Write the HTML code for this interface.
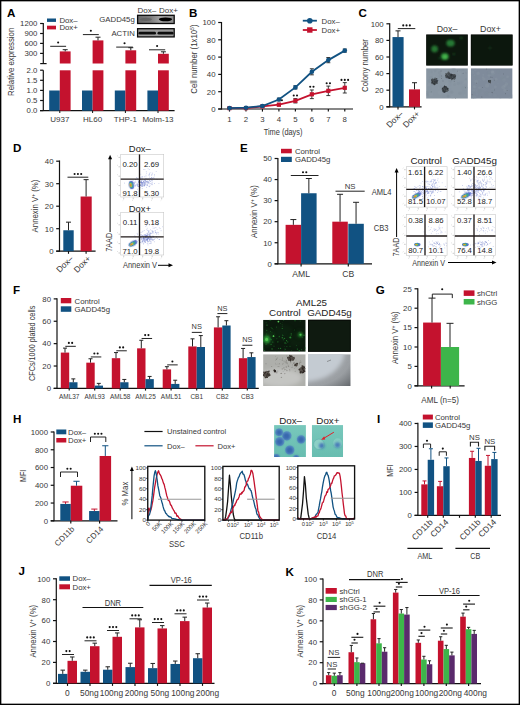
<!DOCTYPE html><html><head><meta charset="utf-8"><style>html,body{margin:0;padding:0;background:#fff;width:520px;height:705px;overflow:hidden}svg{display:block}text{font-family:"Liberation Sans",sans-serif}</style></head><body><svg width="520" height="705" viewBox="0 0 520 705" font-family="Liberation Sans, sans-serif">
<defs><filter id="bl1" x="-50%" y="-50%" width="200%" height="200%"><feGaussianBlur stdDeviation="1.2"/></filter><filter id="bl05" x="-50%" y="-50%" width="200%" height="200%"><feGaussianBlur stdDeviation="0.6"/></filter><filter id="bl2" x="-50%" y="-50%" width="200%" height="200%"><feGaussianBlur stdDeviation="2"/></filter></defs>
<rect x="0" y="0" width="520" height="705" fill="#fff"/>
<text transform="translate(7.00,12.60)" x="0" y="4.18" font-size="11.6" text-anchor="start" fill="#000" font-weight="bold" >A</text>
<line x1="43.30" y1="23.00" x2="43.30" y2="63.80" stroke="#111" stroke-width="1.2" />
<line x1="40.10" y1="23.50" x2="43.30" y2="23.50" stroke="#111" stroke-width="1.2" />
<text transform="translate(37.40,23.50)" x="0" y="2.81" font-size="7.8" text-anchor="end" fill="#383838" >1200</text>
<line x1="40.10" y1="33.50" x2="43.30" y2="33.50" stroke="#111" stroke-width="1.2" />
<text transform="translate(37.40,33.50)" x="0" y="2.81" font-size="7.8" text-anchor="end" fill="#383838" >900</text>
<line x1="40.10" y1="43.40" x2="43.30" y2="43.40" stroke="#111" stroke-width="1.2" />
<text transform="translate(37.40,43.40)" x="0" y="2.81" font-size="7.8" text-anchor="end" fill="#383838" >600</text>
<line x1="40.10" y1="53.40" x2="43.30" y2="53.40" stroke="#111" stroke-width="1.2" />
<text transform="translate(37.40,53.40)" x="0" y="2.81" font-size="7.8" text-anchor="end" fill="#383838" >300</text>
<line x1="40.20" y1="63.60" x2="46.60" y2="63.60" stroke="#111" stroke-width="1.2" />
<line x1="43.30" y1="70.20" x2="43.30" y2="110.80" stroke="#111" stroke-width="1.2" />
<line x1="40.10" y1="70.20" x2="43.30" y2="70.20" stroke="#111" stroke-width="1.2" />
<text transform="translate(37.40,70.20)" x="0" y="2.81" font-size="7.8" text-anchor="end" fill="#383838" >2.0</text>
<line x1="40.10" y1="80.30" x2="43.30" y2="80.30" stroke="#111" stroke-width="1.2" />
<text transform="translate(37.40,80.30)" x="0" y="2.81" font-size="7.8" text-anchor="end" fill="#383838" >1.5</text>
<line x1="40.10" y1="90.40" x2="43.30" y2="90.40" stroke="#111" stroke-width="1.2" />
<text transform="translate(37.40,90.40)" x="0" y="2.81" font-size="7.8" text-anchor="end" fill="#383838" >1.0</text>
<line x1="40.10" y1="100.50" x2="43.30" y2="100.50" stroke="#111" stroke-width="1.2" />
<text transform="translate(37.40,100.50)" x="0" y="2.81" font-size="7.8" text-anchor="end" fill="#383838" >0.5</text>
<line x1="40.10" y1="110.60" x2="43.30" y2="110.60" stroke="#111" stroke-width="1.2" />
<text transform="translate(37.40,110.60)" x="0" y="2.81" font-size="7.8" text-anchor="end" fill="#383838" >0.0</text>
<line x1="40.00" y1="110.70" x2="174.60" y2="110.70" stroke="#111" stroke-width="1.2" />
<text transform="translate(10.7,61.8) rotate(-90) scale(0.86,1)" x="0" y="3.28" font-size="9.1" text-anchor="middle" fill="#383838">Relative expression</text>
<rect x="49.20" y="90.50" width="10.60" height="20.20" fill="#115282" />
<rect x="59.80" y="70.30" width="10.80" height="40.40" fill="#c4122e" />
<rect x="59.80" y="51.40" width="10.80" height="12.10" fill="#c4122e" />
<line x1="65.20" y1="49.70" x2="65.20" y2="51.40" stroke="#222" stroke-width="1" />
<line x1="62.70" y1="49.70" x2="67.70" y2="49.70" stroke="#222" stroke-width="1" />
<line x1="50.20" y1="46.30" x2="66.10" y2="46.30" stroke="#222" stroke-width="1" />
<circle cx="58.15" cy="42.50" r="1.05" fill="#111"/>
<line x1="59.80" y1="110.70" x2="59.80" y2="113.00" stroke="#111" stroke-width="1" />
<text transform="translate(59.80,119.30)" x="0" y="2.88" font-size="8" text-anchor="middle" fill="#383838" >U937</text>
<rect x="82.00" y="90.50" width="10.60" height="20.20" fill="#115282" />
<rect x="92.60" y="70.30" width="10.80" height="40.40" fill="#c4122e" />
<rect x="92.60" y="40.40" width="10.80" height="23.10" fill="#c4122e" />
<line x1="98.00" y1="37.20" x2="98.00" y2="40.40" stroke="#222" stroke-width="1" />
<line x1="95.50" y1="37.20" x2="100.50" y2="37.20" stroke="#222" stroke-width="1" />
<line x1="82.90" y1="34.60" x2="98.80" y2="34.60" stroke="#222" stroke-width="1" />
<circle cx="90.85" cy="30.80" r="1.05" fill="#111"/>
<line x1="92.60" y1="110.70" x2="92.60" y2="113.00" stroke="#111" stroke-width="1" />
<text transform="translate(92.60,119.30)" x="0" y="2.88" font-size="8" text-anchor="middle" fill="#383838" >HL60</text>
<rect x="114.80" y="90.50" width="10.60" height="20.20" fill="#115282" />
<rect x="125.40" y="70.30" width="10.80" height="40.40" fill="#c4122e" />
<rect x="125.40" y="50.30" width="10.80" height="13.20" fill="#c4122e" />
<line x1="130.80" y1="47.70" x2="130.80" y2="50.30" stroke="#222" stroke-width="1" />
<line x1="128.30" y1="47.70" x2="133.30" y2="47.70" stroke="#222" stroke-width="1" />
<line x1="116.20" y1="47.10" x2="132.90" y2="47.10" stroke="#222" stroke-width="1" />
<circle cx="124.55" cy="43.30" r="1.05" fill="#111"/>
<line x1="125.40" y1="110.70" x2="125.40" y2="113.00" stroke="#111" stroke-width="1" />
<text transform="translate(125.40,119.30)" x="0" y="2.88" font-size="8" text-anchor="middle" fill="#383838" >THP-1</text>
<rect x="147.40" y="90.50" width="10.60" height="20.20" fill="#115282" />
<rect x="158.00" y="70.30" width="10.80" height="40.40" fill="#c4122e" />
<rect x="158.00" y="53.80" width="10.80" height="9.70" fill="#c4122e" />
<line x1="163.40" y1="51.80" x2="163.40" y2="53.80" stroke="#222" stroke-width="1" />
<line x1="160.90" y1="51.80" x2="165.90" y2="51.80" stroke="#222" stroke-width="1" />
<line x1="149.00" y1="49.80" x2="165.20" y2="49.80" stroke="#222" stroke-width="1" />
<circle cx="157.10" cy="46.00" r="1.05" fill="#111"/>
<line x1="158.00" y1="110.70" x2="158.00" y2="113.00" stroke="#111" stroke-width="1" />
<text transform="translate(158.00,119.30)" x="0" y="2.88" font-size="8" text-anchor="middle" fill="#383838" >Molm-13</text>
<rect x="47.00" y="18.50" width="9.00" height="3.40" fill="#115282" />
<text transform="translate(59.40,20.20)" x="0" y="2.81" font-size="7.8" text-anchor="start" fill="#383838" >Dox–</text>
<rect x="47.00" y="25.70" width="9.00" height="3.70" fill="#c4122e" />
<text transform="translate(59.40,27.60)" x="0" y="2.81" font-size="7.8" text-anchor="start" fill="#383838" >Dox+</text>
<text transform="translate(146.80,10.30)" x="0" y="2.88" font-size="8" text-anchor="middle" fill="#383838" >Dox–</text>
<text transform="translate(168.50,10.30)" x="0" y="2.88" font-size="8" text-anchor="middle" fill="#383838" >Dox+</text>
<defs><linearGradient id="wb1" x1="0" x2="1"><stop offset="0" stop-color="#6a6a6a"/><stop offset="0.35" stop-color="#7c7c7c"/><stop offset="0.6" stop-color="#a0a0a0"/><stop offset="1" stop-color="#8a8a8a"/></linearGradient></defs>
<rect x="137.6" y="15.3" width="36.6" height="8.2" fill="url(#wb1)" stroke="#0a0a0a" stroke-width="1.3"/>
<g filter="url(#bl05)"><ellipse cx="146" cy="19.4" rx="6" ry="1.6" fill="#555" opacity="0.6"/><ellipse cx="165.5" cy="19.3" rx="6.6" ry="1.9" fill="#050505"/></g>
<rect x="137.6" y="28.7" width="36.6" height="8.2" fill="#9a9a9a" stroke="#0a0a0a" stroke-width="1.3"/>
<g filter="url(#bl05)"><rect x="138.5" y="31.8" width="17.5" height="2.8" rx="1.4" fill="#111"/><rect x="157.5" y="31.8" width="16" height="2.8" rx="1.4" fill="#111"/></g>
<text transform="translate(134.80,19.40)" x="0" y="2.81" font-size="7.8" text-anchor="end" fill="#383838" >GADD45g</text>
<text transform="translate(134.80,32.80)" x="0" y="2.81" font-size="7.8" text-anchor="end" fill="#383838" >ACTIN</text>
<text transform="translate(189.10,12.50)" x="0" y="4.18" font-size="11.6" text-anchor="start" fill="#000" font-weight="bold" >B</text>
<line x1="221.50" y1="22.00" x2="221.50" y2="109.50" stroke="#111" stroke-width="1.2" />
<line x1="218.20" y1="109.00" x2="221.50" y2="109.00" stroke="#111" stroke-width="1.2" />
<text transform="translate(215.50,109.00)" x="0" y="2.81" font-size="7.8" text-anchor="end" fill="#383838" >0</text>
<line x1="218.20" y1="91.70" x2="221.50" y2="91.70" stroke="#111" stroke-width="1.2" />
<text transform="translate(215.50,91.70)" x="0" y="2.81" font-size="7.8" text-anchor="end" fill="#383838" >20</text>
<line x1="218.20" y1="74.40" x2="221.50" y2="74.40" stroke="#111" stroke-width="1.2" />
<text transform="translate(215.50,74.40)" x="0" y="2.81" font-size="7.8" text-anchor="end" fill="#383838" >40</text>
<line x1="218.20" y1="57.10" x2="221.50" y2="57.10" stroke="#111" stroke-width="1.2" />
<text transform="translate(215.50,57.10)" x="0" y="2.81" font-size="7.8" text-anchor="end" fill="#383838" >60</text>
<line x1="218.20" y1="39.80" x2="221.50" y2="39.80" stroke="#111" stroke-width="1.2" />
<text transform="translate(215.50,39.80)" x="0" y="2.81" font-size="7.8" text-anchor="end" fill="#383838" >80</text>
<line x1="218.20" y1="22.50" x2="221.50" y2="22.50" stroke="#111" stroke-width="1.2" />
<text transform="translate(215.50,22.50)" x="0" y="2.81" font-size="7.8" text-anchor="end" fill="#383838" >100</text>
<line x1="218.20" y1="109.00" x2="353.00" y2="109.00" stroke="#111" stroke-width="1.2" />
<line x1="229.50" y1="109.00" x2="229.50" y2="111.60" stroke="#111" stroke-width="1.15" />
<text transform="translate(229.50,118.70)" x="0" y="2.81" font-size="7.8" text-anchor="middle" fill="#383838" >1</text>
<line x1="245.97" y1="109.00" x2="245.97" y2="111.60" stroke="#111" stroke-width="1.15" />
<text transform="translate(245.97,118.70)" x="0" y="2.81" font-size="7.8" text-anchor="middle" fill="#383838" >2</text>
<line x1="262.44" y1="109.00" x2="262.44" y2="111.60" stroke="#111" stroke-width="1.15" />
<text transform="translate(262.44,118.70)" x="0" y="2.81" font-size="7.8" text-anchor="middle" fill="#383838" >3</text>
<line x1="278.91" y1="109.00" x2="278.91" y2="111.60" stroke="#111" stroke-width="1.15" />
<text transform="translate(278.91,118.70)" x="0" y="2.81" font-size="7.8" text-anchor="middle" fill="#383838" >4</text>
<line x1="295.38" y1="109.00" x2="295.38" y2="111.60" stroke="#111" stroke-width="1.15" />
<text transform="translate(295.38,118.70)" x="0" y="2.81" font-size="7.8" text-anchor="middle" fill="#383838" >5</text>
<line x1="311.85" y1="109.00" x2="311.85" y2="111.60" stroke="#111" stroke-width="1.15" />
<text transform="translate(311.85,118.70)" x="0" y="2.81" font-size="7.8" text-anchor="middle" fill="#383838" >6</text>
<line x1="328.32" y1="109.00" x2="328.32" y2="111.60" stroke="#111" stroke-width="1.15" />
<text transform="translate(328.32,118.70)" x="0" y="2.81" font-size="7.8" text-anchor="middle" fill="#383838" >7</text>
<line x1="344.79" y1="109.00" x2="344.79" y2="111.60" stroke="#111" stroke-width="1.15" />
<text transform="translate(344.79,118.70)" x="0" y="2.81" font-size="7.8" text-anchor="middle" fill="#383838" >8</text>
<text transform="translate(283.10,131.50) scale(0.86,1)" x="0" y="3.10" font-size="8.6" text-anchor="middle" fill="#383838" >Time (days)</text>
<text transform="translate(194.2,59.1) rotate(-90) scale(0.86,1)" x="0" y="3.28" font-size="9.1" text-anchor="middle" fill="#383838">Cell number (1x10<tspan font-size="6" dy="-3.2">5</tspan><tspan dy="3.2">)</tspan></text>
<line x1="229.50" y1="107.62" x2="229.50" y2="108.65" stroke="#222" stroke-width="0.9" />
<line x1="227.50" y1="107.62" x2="231.50" y2="107.62" stroke="#222" stroke-width="0.9" />
<line x1="227.50" y1="108.65" x2="231.50" y2="108.65" stroke="#222" stroke-width="0.9" />
<line x1="245.97" y1="107.62" x2="245.97" y2="108.65" stroke="#222" stroke-width="0.9" />
<line x1="243.97" y1="107.62" x2="247.97" y2="107.62" stroke="#222" stroke-width="0.9" />
<line x1="243.97" y1="108.65" x2="247.97" y2="108.65" stroke="#222" stroke-width="0.9" />
<line x1="262.44" y1="105.89" x2="262.44" y2="106.92" stroke="#222" stroke-width="0.9" />
<line x1="260.44" y1="105.89" x2="264.44" y2="105.89" stroke="#222" stroke-width="0.9" />
<line x1="260.44" y1="106.92" x2="264.44" y2="106.92" stroke="#222" stroke-width="0.9" />
<line x1="278.91" y1="103.38" x2="278.91" y2="105.97" stroke="#222" stroke-width="0.9" />
<line x1="276.91" y1="103.38" x2="280.91" y2="103.38" stroke="#222" stroke-width="0.9" />
<line x1="276.91" y1="105.97" x2="280.91" y2="105.97" stroke="#222" stroke-width="0.9" />
<line x1="295.38" y1="98.62" x2="295.38" y2="102.94" stroke="#222" stroke-width="0.9" />
<line x1="293.38" y1="98.62" x2="297.38" y2="98.62" stroke="#222" stroke-width="0.9" />
<line x1="293.38" y1="102.94" x2="297.38" y2="102.94" stroke="#222" stroke-width="0.9" />
<line x1="311.85" y1="89.97" x2="311.85" y2="98.62" stroke="#222" stroke-width="0.9" />
<line x1="309.85" y1="89.97" x2="313.85" y2="89.97" stroke="#222" stroke-width="0.9" />
<line x1="309.85" y1="98.62" x2="313.85" y2="98.62" stroke="#222" stroke-width="0.9" />
<line x1="328.32" y1="86.08" x2="328.32" y2="95.59" stroke="#222" stroke-width="0.9" />
<line x1="326.32" y1="86.08" x2="330.32" y2="86.08" stroke="#222" stroke-width="0.9" />
<line x1="326.32" y1="95.59" x2="330.32" y2="95.59" stroke="#222" stroke-width="0.9" />
<line x1="344.79" y1="82.62" x2="344.79" y2="93.00" stroke="#222" stroke-width="0.9" />
<line x1="342.79" y1="82.62" x2="346.79" y2="82.62" stroke="#222" stroke-width="0.9" />
<line x1="342.79" y1="93.00" x2="346.79" y2="93.00" stroke="#222" stroke-width="0.9" />
<polyline points="229.5,108.1 246.0,108.1 262.4,106.4 278.9,104.7 295.4,100.8 311.9,94.3 328.3,90.8 344.8,87.8" fill="none" stroke="#c4122e" stroke-width="1.8"/>
<rect x="227.40" y="106.04" width="4.20" height="4.20" fill="#c4122e" />
<rect x="243.87" y="106.04" width="4.20" height="4.20" fill="#c4122e" />
<rect x="260.34" y="104.31" width="4.20" height="4.20" fill="#c4122e" />
<rect x="276.81" y="102.58" width="4.20" height="4.20" fill="#c4122e" />
<rect x="293.28" y="98.68" width="4.20" height="4.20" fill="#c4122e" />
<rect x="309.75" y="92.20" width="4.20" height="4.20" fill="#c4122e" />
<rect x="326.22" y="88.74" width="4.20" height="4.20" fill="#c4122e" />
<rect x="342.69" y="85.71" width="4.20" height="4.20" fill="#c4122e" />
<line x1="229.50" y1="107.62" x2="229.50" y2="108.65" stroke="#222" stroke-width="0.9" />
<line x1="227.50" y1="107.62" x2="231.50" y2="107.62" stroke="#222" stroke-width="0.9" />
<line x1="227.50" y1="108.65" x2="231.50" y2="108.65" stroke="#222" stroke-width="0.9" />
<line x1="245.97" y1="107.18" x2="245.97" y2="108.22" stroke="#222" stroke-width="0.9" />
<line x1="243.97" y1="107.18" x2="247.97" y2="107.18" stroke="#222" stroke-width="0.9" />
<line x1="243.97" y1="108.22" x2="247.97" y2="108.22" stroke="#222" stroke-width="0.9" />
<line x1="262.44" y1="105.11" x2="262.44" y2="106.84" stroke="#222" stroke-width="0.9" />
<line x1="260.44" y1="105.11" x2="264.44" y2="105.11" stroke="#222" stroke-width="0.9" />
<line x1="260.44" y1="106.84" x2="264.44" y2="106.84" stroke="#222" stroke-width="0.9" />
<line x1="278.91" y1="98.19" x2="278.91" y2="100.78" stroke="#222" stroke-width="0.9" />
<line x1="276.91" y1="98.19" x2="280.91" y2="98.19" stroke="#222" stroke-width="0.9" />
<line x1="276.91" y1="100.78" x2="280.91" y2="100.78" stroke="#222" stroke-width="0.9" />
<line x1="295.38" y1="85.82" x2="295.38" y2="88.93" stroke="#222" stroke-width="0.9" />
<line x1="293.38" y1="85.82" x2="297.38" y2="85.82" stroke="#222" stroke-width="0.9" />
<line x1="293.38" y1="88.93" x2="297.38" y2="88.93" stroke="#222" stroke-width="0.9" />
<line x1="311.85" y1="68.78" x2="311.85" y2="74.83" stroke="#222" stroke-width="0.9" />
<line x1="309.85" y1="68.78" x2="313.85" y2="68.78" stroke="#222" stroke-width="0.9" />
<line x1="309.85" y1="74.83" x2="313.85" y2="74.83" stroke="#222" stroke-width="0.9" />
<line x1="328.32" y1="57.53" x2="328.32" y2="62.72" stroke="#222" stroke-width="0.9" />
<line x1="326.32" y1="57.53" x2="330.32" y2="57.53" stroke="#222" stroke-width="0.9" />
<line x1="326.32" y1="62.72" x2="330.32" y2="62.72" stroke="#222" stroke-width="0.9" />
<line x1="344.79" y1="49.06" x2="344.79" y2="52.17" stroke="#222" stroke-width="0.9" />
<line x1="342.79" y1="49.06" x2="346.79" y2="49.06" stroke="#222" stroke-width="0.9" />
<line x1="342.79" y1="52.17" x2="346.79" y2="52.17" stroke="#222" stroke-width="0.9" />
<polyline points="229.5,108.1 246.0,107.7 262.4,106.0 278.9,99.5 295.4,87.4 311.9,71.8 328.3,60.1 344.8,50.6" fill="none" stroke="#115282" stroke-width="1.8"/>
<circle cx="229.5" cy="108.1" r="2.3" fill="#115282"/>
<circle cx="246.0" cy="107.7" r="2.3" fill="#115282"/>
<circle cx="262.4" cy="106.0" r="2.3" fill="#115282"/>
<circle cx="278.9" cy="99.5" r="2.3" fill="#115282"/>
<circle cx="295.4" cy="87.4" r="2.3" fill="#115282"/>
<circle cx="311.9" cy="71.8" r="2.3" fill="#115282"/>
<circle cx="328.3" cy="60.1" r="2.3" fill="#115282"/>
<circle cx="344.8" cy="50.6" r="2.3" fill="#115282"/>
<circle cx="281.91" cy="100.30" r="1.05" fill="#111"/>
<circle cx="293.73" cy="95.50" r="1.05" fill="#111"/>
<circle cx="297.03" cy="95.50" r="1.05" fill="#111"/>
<circle cx="310.20" cy="86.80" r="1.05" fill="#111"/>
<circle cx="313.50" cy="86.80" r="1.05" fill="#111"/>
<circle cx="326.67" cy="83.30" r="1.05" fill="#111"/>
<circle cx="329.97" cy="83.30" r="1.05" fill="#111"/>
<circle cx="341.49" cy="79.90" r="1.05" fill="#111"/>
<circle cx="344.79" cy="79.90" r="1.05" fill="#111"/>
<circle cx="348.09" cy="79.90" r="1.05" fill="#111"/>
<line x1="302.80" y1="20.70" x2="316.90" y2="20.70" stroke="#115282" stroke-width="1.8" />
<circle cx="309.8" cy="20.7" r="2.8" fill="#115282"/>
<text transform="translate(321.60,20.70)" x="0" y="2.81" font-size="7.8" text-anchor="start" fill="#383838" >Dox–</text>
<line x1="302.80" y1="30.00" x2="316.90" y2="30.00" stroke="#c4122e" stroke-width="1.8" />
<rect x="307.10" y="27.30" width="5.40" height="5.40" fill="#c4122e" />
<text transform="translate(321.60,30.00)" x="0" y="2.81" font-size="7.8" text-anchor="start" fill="#383838" >Dox+</text>
<text transform="translate(358.60,12.50)" x="0" y="4.18" font-size="11.6" text-anchor="start" fill="#000" font-weight="bold" >C</text>
<line x1="389.70" y1="23.30" x2="389.70" y2="107.30" stroke="#111" stroke-width="1.2" />
<line x1="386.40" y1="106.80" x2="389.70" y2="106.80" stroke="#111" stroke-width="1.2" />
<text transform="translate(383.70,106.80)" x="0" y="2.81" font-size="7.8" text-anchor="end" fill="#383838" >0</text>
<line x1="386.40" y1="90.20" x2="389.70" y2="90.20" stroke="#111" stroke-width="1.2" />
<text transform="translate(383.70,90.20)" x="0" y="2.81" font-size="7.8" text-anchor="end" fill="#383838" >20</text>
<line x1="386.40" y1="73.60" x2="389.70" y2="73.60" stroke="#111" stroke-width="1.2" />
<text transform="translate(383.70,73.60)" x="0" y="2.81" font-size="7.8" text-anchor="end" fill="#383838" >40</text>
<line x1="386.40" y1="57.00" x2="389.70" y2="57.00" stroke="#111" stroke-width="1.2" />
<text transform="translate(383.70,57.00)" x="0" y="2.81" font-size="7.8" text-anchor="end" fill="#383838" >60</text>
<line x1="386.40" y1="40.40" x2="389.70" y2="40.40" stroke="#111" stroke-width="1.2" />
<text transform="translate(383.70,40.40)" x="0" y="2.81" font-size="7.8" text-anchor="end" fill="#383838" >80</text>
<line x1="386.40" y1="23.80" x2="389.70" y2="23.80" stroke="#111" stroke-width="1.2" />
<text transform="translate(383.70,23.80)" x="0" y="2.81" font-size="7.8" text-anchor="end" fill="#383838" >100</text>
<line x1="386.40" y1="106.80" x2="421.60" y2="106.80" stroke="#111" stroke-width="1.2" />
<rect x="392.50" y="37.08" width="11.10" height="69.72" fill="#115282" />
<line x1="398.00" y1="30.86" x2="398.00" y2="37.08" stroke="#222" stroke-width="1" />
<line x1="395.50" y1="30.86" x2="400.50" y2="30.86" stroke="#222" stroke-width="1" />
<rect x="409.00" y="89.37" width="11.00" height="17.43" fill="#c4122e" />
<line x1="414.50" y1="82.73" x2="414.50" y2="89.37" stroke="#222" stroke-width="1" />
<line x1="412.00" y1="82.73" x2="417.00" y2="82.73" stroke="#222" stroke-width="1" />
<line x1="398.00" y1="106.80" x2="398.00" y2="109.40" stroke="#111" stroke-width="1.15" />
<line x1="414.50" y1="106.80" x2="414.50" y2="109.40" stroke="#111" stroke-width="1.15" />
<line x1="397.80" y1="28.60" x2="415.30" y2="28.60" stroke="#222" stroke-width="1" />
<circle cx="403.25" cy="25.40" r="1.05" fill="#111"/>
<circle cx="406.55" cy="25.40" r="1.05" fill="#111"/>
<circle cx="409.85" cy="25.40" r="1.05" fill="#111"/>
<text transform="translate(401.5,112.2) rotate(-45)" x="0" y="3.02" font-size="8.4" text-anchor="end" fill="#383838">Dox–</text>
<text transform="translate(418,112.2) rotate(-45)" x="0" y="3.02" font-size="8.4" text-anchor="end" fill="#383838">Dox+</text>
<text transform="translate(365,65.5) rotate(-90) scale(0.86,1)" x="0" y="3.28" font-size="9.1" text-anchor="middle" fill="#383838">Colony number</text>
<text transform="translate(447.00,28.70)" x="0" y="3.17" font-size="8.8" text-anchor="middle" fill="#383838" >Dox–</text>
<text transform="translate(490.50,28.70)" x="0" y="3.17" font-size="8.8" text-anchor="middle" fill="#383838" >Dox+</text>
<svg x="426.2" y="34.6" width="41.60000000000002" height="30.999999999999993" viewBox="426.2 34.6 41.60000000000002 30.999999999999993" overflow="hidden">
<rect x="426.20" y="34.60" width="41.60" height="31.00" fill="#0c170d" />
<rect x="426.2" y="34.6" width="41.60000000000002" height="30.999999999999993" fill="none" stroke="#060806" stroke-width="1.2"/>
<ellipse cx="450.5" cy="43.2" rx="4.2" ry="3.4" fill="#267834" filter="url(#bl1)"/>
<ellipse cx="434.6" cy="48.9" rx="3.4" ry="3.4" fill="#257532" filter="url(#bl1)"/>
<ellipse cx="444.8" cy="56.5" rx="3.9" ry="3.6" fill="#31983c" filter="url(#bl1)"/>
<ellipse cx="445" cy="56.8" rx="1.6" ry="1.4" fill="#5cc85a" filter="url(#bl1)"/>
<ellipse cx="461.2" cy="38.1" rx="1.1" ry="1.0" fill="#1f5e28" filter="url(#bl1)"/>
<ellipse cx="453.9" cy="54.2" rx="0.9" ry="0.9" fill="#1f5e28" filter="url(#bl1)"/>
<ellipse cx="439.5" cy="58.2" rx="0.9" ry="0.9" fill="#1c5424" filter="url(#bl1)"/>
</svg>
<svg x="470.8" y="34.6" width="41.80000000000001" height="30.999999999999993" viewBox="470.8 34.6 41.80000000000001 30.999999999999993" overflow="hidden">
<rect x="470.80" y="34.60" width="41.80" height="31.00" fill="#0c170d" />
<rect x="470.8" y="34.6" width="41.80000000000001" height="30.999999999999993" fill="none" stroke="#060806" stroke-width="1.2"/>
<ellipse cx="490" cy="48" rx="1.1" ry="1.1" fill="#1c4420" filter="url(#bl1)"/>
</svg>
<svg x="426.1" y="68.2" width="41.799999999999955" height="30.5" viewBox="426.1 68.2 41.799999999999955 30.5" overflow="hidden">
<rect x="426.10" y="68.20" width="41.80" height="30.50" fill="#8996a2" />
<circle cx="439.6" cy="72.8" r="1.7" fill="#7e8c98" opacity="0.25" filter="url(#bl05)"/>
<circle cx="460.4" cy="71.1" r="1.6" fill="#8592a0" opacity="0.25" filter="url(#bl05)"/>
<circle cx="435.1" cy="70.8" r="1.4" fill="#7e8c98" opacity="0.25" filter="url(#bl05)"/>
<circle cx="429.9" cy="81.1" r="2.0" fill="#7e8c98" opacity="0.25" filter="url(#bl05)"/>
<circle cx="465.7" cy="87.4" r="1.6" fill="#7e8c98" opacity="0.25" filter="url(#bl05)"/>
<circle cx="450.2" cy="80.3" r="2.2" fill="#7e8c98" opacity="0.25" filter="url(#bl05)"/>
<circle cx="449.4" cy="72.3" r="1.4" fill="#8592a0" opacity="0.25" filter="url(#bl05)"/>
<circle cx="431.0" cy="77.6" r="1.9" fill="#7e8c98" opacity="0.25" filter="url(#bl05)"/>
<circle cx="430.4" cy="85.6" r="1.1" fill="#7e8c98" opacity="0.25" filter="url(#bl05)"/>
<circle cx="449.0" cy="70.1" r="0.9" fill="#7e8c98" opacity="0.25" filter="url(#bl05)"/>
<circle cx="446.9" cy="84.4" r="1.9" fill="#93a0aa" opacity="0.25" filter="url(#bl05)"/>
<circle cx="450.6" cy="82.0" r="1.2" fill="#7e8c98" opacity="0.25" filter="url(#bl05)"/>
<circle cx="455.3" cy="75.6" r="1.6" fill="#8592a0" opacity="0.25" filter="url(#bl05)"/>
<circle cx="446.8" cy="78.7" r="1.4" fill="#8592a0" opacity="0.25" filter="url(#bl05)"/>
<circle cx="467.1" cy="71.8" r="1.4" fill="#93a0aa" opacity="0.25" filter="url(#bl05)"/>
<circle cx="432.5" cy="83.1" r="0.9" fill="#8592a0" opacity="0.25" filter="url(#bl05)"/>
<circle cx="429.3" cy="85.2" r="1.9" fill="#93a0aa" opacity="0.25" filter="url(#bl05)"/>
<circle cx="440.3" cy="78.9" r="1.5" fill="#93a0aa" opacity="0.25" filter="url(#bl05)"/>
<circle cx="429.0" cy="71.1" r="1.2" fill="#8592a0" opacity="0.25" filter="url(#bl05)"/>
<circle cx="453.9" cy="70.1" r="1.8" fill="#8592a0" opacity="0.25" filter="url(#bl05)"/>
<circle cx="450.3" cy="89.0" r="1.4" fill="#8592a0" opacity="0.25" filter="url(#bl05)"/>
<circle cx="442.2" cy="88.6" r="0.8" fill="#93a0aa" opacity="0.25" filter="url(#bl05)"/>
<circle cx="441.0" cy="86.8" r="1.5" fill="#7e8c98" opacity="0.25" filter="url(#bl05)"/>
<circle cx="458.2" cy="72.1" r="1.1" fill="#93a0aa" opacity="0.25" filter="url(#bl05)"/>
<circle cx="464.4" cy="83.3" r="1.0" fill="#93a0aa" opacity="0.25" filter="url(#bl05)"/>
<circle cx="449.1" cy="95.1" r="1.9" fill="#8592a0" opacity="0.25" filter="url(#bl05)"/>
<circle cx="437.7" cy="80.9" r="1.3" fill="#93a0aa" opacity="0.25" filter="url(#bl05)"/>
<circle cx="466.1" cy="72.8" r="1.0" fill="#7e8c98" opacity="0.25" filter="url(#bl05)"/>
<circle cx="453.6" cy="68.6" r="2.0" fill="#7e8c98" opacity="0.25" filter="url(#bl05)"/>
<circle cx="437.1" cy="68.3" r="1.4" fill="#93a0aa" opacity="0.25" filter="url(#bl05)"/>
<circle cx="451.6" cy="77.9" r="1.0" fill="#8592a0" opacity="0.25" filter="url(#bl05)"/>
<circle cx="465.8" cy="88.2" r="1.8" fill="#93a0aa" opacity="0.25" filter="url(#bl05)"/>
<circle cx="463.7" cy="92.0" r="2.0" fill="#8592a0" opacity="0.25" filter="url(#bl05)"/>
<circle cx="442.5" cy="80.4" r="0.9" fill="#8592a0" opacity="0.25" filter="url(#bl05)"/>
<circle cx="442.8" cy="74.0" r="2.2" fill="#93a0aa" opacity="0.25" filter="url(#bl05)"/>
<circle cx="432.9" cy="78.6" r="0.9" fill="#7e8c98" opacity="0.25" filter="url(#bl05)"/>
<circle cx="449.8" cy="84.6" r="2.1" fill="#8592a0" opacity="0.25" filter="url(#bl05)"/>
<circle cx="427.2" cy="94.9" r="1.7" fill="#7e8c98" opacity="0.25" filter="url(#bl05)"/>
<circle cx="452.6" cy="97.3" r="1.6" fill="#93a0aa" opacity="0.25" filter="url(#bl05)"/>
<circle cx="431.2" cy="94.1" r="2.2" fill="#93a0aa" opacity="0.25" filter="url(#bl05)"/>
<circle cx="446.2" cy="77.7" r="1.0" fill="#8592a0" opacity="0.25" filter="url(#bl05)"/>
<circle cx="440.4" cy="76.3" r="2.0" fill="#7e8c98" opacity="0.25" filter="url(#bl05)"/>
<circle cx="447.7" cy="74.5" r="2.1" fill="#93a0aa" opacity="0.25" filter="url(#bl05)"/>
<circle cx="432.2" cy="84.8" r="0.8" fill="#8592a0" opacity="0.25" filter="url(#bl05)"/>
<circle cx="438.6" cy="87.8" r="0.9" fill="#93a0aa" opacity="0.25" filter="url(#bl05)"/>
<circle cx="447.8" cy="95.9" r="1.3" fill="#7e8c98" opacity="0.25" filter="url(#bl05)"/>
<circle cx="448.4" cy="92.0" r="1.3" fill="#7e8c98" opacity="0.25" filter="url(#bl05)"/>
<circle cx="451.7" cy="92.2" r="1.9" fill="#7e8c98" opacity="0.25" filter="url(#bl05)"/>
<circle cx="459.8" cy="93.2" r="1.8" fill="#7e8c98" opacity="0.25" filter="url(#bl05)"/>
<circle cx="434.5" cy="83.2" r="1.8" fill="#7e8c98" opacity="0.25" filter="url(#bl05)"/>
<circle cx="459.1" cy="82.6" r="1.1" fill="#8592a0" opacity="0.25" filter="url(#bl05)"/>
<circle cx="466.1" cy="81.8" r="2.1" fill="#93a0aa" opacity="0.25" filter="url(#bl05)"/>
<circle cx="466.0" cy="79.3" r="1.1" fill="#7e8c98" opacity="0.25" filter="url(#bl05)"/>
<circle cx="445.7" cy="78.5" r="1.5" fill="#8592a0" opacity="0.25" filter="url(#bl05)"/>
<circle cx="461.2" cy="82.8" r="1.7" fill="#8592a0" opacity="0.25" filter="url(#bl05)"/>
<circle cx="429.6" cy="88.3" r="2.1" fill="#8592a0" opacity="0.25" filter="url(#bl05)"/>
<circle cx="457.5" cy="82.8" r="1.0" fill="#8592a0" opacity="0.25" filter="url(#bl05)"/>
<circle cx="440.0" cy="92.6" r="2.2" fill="#93a0aa" opacity="0.25" filter="url(#bl05)"/>
<circle cx="445.5" cy="90.9" r="0.9" fill="#7e8c98" opacity="0.25" filter="url(#bl05)"/>
<circle cx="433.2" cy="72.1" r="1.0" fill="#93a0aa" opacity="0.25" filter="url(#bl05)"/>
<circle cx="459.8" cy="72.7" r="2.0" fill="#93a0aa" opacity="0.25" filter="url(#bl05)"/>
<circle cx="453.6" cy="78.9" r="1.6" fill="#7e8c98" opacity="0.25" filter="url(#bl05)"/>
<circle cx="427.0" cy="92.6" r="1.8" fill="#7e8c98" opacity="0.25" filter="url(#bl05)"/>
<circle cx="448.1" cy="96.7" r="1.4" fill="#7e8c98" opacity="0.25" filter="url(#bl05)"/>
<circle cx="460.6" cy="74.6" r="1.2" fill="#93a0aa" opacity="0.25" filter="url(#bl05)"/>
<circle cx="447.0" cy="91.5" r="1.3" fill="#8592a0" opacity="0.25" filter="url(#bl05)"/>
<circle cx="443.6" cy="72.2" r="2.1" fill="#93a0aa" opacity="0.25" filter="url(#bl05)"/>
<circle cx="463.6" cy="88.4" r="1.9" fill="#8592a0" opacity="0.25" filter="url(#bl05)"/>
<circle cx="443.7" cy="96.2" r="1.5" fill="#8592a0" opacity="0.25" filter="url(#bl05)"/>
<circle cx="432.4" cy="83.8" r="2.0" fill="#7e8c98" opacity="0.25" filter="url(#bl05)"/>
<circle cx="451.5" cy="91.9" r="1.0" fill="#7e8c98" opacity="0.25" filter="url(#bl05)"/>
<circle cx="445.9" cy="90.3" r="1.6" fill="#93a0aa" opacity="0.25" filter="url(#bl05)"/>
<circle cx="454.6" cy="84.4" r="1.5" fill="#7e8c98" opacity="0.25" filter="url(#bl05)"/>
<circle cx="463.0" cy="69.9" r="1.1" fill="#7e8c98" opacity="0.25" filter="url(#bl05)"/>
<circle cx="458.4" cy="83.7" r="1.6" fill="#7e8c98" opacity="0.25" filter="url(#bl05)"/>
<circle cx="444.6" cy="86.9" r="1.5" fill="#8592a0" opacity="0.25" filter="url(#bl05)"/>
<circle cx="434.4" cy="76.7" r="1.5" fill="#93a0aa" opacity="0.25" filter="url(#bl05)"/>
<circle cx="447.3" cy="75.8" r="1.5" fill="#93a0aa" opacity="0.25" filter="url(#bl05)"/>
<circle cx="464.7" cy="95.4" r="1.1" fill="#93a0aa" opacity="0.25" filter="url(#bl05)"/>
<circle cx="431.8" cy="71.9" r="1.4" fill="#7e8c98" opacity="0.25" filter="url(#bl05)"/>
<circle cx="454.2" cy="81.3" r="0.45" fill="#4a5258" opacity="0.7"/>
<circle cx="435.0" cy="77.4" r="0.45" fill="#4a5258" opacity="0.7"/>
<circle cx="431.2" cy="91.9" r="0.45" fill="#4a5258" opacity="0.7"/>
<circle cx="465.4" cy="87.8" r="0.45" fill="#4a5258" opacity="0.7"/>
<circle cx="441.4" cy="75.9" r="0.45" fill="#4a5258" opacity="0.7"/>
<circle cx="431.8" cy="82.5" r="0.45" fill="#4a5258" opacity="0.7"/>
<circle cx="457.3" cy="71.1" r="0.45" fill="#4a5258" opacity="0.7"/>
<circle cx="463.1" cy="73.2" r="0.45" fill="#4a5258" opacity="0.7"/>
<circle cx="454.0" cy="75.0" r="0.45" fill="#4a5258" opacity="0.7"/>
<circle cx="455.6" cy="98.5" r="0.45" fill="#4a5258" opacity="0.7"/>
<circle cx="443.0" cy="81.0" r="0.45" fill="#4a5258" opacity="0.7"/>
<circle cx="441.0" cy="71.0" r="0.45" fill="#4a5258" opacity="0.7"/>
<circle cx="441.4" cy="78.5" r="0.45" fill="#4a5258" opacity="0.7"/>
<circle cx="445.3" cy="89.6" r="0.45" fill="#4a5258" opacity="0.7"/>
<g filter="url(#bl05)"><ellipse cx="448.6" cy="75.4" rx="2.72" ry="2.55" fill="#3a4045" opacity="0.85"/>
<circle cx="450.52" cy="77.43" r="0.88" fill="#3a4045"/>
<circle cx="450.60" cy="77.12" r="0.74" fill="#555c60"/>
<circle cx="448.79" cy="74.70" r="0.51" fill="#555c60"/>
<circle cx="446.12" cy="76.45" r="0.50" fill="#555c60"/>
<circle cx="448.31" cy="78.01" r="0.80" fill="#2e3438"/>
<circle cx="448.92" cy="75.19" r="0.51" fill="#2e3438"/>
<circle cx="450.26" cy="74.77" r="0.61" fill="#555c60"/>
<circle cx="448.27" cy="73.38" r="0.88" fill="#555c60"/>
<circle cx="447.00" cy="74.88" r="0.84" fill="#555c60"/>
<circle cx="451.52" cy="74.55" r="0.71" fill="#2e3438"/>
<circle cx="449.85" cy="78.15" r="0.93" fill="#2e3438"/>
<circle cx="448.47" cy="72.59" r="0.99" fill="#555c60"/>
<circle cx="445.58" cy="75.26" r="0.59" fill="#3a4045"/>
<circle cx="446.07" cy="73.94" r="0.92" fill="#555c60"/>
<circle cx="448.24" cy="75.19" r="0.62" fill="#555c60"/>
<circle cx="447.64" cy="75.94" r="0.77" fill="#3a4045"/>
<circle cx="450.74" cy="76.61" r="0.55" fill="#464d52"/>
<circle cx="446.79" cy="75.18" r="0.74" fill="#2e3438"/>
<circle cx="447.05" cy="75.68" r="0.92" fill="#555c60"/>
<circle cx="447.94" cy="74.58" r="0.61" fill="#2e3438"/>
<circle cx="448.88" cy="73.35" r="0.93" fill="#464d52"/>
<circle cx="447.21" cy="76.29" r="0.92" fill="#3a4045"/>
<circle cx="447.19" cy="75.75" r="0.77" fill="#2e3438"/>
<circle cx="446.43" cy="77.23" r="0.98" fill="#464d52"/>
<circle cx="446.35" cy="75.15" r="0.71" fill="#2e3438"/>
<circle cx="446.87" cy="75.59" r="0.78" fill="#555c60"/>
<circle cx="446.88" cy="75.55" r="0.67" fill="#3a4045"/>
<circle cx="448.24" cy="75.49" r="0.61" fill="#464d52"/>
<circle cx="447.51" cy="75.06" r="0.55" fill="#3a4045"/>
<circle cx="451.63" cy="75.99" r="0.54" fill="#2e3438"/>
<circle cx="446.02" cy="76.14" r="0.64" fill="#3a4045"/>
<circle cx="450.46" cy="76.84" r="0.67" fill="#2e3438"/>
<circle cx="449.30" cy="76.55" r="0.98" fill="#3a4045"/>
<circle cx="447.68" cy="74.24" r="0.85" fill="#555c60"/>
<circle cx="448.27" cy="75.45" r="0.69" fill="#555c60"/>
<circle cx="449.01" cy="74.12" r="0.63" fill="#464d52"/>
<circle cx="450.49" cy="75.01" r="0.99" fill="#464d52"/>
<circle cx="449.60" cy="75.51" r="0.86" fill="#464d52"/>
<circle cx="446.60" cy="76.07" r="0.71" fill="#464d52"/>
<circle cx="451.00" cy="75.07" r="0.85" fill="#555c60"/>
</g>
<g filter="url(#bl05)"><ellipse cx="452.8" cy="76.6" rx="2.55" ry="2.55" fill="#3a4045" opacity="0.85"/>
<circle cx="455.59" cy="75.81" r="0.53" fill="#2e3438"/>
<circle cx="452.14" cy="77.39" r="0.90" fill="#3a4045"/>
<circle cx="452.79" cy="77.78" r="0.52" fill="#464d52"/>
<circle cx="455.09" cy="76.60" r="0.90" fill="#3a4045"/>
<circle cx="451.03" cy="76.09" r="0.63" fill="#2e3438"/>
<circle cx="453.93" cy="75.41" r="0.97" fill="#555c60"/>
<circle cx="450.33" cy="77.89" r="0.58" fill="#464d52"/>
<circle cx="452.83" cy="76.92" r="0.66" fill="#464d52"/>
<circle cx="451.18" cy="76.50" r="0.76" fill="#464d52"/>
<circle cx="454.65" cy="76.54" r="0.71" fill="#3a4045"/>
<circle cx="453.20" cy="75.04" r="0.99" fill="#555c60"/>
<circle cx="454.14" cy="78.75" r="0.86" fill="#555c60"/>
<circle cx="452.07" cy="75.52" r="0.64" fill="#555c60"/>
<circle cx="450.11" cy="76.59" r="0.68" fill="#555c60"/>
<circle cx="454.32" cy="75.49" r="0.78" fill="#555c60"/>
<circle cx="451.59" cy="76.70" r="0.66" fill="#464d52"/>
<circle cx="454.40" cy="75.03" r="0.89" fill="#555c60"/>
<circle cx="451.73" cy="79.32" r="0.85" fill="#555c60"/>
<circle cx="452.36" cy="77.68" r="0.76" fill="#2e3438"/>
<circle cx="453.14" cy="75.06" r="0.50" fill="#464d52"/>
<circle cx="453.58" cy="76.59" r="0.79" fill="#2e3438"/>
<circle cx="452.62" cy="77.82" r="0.94" fill="#2e3438"/>
<circle cx="452.82" cy="75.69" r="0.63" fill="#464d52"/>
<circle cx="453.32" cy="76.41" r="0.95" fill="#2e3438"/>
<circle cx="454.32" cy="77.17" r="0.62" fill="#2e3438"/>
<circle cx="455.33" cy="78.05" r="0.51" fill="#2e3438"/>
<circle cx="452.19" cy="77.22" r="0.97" fill="#464d52"/>
<circle cx="452.73" cy="76.59" r="0.79" fill="#464d52"/>
<circle cx="453.04" cy="76.93" r="0.67" fill="#2e3438"/>
<circle cx="452.36" cy="78.50" r="0.65" fill="#2e3438"/>
<circle cx="454.87" cy="75.14" r="0.93" fill="#464d52"/>
<circle cx="451.59" cy="76.81" r="0.83" fill="#3a4045"/>
<circle cx="452.97" cy="76.33" r="0.89" fill="#464d52"/>
<circle cx="450.23" cy="76.30" r="0.74" fill="#3a4045"/>
<circle cx="454.61" cy="78.90" r="0.63" fill="#555c60"/>
<circle cx="451.42" cy="74.61" r="0.98" fill="#2e3438"/>
<circle cx="452.78" cy="77.49" r="0.59" fill="#555c60"/>
<circle cx="451.48" cy="75.10" r="0.99" fill="#2e3438"/>
<circle cx="454.05" cy="76.56" r="0.72" fill="#3a4045"/>
<circle cx="453.88" cy="77.20" r="0.90" fill="#3a4045"/>
</g>
<g filter="url(#bl05)"><ellipse cx="434.6" cy="81.6" rx="2.8049999999999997" ry="2.8899999999999997" fill="#3a4045" opacity="0.85"/>
<circle cx="434.77" cy="83.95" r="0.68" fill="#555c60"/>
<circle cx="434.15" cy="81.13" r="0.51" fill="#555c60"/>
<circle cx="434.52" cy="83.02" r="1.00" fill="#555c60"/>
<circle cx="432.37" cy="81.00" r="0.70" fill="#464d52"/>
<circle cx="434.72" cy="82.69" r="0.96" fill="#555c60"/>
<circle cx="434.46" cy="78.93" r="0.53" fill="#2e3438"/>
<circle cx="434.47" cy="82.00" r="0.93" fill="#555c60"/>
<circle cx="432.00" cy="79.79" r="0.69" fill="#555c60"/>
<circle cx="432.32" cy="83.42" r="0.72" fill="#464d52"/>
<circle cx="435.19" cy="81.02" r="0.57" fill="#464d52"/>
<circle cx="434.47" cy="84.28" r="0.89" fill="#3a4045"/>
<circle cx="432.00" cy="83.05" r="0.79" fill="#555c60"/>
<circle cx="431.92" cy="79.98" r="0.84" fill="#2e3438"/>
<circle cx="436.63" cy="78.95" r="0.84" fill="#464d52"/>
<circle cx="434.06" cy="79.95" r="0.77" fill="#2e3438"/>
<circle cx="434.31" cy="80.30" r="0.92" fill="#3a4045"/>
<circle cx="434.46" cy="82.23" r="0.93" fill="#555c60"/>
<circle cx="437.05" cy="83.17" r="0.71" fill="#464d52"/>
<circle cx="436.57" cy="81.86" r="0.71" fill="#2e3438"/>
<circle cx="436.97" cy="82.30" r="0.52" fill="#3a4045"/>
<circle cx="431.62" cy="80.58" r="0.64" fill="#464d52"/>
<circle cx="436.23" cy="81.58" r="0.54" fill="#2e3438"/>
<circle cx="437.68" cy="80.54" r="0.65" fill="#3a4045"/>
<circle cx="434.88" cy="82.02" r="0.93" fill="#3a4045"/>
<circle cx="433.96" cy="82.40" r="0.93" fill="#555c60"/>
<circle cx="432.44" cy="82.17" r="0.82" fill="#2e3438"/>
<circle cx="432.28" cy="79.35" r="0.75" fill="#555c60"/>
<circle cx="432.81" cy="79.52" r="0.97" fill="#555c60"/>
<circle cx="436.81" cy="81.28" r="0.77" fill="#2e3438"/>
<circle cx="435.38" cy="78.32" r="0.66" fill="#555c60"/>
<circle cx="432.73" cy="79.88" r="0.53" fill="#3a4045"/>
<circle cx="432.04" cy="82.17" r="0.68" fill="#3a4045"/>
<circle cx="434.57" cy="81.25" r="0.53" fill="#2e3438"/>
<circle cx="436.00" cy="81.26" r="0.73" fill="#3a4045"/>
<circle cx="435.13" cy="82.71" r="0.88" fill="#3a4045"/>
<circle cx="434.03" cy="83.40" r="0.89" fill="#2e3438"/>
<circle cx="437.18" cy="81.12" r="0.57" fill="#464d52"/>
<circle cx="433.75" cy="80.33" r="0.66" fill="#555c60"/>
<circle cx="434.12" cy="80.92" r="0.80" fill="#3a4045"/>
<circle cx="433.99" cy="80.36" r="0.90" fill="#464d52"/>
</g>
<g filter="url(#bl05)"><ellipse cx="444.9" cy="89.3" rx="3.06" ry="2.8899999999999997" fill="#3a4045" opacity="0.85"/>
<circle cx="444.98" cy="90.17" r="0.70" fill="#464d52"/>
<circle cx="445.19" cy="89.47" r="0.77" fill="#3a4045"/>
<circle cx="445.86" cy="86.55" r="0.61" fill="#3a4045"/>
<circle cx="444.69" cy="90.47" r="0.55" fill="#464d52"/>
<circle cx="445.27" cy="89.17" r="0.82" fill="#3a4045"/>
<circle cx="445.32" cy="88.09" r="0.65" fill="#3a4045"/>
<circle cx="447.18" cy="90.60" r="0.84" fill="#464d52"/>
<circle cx="445.91" cy="91.25" r="0.54" fill="#3a4045"/>
<circle cx="446.62" cy="89.37" r="0.85" fill="#3a4045"/>
<circle cx="446.29" cy="87.45" r="0.71" fill="#3a4045"/>
<circle cx="443.81" cy="89.78" r="0.65" fill="#2e3438"/>
<circle cx="446.88" cy="90.34" r="1.00" fill="#555c60"/>
<circle cx="444.56" cy="88.28" r="0.84" fill="#2e3438"/>
<circle cx="443.72" cy="89.98" r="0.82" fill="#3a4045"/>
<circle cx="445.79" cy="91.19" r="0.79" fill="#464d52"/>
<circle cx="445.65" cy="88.81" r="0.53" fill="#464d52"/>
<circle cx="444.45" cy="91.72" r="0.93" fill="#2e3438"/>
<circle cx="444.28" cy="90.35" r="0.73" fill="#2e3438"/>
<circle cx="444.40" cy="89.90" r="0.98" fill="#3a4045"/>
<circle cx="444.57" cy="86.00" r="0.51" fill="#3a4045"/>
<circle cx="444.39" cy="90.29" r="0.83" fill="#2e3438"/>
<circle cx="444.54" cy="90.51" r="0.72" fill="#464d52"/>
<circle cx="444.90" cy="91.80" r="0.58" fill="#2e3438"/>
<circle cx="443.43" cy="90.90" r="0.68" fill="#3a4045"/>
<circle cx="447.47" cy="89.26" r="0.72" fill="#464d52"/>
<circle cx="443.65" cy="89.91" r="0.53" fill="#2e3438"/>
<circle cx="444.69" cy="86.82" r="0.99" fill="#2e3438"/>
<circle cx="442.41" cy="88.60" r="0.66" fill="#2e3438"/>
<circle cx="446.67" cy="90.91" r="0.89" fill="#555c60"/>
<circle cx="444.10" cy="88.24" r="0.60" fill="#555c60"/>
<circle cx="444.48" cy="89.55" r="0.71" fill="#464d52"/>
<circle cx="443.60" cy="87.67" r="0.61" fill="#464d52"/>
<circle cx="446.45" cy="89.60" r="0.62" fill="#464d52"/>
<circle cx="445.20" cy="87.31" r="0.63" fill="#3a4045"/>
<circle cx="448.17" cy="90.33" r="0.78" fill="#555c60"/>
<circle cx="447.61" cy="88.69" r="0.94" fill="#2e3438"/>
<circle cx="444.04" cy="89.33" r="0.61" fill="#464d52"/>
<circle cx="443.45" cy="91.56" r="0.90" fill="#3a4045"/>
<circle cx="445.87" cy="87.17" r="0.83" fill="#3a4045"/>
<circle cx="443.82" cy="90.95" r="0.75" fill="#3a4045"/>
</g>
</svg>
<svg x="470.8" y="68.2" width="41.80000000000001" height="30.5" viewBox="470.8 68.2 41.80000000000001 30.5" overflow="hidden">
<rect x="470.80" y="68.20" width="41.80" height="30.50" fill="#7f8b9b" />
<circle cx="480.3" cy="97.5" r="1.0" fill="#8592a0" opacity="0.25" filter="url(#bl05)"/>
<circle cx="472.6" cy="72.4" r="1.9" fill="#8592a0" opacity="0.25" filter="url(#bl05)"/>
<circle cx="479.6" cy="87.8" r="1.4" fill="#93a0aa" opacity="0.25" filter="url(#bl05)"/>
<circle cx="487.1" cy="85.7" r="2.1" fill="#93a0aa" opacity="0.25" filter="url(#bl05)"/>
<circle cx="474.5" cy="75.3" r="0.8" fill="#93a0aa" opacity="0.25" filter="url(#bl05)"/>
<circle cx="492.5" cy="82.7" r="2.1" fill="#8592a0" opacity="0.25" filter="url(#bl05)"/>
<circle cx="475.6" cy="76.1" r="2.2" fill="#7e8c98" opacity="0.25" filter="url(#bl05)"/>
<circle cx="487.0" cy="93.5" r="1.0" fill="#7e8c98" opacity="0.25" filter="url(#bl05)"/>
<circle cx="484.9" cy="89.3" r="1.5" fill="#8592a0" opacity="0.25" filter="url(#bl05)"/>
<circle cx="492.4" cy="74.5" r="1.9" fill="#8592a0" opacity="0.25" filter="url(#bl05)"/>
<circle cx="473.5" cy="97.1" r="1.5" fill="#7e8c98" opacity="0.25" filter="url(#bl05)"/>
<circle cx="477.0" cy="94.4" r="1.4" fill="#8592a0" opacity="0.25" filter="url(#bl05)"/>
<circle cx="507.6" cy="76.9" r="1.3" fill="#93a0aa" opacity="0.25" filter="url(#bl05)"/>
<circle cx="476.4" cy="91.5" r="0.9" fill="#8592a0" opacity="0.25" filter="url(#bl05)"/>
<circle cx="483.9" cy="79.1" r="1.7" fill="#93a0aa" opacity="0.25" filter="url(#bl05)"/>
<circle cx="491.9" cy="74.2" r="1.0" fill="#8592a0" opacity="0.25" filter="url(#bl05)"/>
<circle cx="482.7" cy="88.2" r="1.9" fill="#8592a0" opacity="0.25" filter="url(#bl05)"/>
<circle cx="509.0" cy="84.8" r="1.3" fill="#7e8c98" opacity="0.25" filter="url(#bl05)"/>
<circle cx="483.2" cy="74.9" r="0.8" fill="#93a0aa" opacity="0.25" filter="url(#bl05)"/>
<circle cx="486.6" cy="93.6" r="2.0" fill="#7e8c98" opacity="0.25" filter="url(#bl05)"/>
<circle cx="498.3" cy="71.7" r="2.1" fill="#7e8c98" opacity="0.25" filter="url(#bl05)"/>
<circle cx="479.2" cy="91.6" r="1.2" fill="#7e8c98" opacity="0.25" filter="url(#bl05)"/>
<circle cx="504.1" cy="79.8" r="2.0" fill="#8592a0" opacity="0.25" filter="url(#bl05)"/>
<circle cx="489.0" cy="75.3" r="1.4" fill="#93a0aa" opacity="0.25" filter="url(#bl05)"/>
<circle cx="487.8" cy="70.6" r="0.9" fill="#8592a0" opacity="0.25" filter="url(#bl05)"/>
<circle cx="474.8" cy="70.8" r="0.9" fill="#8592a0" opacity="0.25" filter="url(#bl05)"/>
<circle cx="492.8" cy="72.9" r="2.1" fill="#93a0aa" opacity="0.25" filter="url(#bl05)"/>
<circle cx="500.4" cy="98.1" r="0.9" fill="#7e8c98" opacity="0.25" filter="url(#bl05)"/>
<circle cx="508.9" cy="78.6" r="1.7" fill="#7e8c98" opacity="0.25" filter="url(#bl05)"/>
<circle cx="501.9" cy="78.9" r="2.2" fill="#7e8c98" opacity="0.25" filter="url(#bl05)"/>
<circle cx="497.8" cy="83.4" r="0.9" fill="#8592a0" opacity="0.25" filter="url(#bl05)"/>
<circle cx="472.2" cy="97.6" r="1.9" fill="#8592a0" opacity="0.25" filter="url(#bl05)"/>
<circle cx="478.0" cy="78.5" r="1.4" fill="#7e8c98" opacity="0.25" filter="url(#bl05)"/>
<circle cx="474.3" cy="86.7" r="1.5" fill="#93a0aa" opacity="0.25" filter="url(#bl05)"/>
<circle cx="503.8" cy="79.8" r="1.0" fill="#8592a0" opacity="0.25" filter="url(#bl05)"/>
<circle cx="489.7" cy="72.1" r="1.4" fill="#8592a0" opacity="0.25" filter="url(#bl05)"/>
<circle cx="474.6" cy="96.5" r="1.6" fill="#93a0aa" opacity="0.25" filter="url(#bl05)"/>
<circle cx="489.8" cy="69.8" r="0.9" fill="#7e8c98" opacity="0.25" filter="url(#bl05)"/>
<circle cx="475.3" cy="90.3" r="1.8" fill="#8592a0" opacity="0.25" filter="url(#bl05)"/>
<circle cx="508.7" cy="88.2" r="2.0" fill="#8592a0" opacity="0.25" filter="url(#bl05)"/>
<circle cx="474.7" cy="97.7" r="1.9" fill="#8592a0" opacity="0.25" filter="url(#bl05)"/>
<circle cx="505.0" cy="85.6" r="1.5" fill="#93a0aa" opacity="0.25" filter="url(#bl05)"/>
<circle cx="492.8" cy="90.9" r="1.7" fill="#7e8c98" opacity="0.25" filter="url(#bl05)"/>
<circle cx="482.9" cy="77.2" r="0.9" fill="#93a0aa" opacity="0.25" filter="url(#bl05)"/>
<circle cx="509.6" cy="98.1" r="1.1" fill="#93a0aa" opacity="0.25" filter="url(#bl05)"/>
<circle cx="474.1" cy="81.0" r="1.8" fill="#8592a0" opacity="0.25" filter="url(#bl05)"/>
<circle cx="506.4" cy="83.9" r="1.7" fill="#93a0aa" opacity="0.25" filter="url(#bl05)"/>
<circle cx="503.5" cy="77.2" r="2.0" fill="#7e8c98" opacity="0.25" filter="url(#bl05)"/>
<circle cx="491.1" cy="79.7" r="1.6" fill="#93a0aa" opacity="0.25" filter="url(#bl05)"/>
<circle cx="479.4" cy="80.3" r="1.3" fill="#8592a0" opacity="0.25" filter="url(#bl05)"/>
<circle cx="492.7" cy="89.3" r="1.3" fill="#8592a0" opacity="0.25" filter="url(#bl05)"/>
<circle cx="496.1" cy="79.2" r="1.4" fill="#93a0aa" opacity="0.25" filter="url(#bl05)"/>
<circle cx="505.2" cy="83.7" r="0.9" fill="#7e8c98" opacity="0.25" filter="url(#bl05)"/>
<circle cx="473.7" cy="90.6" r="1.2" fill="#93a0aa" opacity="0.25" filter="url(#bl05)"/>
<circle cx="503.4" cy="87.2" r="2.0" fill="#93a0aa" opacity="0.25" filter="url(#bl05)"/>
<circle cx="482.3" cy="93.4" r="1.2" fill="#8592a0" opacity="0.25" filter="url(#bl05)"/>
<circle cx="488.0" cy="79.2" r="2.2" fill="#8592a0" opacity="0.25" filter="url(#bl05)"/>
<circle cx="502.0" cy="75.8" r="1.9" fill="#8592a0" opacity="0.25" filter="url(#bl05)"/>
<circle cx="492.8" cy="74.2" r="1.5" fill="#7e8c98" opacity="0.25" filter="url(#bl05)"/>
<circle cx="504.0" cy="80.0" r="1.7" fill="#8592a0" opacity="0.25" filter="url(#bl05)"/>
<circle cx="512.3" cy="96.3" r="1.9" fill="#7e8c98" opacity="0.25" filter="url(#bl05)"/>
<circle cx="471.7" cy="74.0" r="1.2" fill="#7e8c98" opacity="0.25" filter="url(#bl05)"/>
<circle cx="490.1" cy="94.7" r="2.1" fill="#8592a0" opacity="0.25" filter="url(#bl05)"/>
<circle cx="474.7" cy="86.7" r="2.0" fill="#8592a0" opacity="0.25" filter="url(#bl05)"/>
<circle cx="473.6" cy="92.3" r="2.0" fill="#7e8c98" opacity="0.25" filter="url(#bl05)"/>
<circle cx="506.7" cy="88.1" r="1.3" fill="#7e8c98" opacity="0.25" filter="url(#bl05)"/>
<circle cx="504.9" cy="90.3" r="1.6" fill="#93a0aa" opacity="0.25" filter="url(#bl05)"/>
<circle cx="480.1" cy="90.9" r="2.2" fill="#7e8c98" opacity="0.25" filter="url(#bl05)"/>
<circle cx="492.5" cy="71.7" r="1.8" fill="#93a0aa" opacity="0.25" filter="url(#bl05)"/>
<circle cx="489.0" cy="73.0" r="2.1" fill="#7e8c98" opacity="0.25" filter="url(#bl05)"/>
<circle cx="488.8" cy="92.1" r="0.9" fill="#7e8c98" opacity="0.25" filter="url(#bl05)"/>
<circle cx="474.2" cy="96.4" r="1.3" fill="#7e8c98" opacity="0.25" filter="url(#bl05)"/>
<circle cx="475.4" cy="69.8" r="1.6" fill="#8592a0" opacity="0.25" filter="url(#bl05)"/>
<circle cx="478.2" cy="73.4" r="1.7" fill="#93a0aa" opacity="0.25" filter="url(#bl05)"/>
<circle cx="507.7" cy="90.7" r="1.5" fill="#8592a0" opacity="0.25" filter="url(#bl05)"/>
<circle cx="500.8" cy="70.7" r="1.0" fill="#8592a0" opacity="0.25" filter="url(#bl05)"/>
<circle cx="476.3" cy="78.2" r="1.4" fill="#7e8c98" opacity="0.25" filter="url(#bl05)"/>
<circle cx="476.4" cy="81.6" r="1.8" fill="#93a0aa" opacity="0.25" filter="url(#bl05)"/>
<circle cx="495.3" cy="86.9" r="1.4" fill="#93a0aa" opacity="0.25" filter="url(#bl05)"/>
<circle cx="495.0" cy="95.5" r="2.1" fill="#8592a0" opacity="0.25" filter="url(#bl05)"/>
<circle cx="494.4" cy="89.9" r="0.45" fill="#4a5258" opacity="0.7"/>
<circle cx="507.1" cy="90.6" r="0.45" fill="#4a5258" opacity="0.7"/>
<circle cx="503.4" cy="73.9" r="0.45" fill="#4a5258" opacity="0.7"/>
<circle cx="481.9" cy="97.0" r="0.45" fill="#4a5258" opacity="0.7"/>
<circle cx="505.6" cy="93.8" r="0.45" fill="#4a5258" opacity="0.7"/>
<circle cx="482.4" cy="87.6" r="0.45" fill="#4a5258" opacity="0.7"/>
<circle cx="492.0" cy="92.3" r="0.45" fill="#4a5258" opacity="0.7"/>
<circle cx="492.2" cy="92.8" r="0.45" fill="#4a5258" opacity="0.7"/>
<circle cx="494.6" cy="80.1" r="0.45" fill="#4a5258" opacity="0.7"/>
<circle cx="476.4" cy="83.1" r="0.45" fill="#4a5258" opacity="0.7"/>
<circle cx="490.7" cy="77.1" r="0.45" fill="#4a5258" opacity="0.7"/>
<circle cx="472.1" cy="94.7" r="0.45" fill="#4a5258" opacity="0.7"/>
<circle cx="492.0" cy="77.2" r="0.45" fill="#4a5258" opacity="0.7"/>
<circle cx="486.5" cy="69.0" r="0.45" fill="#4a5258" opacity="0.7"/>
<g filter="url(#bl05)"><ellipse cx="489.8" cy="81.8" rx="1.275" ry="1.19" fill="#2e3236" opacity="0.85"/>
<circle cx="488.90" cy="80.98" r="0.90" fill="#2e3438"/>
<circle cx="490.49" cy="80.79" r="0.62" fill="#2e3438"/>
<circle cx="490.13" cy="81.58" r="0.73" fill="#464d52"/>
<circle cx="489.52" cy="82.04" r="0.62" fill="#464d52"/>
<circle cx="489.35" cy="82.07" r="0.93" fill="#555c60"/>
<circle cx="490.50" cy="82.83" r="0.57" fill="#555c60"/>
<circle cx="489.82" cy="81.82" r="0.94" fill="#464d52"/>
<circle cx="490.02" cy="80.45" r="0.58" fill="#464d52"/>
</g>
</svg>
<text transform="translate(12.90,147.50)" x="0" y="4.18" font-size="11.6" text-anchor="start" fill="#000" font-weight="bold" >D</text>
<line x1="59.50" y1="160.50" x2="59.50" y2="251.70" stroke="#111" stroke-width="1.2" />
<line x1="56.20" y1="251.20" x2="59.50" y2="251.20" stroke="#111" stroke-width="1.2" />
<text transform="translate(53.50,251.20)" x="0" y="2.81" font-size="7.8" text-anchor="end" fill="#383838" >0</text>
<line x1="56.20" y1="228.70" x2="59.50" y2="228.70" stroke="#111" stroke-width="1.2" />
<text transform="translate(53.50,228.70)" x="0" y="2.81" font-size="7.8" text-anchor="end" fill="#383838" >10</text>
<line x1="56.20" y1="206.20" x2="59.50" y2="206.20" stroke="#111" stroke-width="1.2" />
<text transform="translate(53.50,206.20)" x="0" y="2.81" font-size="7.8" text-anchor="end" fill="#383838" >20</text>
<line x1="56.20" y1="183.70" x2="59.50" y2="183.70" stroke="#111" stroke-width="1.2" />
<text transform="translate(53.50,183.70)" x="0" y="2.81" font-size="7.8" text-anchor="end" fill="#383838" >30</text>
<line x1="56.20" y1="161.20" x2="59.50" y2="161.20" stroke="#111" stroke-width="1.2" />
<text transform="translate(53.50,161.20)" x="0" y="2.81" font-size="7.8" text-anchor="end" fill="#383838" >40</text>
<line x1="56.20" y1="251.20" x2="95.60" y2="251.20" stroke="#111" stroke-width="1.2" />
<rect x="63.30" y="230.27" width="10.40" height="20.93" fill="#115282" />
<line x1="68.50" y1="222.17" x2="68.50" y2="230.27" stroke="#222" stroke-width="1" />
<line x1="66.00" y1="222.17" x2="71.00" y2="222.17" stroke="#222" stroke-width="1" />
<rect x="80.60" y="196.52" width="11.10" height="54.68" fill="#c4122e" />
<line x1="86.10" y1="179.65" x2="86.10" y2="196.52" stroke="#222" stroke-width="1" />
<line x1="83.60" y1="179.65" x2="88.60" y2="179.65" stroke="#222" stroke-width="1" />
<line x1="68.50" y1="251.20" x2="68.50" y2="253.80" stroke="#111" stroke-width="1.15" />
<line x1="86.10" y1="251.20" x2="86.10" y2="253.80" stroke="#111" stroke-width="1.15" />
<line x1="67.50" y1="177.20" x2="88.30" y2="177.20" stroke="#222" stroke-width="1" />
<circle cx="74.60" cy="174.00" r="1.05" fill="#111"/>
<circle cx="77.90" cy="174.00" r="1.05" fill="#111"/>
<circle cx="81.20" cy="174.00" r="1.05" fill="#111"/>
<text transform="translate(71.5,257) rotate(-45)" x="0" y="3.02" font-size="8.4" text-anchor="end" fill="#383838">Dox–</text>
<text transform="translate(89,257) rotate(-45)" x="0" y="3.02" font-size="8.4" text-anchor="end" fill="#383838">Dox+</text>
<text transform="translate(35.2,206) rotate(-90) scale(0.86,1)" x="0" y="3.28" font-size="9.1" text-anchor="middle" fill="#383838">Annexin V<tspan font-size="5.8" dy="-3.2">+</tspan><tspan dy="3.2"> (%)</tspan></text>
<rect x="120.7" y="154.4" width="42.999999999999986" height="42.599999999999994" fill="#fff" stroke="#c8c8c8" stroke-width="0.6"/>
<line x1="118.50" y1="157.40" x2="120.10" y2="157.40" stroke="#aaa" stroke-width="0.6" />
<line x1="117.10" y1="156.20" x2="117.90" y2="155.60" stroke="#bbb" stroke-width="0.5" />
<line x1="118.50" y1="166.80" x2="120.10" y2="166.80" stroke="#aaa" stroke-width="0.6" />
<line x1="117.10" y1="165.60" x2="117.90" y2="165.00" stroke="#bbb" stroke-width="0.5" />
<line x1="118.50" y1="176.20" x2="120.10" y2="176.20" stroke="#aaa" stroke-width="0.6" />
<line x1="117.10" y1="175.00" x2="117.90" y2="174.40" stroke="#bbb" stroke-width="0.5" />
<line x1="118.50" y1="185.60" x2="120.10" y2="185.60" stroke="#aaa" stroke-width="0.6" />
<line x1="117.10" y1="184.40" x2="117.90" y2="183.80" stroke="#bbb" stroke-width="0.5" />
<line x1="118.50" y1="195.00" x2="120.10" y2="195.00" stroke="#aaa" stroke-width="0.6" />
<line x1="117.10" y1="193.80" x2="117.90" y2="193.20" stroke="#bbb" stroke-width="0.5" />
<line x1="123.70" y1="197.60" x2="123.70" y2="199.20" stroke="#aaa" stroke-width="0.6" />
<line x1="122.70" y1="200.60" x2="123.50" y2="199.80" stroke="#bbb" stroke-width="0.5" />
<line x1="133.20" y1="197.60" x2="133.20" y2="199.20" stroke="#aaa" stroke-width="0.6" />
<line x1="132.20" y1="200.60" x2="133.00" y2="199.80" stroke="#bbb" stroke-width="0.5" />
<line x1="142.70" y1="197.60" x2="142.70" y2="199.20" stroke="#aaa" stroke-width="0.6" />
<line x1="141.70" y1="200.60" x2="142.50" y2="199.80" stroke="#bbb" stroke-width="0.5" />
<line x1="152.20" y1="197.60" x2="152.20" y2="199.20" stroke="#aaa" stroke-width="0.6" />
<line x1="151.20" y1="200.60" x2="152.00" y2="199.80" stroke="#bbb" stroke-width="0.5" />
<line x1="161.70" y1="197.60" x2="161.70" y2="199.20" stroke="#aaa" stroke-width="0.6" />
<line x1="160.70" y1="200.60" x2="161.50" y2="199.80" stroke="#bbb" stroke-width="0.5" />
<rect x="142.5" y="186.1" width="0.8" height="0.8" fill="#5a6cc8" opacity="0.45"/>
<rect x="137.3" y="185.5" width="0.8" height="0.8" fill="#5a6cc8" opacity="0.45"/>
<rect x="140.7" y="182.3" width="0.8" height="0.8" fill="#5a6cc8" opacity="0.45"/>
<rect x="151.5" y="183.4" width="0.8" height="0.8" fill="#5a6cc8" opacity="0.45"/>
<rect x="141.8" y="184.8" width="0.8" height="0.8" fill="#5a6cc8" opacity="0.45"/>
<rect x="147.6" y="182.9" width="0.8" height="0.8" fill="#5a6cc8" opacity="0.45"/>
<rect x="144.9" y="180.6" width="0.8" height="0.8" fill="#5a6cc8" opacity="0.45"/>
<rect x="140.2" y="181.9" width="0.8" height="0.8" fill="#5a6cc8" opacity="0.45"/>
<rect x="135.3" y="179.2" width="0.8" height="0.8" fill="#5a6cc8" opacity="0.45"/>
<rect x="133.9" y="182.4" width="0.8" height="0.8" fill="#5a6cc8" opacity="0.45"/>
<rect x="141.1" y="182.2" width="0.8" height="0.8" fill="#5a6cc8" opacity="0.45"/>
<rect x="142.3" y="179.7" width="0.8" height="0.8" fill="#5a6cc8" opacity="0.45"/>
<rect x="141.6" y="183.6" width="0.8" height="0.8" fill="#5a6cc8" opacity="0.45"/>
<rect x="145.8" y="180.9" width="0.8" height="0.8" fill="#5a6cc8" opacity="0.45"/>
<rect x="140.0" y="178.0" width="0.8" height="0.8" fill="#5a6cc8" opacity="0.45"/>
<rect x="139.5" y="177.5" width="0.8" height="0.8" fill="#5a6cc8" opacity="0.45"/>
<rect x="134.9" y="185.8" width="0.8" height="0.8" fill="#5a6cc8" opacity="0.45"/>
<rect x="131.0" y="185.0" width="0.8" height="0.8" fill="#5a6cc8" opacity="0.45"/>
<rect x="143.6" y="182.2" width="0.8" height="0.8" fill="#5a6cc8" opacity="0.45"/>
<rect x="144.3" y="184.3" width="0.8" height="0.8" fill="#5a6cc8" opacity="0.45"/>
<rect x="147.2" y="182.4" width="0.8" height="0.8" fill="#5a6cc8" opacity="0.45"/>
<rect x="139.0" y="181.5" width="0.8" height="0.8" fill="#5a6cc8" opacity="0.45"/>
<rect x="137.1" y="182.9" width="0.8" height="0.8" fill="#5a6cc8" opacity="0.45"/>
<rect x="138.1" y="185.7" width="0.8" height="0.8" fill="#5a6cc8" opacity="0.45"/>
<rect x="132.7" y="180.3" width="0.8" height="0.8" fill="#5a6cc8" opacity="0.45"/>
<rect x="137.2" y="177.8" width="0.8" height="0.8" fill="#5a6cc8" opacity="0.45"/>
<rect x="151.5" y="177.0" width="0.8" height="0.8" fill="#5a6cc8" opacity="0.45"/>
<rect x="140.6" y="181.7" width="0.8" height="0.8" fill="#5a6cc8" opacity="0.45"/>
<rect x="150.3" y="178.0" width="0.8" height="0.8" fill="#5a6cc8" opacity="0.45"/>
<rect x="147.4" y="181.2" width="0.8" height="0.8" fill="#5a6cc8" opacity="0.45"/>
<rect x="141.2" y="181.3" width="0.8" height="0.8" fill="#5a6cc8" opacity="0.45"/>
<rect x="145.2" y="180.2" width="0.8" height="0.8" fill="#5a6cc8" opacity="0.45"/>
<rect x="141.6" y="183.9" width="0.8" height="0.8" fill="#5a6cc8" opacity="0.45"/>
<rect x="151.2" y="177.0" width="0.8" height="0.8" fill="#5a6cc8" opacity="0.45"/>
<rect x="149.6" y="185.4" width="0.8" height="0.8" fill="#5a6cc8" opacity="0.45"/>
<rect x="139.6" y="183.8" width="0.8" height="0.8" fill="#5a6cc8" opacity="0.45"/>
<rect x="139.7" y="187.1" width="0.8" height="0.8" fill="#5a6cc8" opacity="0.45"/>
<rect x="143.0" y="182.5" width="0.8" height="0.8" fill="#5a6cc8" opacity="0.45"/>
<rect x="140.9" y="182.5" width="0.8" height="0.8" fill="#5a6cc8" opacity="0.45"/>
<rect x="141.1" y="180.8" width="0.8" height="0.8" fill="#5a6cc8" opacity="0.45"/>
<rect x="152.3" y="178.2" width="0.8" height="0.8" fill="#5a6cc8" opacity="0.45"/>
<rect x="124.0" y="182.7" width="0.8" height="0.8" fill="#5a6cc8" opacity="0.45"/>
<rect x="141.3" y="183.9" width="0.8" height="0.8" fill="#5a6cc8" opacity="0.45"/>
<rect x="141.0" y="182.6" width="0.8" height="0.8" fill="#5a6cc8" opacity="0.45"/>
<rect x="143.7" y="185.4" width="0.8" height="0.8" fill="#5a6cc8" opacity="0.45"/>
<rect x="139.8" y="182.1" width="0.8" height="0.8" fill="#5a6cc8" opacity="0.45"/>
<rect x="151.7" y="184.3" width="0.8" height="0.8" fill="#5a6cc8" opacity="0.45"/>
<rect x="137.1" y="188.8" width="0.8" height="0.8" fill="#5a6cc8" opacity="0.45"/>
<rect x="145.9" y="181.5" width="0.8" height="0.8" fill="#5a6cc8" opacity="0.45"/>
<rect x="136.1" y="183.7" width="0.8" height="0.8" fill="#5a6cc8" opacity="0.45"/>
<rect x="137.8" y="180.4" width="0.8" height="0.8" fill="#5a6cc8" opacity="0.45"/>
<rect x="135.5" y="181.7" width="0.8" height="0.8" fill="#5a6cc8" opacity="0.45"/>
<rect x="147.5" y="181.9" width="0.8" height="0.8" fill="#5a6cc8" opacity="0.45"/>
<rect x="134.8" y="184.7" width="0.8" height="0.8" fill="#5a6cc8" opacity="0.45"/>
<rect x="142.3" y="185.1" width="0.8" height="0.8" fill="#5a6cc8" opacity="0.45"/>
<rect x="148.0" y="182.6" width="0.8" height="0.8" fill="#5a6cc8" opacity="0.45"/>
<rect x="141.3" y="182.9" width="0.8" height="0.8" fill="#5a6cc8" opacity="0.45"/>
<rect x="136.3" y="184.7" width="0.8" height="0.8" fill="#5a6cc8" opacity="0.45"/>
<rect x="148.9" y="183.4" width="0.8" height="0.8" fill="#5a6cc8" opacity="0.45"/>
<rect x="140.8" y="182.4" width="0.8" height="0.8" fill="#5a6cc8" opacity="0.45"/>
<rect x="138.1" y="181.0" width="0.8" height="0.8" fill="#5a6cc8" opacity="0.45"/>
<rect x="140.0" y="180.9" width="0.8" height="0.8" fill="#5a6cc8" opacity="0.45"/>
<rect x="139.8" y="179.1" width="0.8" height="0.8" fill="#5a6cc8" opacity="0.45"/>
<rect x="143.8" y="183.1" width="0.8" height="0.8" fill="#5a6cc8" opacity="0.45"/>
<rect x="136.2" y="177.3" width="0.8" height="0.8" fill="#5a6cc8" opacity="0.45"/>
<rect x="142.0" y="185.8" width="0.8" height="0.8" fill="#5a6cc8" opacity="0.45"/>
<rect x="138.3" y="181.8" width="0.8" height="0.8" fill="#5a6cc8" opacity="0.45"/>
<rect x="139.2" y="184.6" width="0.8" height="0.8" fill="#5a6cc8" opacity="0.45"/>
<rect x="137.4" y="185.5" width="0.8" height="0.8" fill="#5a6cc8" opacity="0.45"/>
<rect x="140.5" y="185.3" width="0.8" height="0.8" fill="#5a6cc8" opacity="0.45"/>
<rect x="142.2" y="182.4" width="0.8" height="0.8" fill="#5a6cc8" opacity="0.45"/>
<rect x="134.6" y="181.3" width="0.8" height="0.8" fill="#5a6cc8" opacity="0.45"/>
<rect x="140.7" y="184.6" width="0.8" height="0.8" fill="#5a6cc8" opacity="0.45"/>
<rect x="143.2" y="181.3" width="0.8" height="0.8" fill="#5a6cc8" opacity="0.45"/>
<rect x="144.0" y="185.5" width="0.8" height="0.8" fill="#5a6cc8" opacity="0.45"/>
<rect x="141.3" y="181.9" width="0.8" height="0.8" fill="#5a6cc8" opacity="0.45"/>
<rect x="140.0" y="185.0" width="0.8" height="0.8" fill="#5a6cc8" opacity="0.45"/>
<rect x="144.7" y="180.7" width="0.8" height="0.8" fill="#5a6cc8" opacity="0.45"/>
<rect x="143.9" y="181.8" width="0.8" height="0.8" fill="#5a6cc8" opacity="0.45"/>
<rect x="138.2" y="186.1" width="0.8" height="0.8" fill="#5a6cc8" opacity="0.45"/>
<rect x="146.1" y="181.2" width="0.8" height="0.8" fill="#5a6cc8" opacity="0.45"/>
<rect x="142.4" y="184.3" width="0.8" height="0.8" fill="#5a6cc8" opacity="0.45"/>
<rect x="138.8" y="182.7" width="0.8" height="0.8" fill="#5a6cc8" opacity="0.45"/>
<rect x="145.3" y="178.5" width="0.8" height="0.8" fill="#5a6cc8" opacity="0.45"/>
<rect x="143.6" y="184.8" width="0.8" height="0.8" fill="#5a6cc8" opacity="0.45"/>
<rect x="144.5" y="179.6" width="0.8" height="0.8" fill="#5a6cc8" opacity="0.45"/>
<rect x="143.6" y="180.8" width="0.8" height="0.8" fill="#5a6cc8" opacity="0.45"/>
<rect x="144.8" y="184.5" width="0.8" height="0.8" fill="#5a6cc8" opacity="0.45"/>
<rect x="143.1" y="181.1" width="0.8" height="0.8" fill="#5a6cc8" opacity="0.45"/>
<rect x="139.0" y="185.1" width="0.8" height="0.8" fill="#5a6cc8" opacity="0.45"/>
<rect x="137.5" y="184.2" width="0.8" height="0.8" fill="#5a6cc8" opacity="0.45"/>
<rect x="144.6" y="182.3" width="0.8" height="0.8" fill="#5a6cc8" opacity="0.45"/>
<rect x="154.0" y="183.2" width="0.8" height="0.8" fill="#5a6cc8" opacity="0.45"/>
<rect x="152.7" y="178.0" width="0.8" height="0.8" fill="#5a6cc8" opacity="0.45"/>
<rect x="130.8" y="185.5" width="0.8" height="0.8" fill="#5a6cc8" opacity="0.45"/>
<rect x="145.2" y="182.2" width="0.8" height="0.8" fill="#5a6cc8" opacity="0.45"/>
<rect x="141.7" y="178.2" width="0.8" height="0.8" fill="#5a6cc8" opacity="0.45"/>
<rect x="138.9" y="180.4" width="0.8" height="0.8" fill="#5a6cc8" opacity="0.45"/>
<rect x="140.9" y="185.2" width="0.8" height="0.8" fill="#5a6cc8" opacity="0.45"/>
<rect x="142.3" y="183.9" width="0.8" height="0.8" fill="#5a6cc8" opacity="0.45"/>
<rect x="138.5" y="181.9" width="0.8" height="0.8" fill="#5a6cc8" opacity="0.45"/>
<rect x="142.6" y="182.3" width="0.8" height="0.8" fill="#5a6cc8" opacity="0.45"/>
<rect x="148.3" y="180.8" width="0.8" height="0.8" fill="#5a6cc8" opacity="0.45"/>
<rect x="151.5" y="180.5" width="0.8" height="0.8" fill="#5a6cc8" opacity="0.45"/>
<rect x="147.3" y="181.1" width="0.8" height="0.8" fill="#5a6cc8" opacity="0.45"/>
<rect x="150.2" y="183.3" width="0.8" height="0.8" fill="#5a6cc8" opacity="0.45"/>
<rect x="144.0" y="184.9" width="0.8" height="0.8" fill="#5a6cc8" opacity="0.45"/>
<rect x="138.8" y="180.4" width="0.8" height="0.8" fill="#5a6cc8" opacity="0.45"/>
<rect x="131.9" y="186.1" width="0.8" height="0.8" fill="#5a6cc8" opacity="0.45"/>
<rect x="138.5" y="181.5" width="0.8" height="0.8" fill="#5a6cc8" opacity="0.45"/>
<rect x="141.8" y="188.0" width="0.8" height="0.8" fill="#5a6cc8" opacity="0.45"/>
<rect x="133.4" y="183.6" width="0.8" height="0.8" fill="#5a6cc8" opacity="0.45"/>
<rect x="140.0" y="184.3" width="0.8" height="0.8" fill="#5a6cc8" opacity="0.45"/>
<rect x="133.0" y="182.0" width="0.8" height="0.8" fill="#5a6cc8" opacity="0.45"/>
<rect x="146.2" y="186.9" width="0.8" height="0.8" fill="#5a6cc8" opacity="0.45"/>
<rect x="150.0" y="180.9" width="0.8" height="0.8" fill="#5a6cc8" opacity="0.45"/>
<rect x="142.3" y="182.7" width="0.8" height="0.8" fill="#5a6cc8" opacity="0.45"/>
<rect x="135.1" y="179.4" width="0.8" height="0.8" fill="#5a6cc8" opacity="0.45"/>
<rect x="145.8" y="183.6" width="0.8" height="0.8" fill="#5a6cc8" opacity="0.45"/>
<rect x="141.3" y="186.0" width="0.8" height="0.8" fill="#5a6cc8" opacity="0.45"/>
<rect x="137.0" y="184.3" width="0.8" height="0.8" fill="#5a6cc8" opacity="0.45"/>
<rect x="142.0" y="182.9" width="0.8" height="0.8" fill="#5a6cc8" opacity="0.45"/>
<rect x="144.5" y="183.4" width="0.8" height="0.8" fill="#5a6cc8" opacity="0.45"/>
<rect x="143.3" y="183.7" width="0.8" height="0.8" fill="#5a6cc8" opacity="0.45"/>
<rect x="151.7" y="182.2" width="0.8" height="0.8" fill="#5a6cc8" opacity="0.45"/>
<rect x="147.1" y="184.5" width="0.8" height="0.8" fill="#5a6cc8" opacity="0.45"/>
<rect x="140.3" y="185.0" width="0.8" height="0.8" fill="#5a6cc8" opacity="0.45"/>
<rect x="137.7" y="185.9" width="0.8" height="0.8" fill="#5a6cc8" opacity="0.45"/>
<rect x="138.0" y="181.8" width="0.8" height="0.8" fill="#5a6cc8" opacity="0.45"/>
<rect x="143.6" y="185.1" width="0.8" height="0.8" fill="#5a6cc8" opacity="0.45"/>
<rect x="146.5" y="185.2" width="0.8" height="0.8" fill="#5a6cc8" opacity="0.45"/>
<rect x="141.0" y="180.6" width="0.8" height="0.8" fill="#5a6cc8" opacity="0.45"/>
<rect x="144.7" y="183.8" width="0.8" height="0.8" fill="#5a6cc8" opacity="0.45"/>
<rect x="137.2" y="185.4" width="0.8" height="0.8" fill="#5a6cc8" opacity="0.45"/>
<rect x="143.0" y="180.6" width="0.8" height="0.8" fill="#5a6cc8" opacity="0.45"/>
<rect x="144.2" y="179.7" width="0.8" height="0.8" fill="#5a6cc8" opacity="0.45"/>
<rect x="137.6" y="184.0" width="0.8" height="0.8" fill="#5a6cc8" opacity="0.45"/>
<rect x="134.2" y="183.1" width="0.8" height="0.8" fill="#5a6cc8" opacity="0.45"/>
<rect x="135.2" y="184.8" width="0.8" height="0.8" fill="#5a6cc8" opacity="0.45"/>
<rect x="138.4" y="183.5" width="0.8" height="0.8" fill="#5a6cc8" opacity="0.45"/>
<rect x="134.5" y="182.1" width="0.8" height="0.8" fill="#5a6cc8" opacity="0.45"/>
<rect x="146.7" y="184.1" width="0.8" height="0.8" fill="#5a6cc8" opacity="0.45"/>
<rect x="132.8" y="185.3" width="0.8" height="0.8" fill="#5a6cc8" opacity="0.45"/>
<rect x="146.5" y="182.1" width="0.8" height="0.8" fill="#5a6cc8" opacity="0.45"/>
<rect x="149.1" y="180.4" width="0.8" height="0.8" fill="#5a6cc8" opacity="0.45"/>
<rect x="141.6" y="185.8" width="0.8" height="0.8" fill="#5a6cc8" opacity="0.45"/>
<rect x="148.6" y="186.2" width="0.8" height="0.8" fill="#5a6cc8" opacity="0.45"/>
<rect x="136.5" y="178.5" width="0.8" height="0.8" fill="#5a6cc8" opacity="0.45"/>
<rect x="144.0" y="179.4" width="0.8" height="0.8" fill="#5a6cc8" opacity="0.45"/>
<rect x="141.3" y="179.8" width="0.8" height="0.8" fill="#5a6cc8" opacity="0.45"/>
<rect x="147.3" y="185.0" width="0.8" height="0.8" fill="#5a6cc8" opacity="0.45"/>
<rect x="144.8" y="183.0" width="0.8" height="0.8" fill="#5a6cc8" opacity="0.45"/>
<rect x="142.2" y="182.3" width="0.8" height="0.8" fill="#5a6cc8" opacity="0.45"/>
<rect x="143.9" y="183.6" width="0.8" height="0.8" fill="#5a6cc8" opacity="0.45"/>
<rect x="144.3" y="181.9" width="0.8" height="0.8" fill="#5a6cc8" opacity="0.45"/>
<rect x="151.5" y="183.7" width="0.8" height="0.8" fill="#5a6cc8" opacity="0.45"/>
<rect x="149.0" y="186.3" width="0.8" height="0.8" fill="#5a6cc8" opacity="0.45"/>
<rect x="137.6" y="178.8" width="0.8" height="0.8" fill="#5a6cc8" opacity="0.45"/>
<rect x="148.3" y="182.0" width="0.8" height="0.8" fill="#5a6cc8" opacity="0.45"/>
<rect x="142.4" y="182.4" width="0.8" height="0.8" fill="#5a6cc8" opacity="0.45"/>
<rect x="149.7" y="172.4" width="0.8" height="0.8" fill="#7888d0" opacity="0.45"/>
<rect x="148.5" y="174.6" width="0.8" height="0.8" fill="#7888d0" opacity="0.45"/>
<rect x="148.9" y="169.0" width="0.8" height="0.8" fill="#7888d0" opacity="0.45"/>
<rect x="153.1" y="177.0" width="0.8" height="0.8" fill="#7888d0" opacity="0.45"/>
<rect x="140.4" y="173.8" width="0.8" height="0.8" fill="#7888d0" opacity="0.45"/>
<rect x="149.2" y="177.9" width="0.8" height="0.8" fill="#7888d0" opacity="0.45"/>
<rect x="149.0" y="180.2" width="0.8" height="0.8" fill="#7888d0" opacity="0.45"/>
<rect x="149.1" y="173.0" width="0.8" height="0.8" fill="#7888d0" opacity="0.45"/>
<rect x="145.6" y="178.2" width="0.8" height="0.8" fill="#7888d0" opacity="0.45"/>
<rect x="145.9" y="178.5" width="0.8" height="0.8" fill="#7888d0" opacity="0.45"/>
<rect x="154.1" y="177.8" width="0.8" height="0.8" fill="#7888d0" opacity="0.45"/>
<rect x="154.1" y="175.5" width="0.8" height="0.8" fill="#7888d0" opacity="0.45"/>
<rect x="149.0" y="174.2" width="0.8" height="0.8" fill="#7888d0" opacity="0.45"/>
<rect x="145.9" y="171.3" width="0.8" height="0.8" fill="#7888d0" opacity="0.45"/>
<rect x="146.2" y="172.8" width="0.8" height="0.8" fill="#7888d0" opacity="0.45"/>
<rect x="141.9" y="176.4" width="0.8" height="0.8" fill="#7888d0" opacity="0.45"/>
<rect x="151.3" y="175.0" width="0.8" height="0.8" fill="#7888d0" opacity="0.45"/>
<rect x="155.8" y="178.8" width="0.8" height="0.8" fill="#7888d0" opacity="0.45"/>
<rect x="154.2" y="174.2" width="0.8" height="0.8" fill="#7888d0" opacity="0.45"/>
<rect x="141.5" y="177.7" width="0.8" height="0.8" fill="#7888d0" opacity="0.45"/>
<rect x="150.5" y="178.2" width="0.8" height="0.8" fill="#7888d0" opacity="0.45"/>
<rect x="151.1" y="179.8" width="0.8" height="0.8" fill="#7888d0" opacity="0.45"/>
<rect x="147.6" y="178.0" width="0.8" height="0.8" fill="#7888d0" opacity="0.45"/>
<rect x="144.5" y="169.1" width="0.8" height="0.8" fill="#7888d0" opacity="0.45"/>
<rect x="146.8" y="180.5" width="0.8" height="0.8" fill="#7888d0" opacity="0.45"/>
<rect x="140.6" y="179.1" width="0.8" height="0.8" fill="#7888d0" opacity="0.45"/>
<rect x="145.6" y="174.8" width="0.8" height="0.8" fill="#7888d0" opacity="0.45"/>
<rect x="149.2" y="176.6" width="0.8" height="0.8" fill="#7888d0" opacity="0.45"/>
<rect x="144.1" y="176.4" width="0.8" height="0.8" fill="#7888d0" opacity="0.45"/>
<rect x="151.2" y="178.5" width="0.8" height="0.8" fill="#7888d0" opacity="0.45"/>
<rect x="145.2" y="180.7" width="0.8" height="0.8" fill="#7888d0" opacity="0.45"/>
<rect x="158.5" y="183.2" width="0.8" height="0.8" fill="#7888d0" opacity="0.45"/>
<rect x="142.3" y="176.5" width="0.8" height="0.8" fill="#7888d0" opacity="0.45"/>
<rect x="139.7" y="177.1" width="0.8" height="0.8" fill="#7888d0" opacity="0.45"/>
<rect x="151.8" y="172.6" width="0.8" height="0.8" fill="#7888d0" opacity="0.45"/>
<rect x="141.1" y="176.6" width="0.8" height="0.8" fill="#7888d0" opacity="0.45"/>
<rect x="152.1" y="173.6" width="0.8" height="0.8" fill="#7888d0" opacity="0.45"/>
<rect x="147.7" y="168.4" width="0.8" height="0.8" fill="#7888d0" opacity="0.45"/>
<rect x="145.5" y="176.4" width="0.8" height="0.8" fill="#7888d0" opacity="0.45"/>
<rect x="149.8" y="180.7" width="0.8" height="0.8" fill="#7888d0" opacity="0.45"/>
<rect x="143.3" y="169.2" width="0.8" height="0.8" fill="#7888d0" opacity="0.45"/>
<rect x="151.3" y="174.2" width="0.8" height="0.8" fill="#7888d0" opacity="0.45"/>
<rect x="150.4" y="178.2" width="0.8" height="0.8" fill="#7888d0" opacity="0.45"/>
<rect x="152.0" y="180.3" width="0.8" height="0.8" fill="#7888d0" opacity="0.45"/>
<rect x="155.8" y="171.0" width="0.8" height="0.8" fill="#7888d0" opacity="0.45"/>
<rect x="148.7" y="182.0" width="0.8" height="0.8" fill="#7888d0" opacity="0.45"/>
<rect x="147.0" y="178.9" width="0.8" height="0.8" fill="#7888d0" opacity="0.45"/>
<rect x="148.7" y="174.7" width="0.8" height="0.8" fill="#7888d0" opacity="0.45"/>
<rect x="156.9" y="179.1" width="0.8" height="0.8" fill="#7888d0" opacity="0.45"/>
<rect x="147.8" y="178.7" width="0.8" height="0.8" fill="#7888d0" opacity="0.45"/>
<g transform="translate(131.5,185) rotate(-10)" filter="url(#bl05)"><ellipse cx="0" cy="0" rx="2.6" ry="4.2" fill="#4a62c8" opacity="0.9"/><ellipse cx="-0.39" cy="0" rx="1.8199999999999998" ry="2.94" fill="#30a890"/><ellipse cx="-0.78" cy="0" rx="1.092" ry="1.8900000000000001" fill="#d8c428"/><ellipse cx="-1.04" cy="0" rx="0.52" ry="1.05" fill="#e05020"/></g>
<line x1="139.50" y1="154.40" x2="139.50" y2="197.00" stroke="#201a1a" stroke-width="1.35" />
<line x1="120.70" y1="179.10" x2="163.70" y2="179.10" stroke="#201a1a" stroke-width="1.35" />
<text transform="translate(130.10,164.40)" x="0" y="2.81" font-size="7.8" text-anchor="middle" fill="#222" >0.20</text>
<text transform="translate(151.60,164.40)" x="0" y="2.81" font-size="7.8" text-anchor="middle" fill="#222" >2.69</text>
<text transform="translate(130.10,192.90)" x="0" y="2.81" font-size="7.8" text-anchor="middle" fill="#222" >91.8</text>
<text transform="translate(151.60,192.90)" x="0" y="2.81" font-size="7.8" text-anchor="middle" fill="#222" >5.30</text>
<rect x="120.7" y="212.4" width="42.999999999999986" height="42.599999999999994" fill="#fff" stroke="#c8c8c8" stroke-width="0.6"/>
<line x1="118.50" y1="215.40" x2="120.10" y2="215.40" stroke="#aaa" stroke-width="0.6" />
<line x1="117.10" y1="214.20" x2="117.90" y2="213.60" stroke="#bbb" stroke-width="0.5" />
<line x1="118.50" y1="224.80" x2="120.10" y2="224.80" stroke="#aaa" stroke-width="0.6" />
<line x1="117.10" y1="223.60" x2="117.90" y2="223.00" stroke="#bbb" stroke-width="0.5" />
<line x1="118.50" y1="234.20" x2="120.10" y2="234.20" stroke="#aaa" stroke-width="0.6" />
<line x1="117.10" y1="233.00" x2="117.90" y2="232.40" stroke="#bbb" stroke-width="0.5" />
<line x1="118.50" y1="243.60" x2="120.10" y2="243.60" stroke="#aaa" stroke-width="0.6" />
<line x1="117.10" y1="242.40" x2="117.90" y2="241.80" stroke="#bbb" stroke-width="0.5" />
<line x1="118.50" y1="253.00" x2="120.10" y2="253.00" stroke="#aaa" stroke-width="0.6" />
<line x1="117.10" y1="251.80" x2="117.90" y2="251.20" stroke="#bbb" stroke-width="0.5" />
<line x1="123.70" y1="255.60" x2="123.70" y2="257.20" stroke="#aaa" stroke-width="0.6" />
<line x1="122.70" y1="258.60" x2="123.50" y2="257.80" stroke="#bbb" stroke-width="0.5" />
<line x1="133.20" y1="255.60" x2="133.20" y2="257.20" stroke="#aaa" stroke-width="0.6" />
<line x1="132.20" y1="258.60" x2="133.00" y2="257.80" stroke="#bbb" stroke-width="0.5" />
<line x1="142.70" y1="255.60" x2="142.70" y2="257.20" stroke="#aaa" stroke-width="0.6" />
<line x1="141.70" y1="258.60" x2="142.50" y2="257.80" stroke="#bbb" stroke-width="0.5" />
<line x1="152.20" y1="255.60" x2="152.20" y2="257.20" stroke="#aaa" stroke-width="0.6" />
<line x1="151.20" y1="258.60" x2="152.00" y2="257.80" stroke="#bbb" stroke-width="0.5" />
<line x1="161.70" y1="255.60" x2="161.70" y2="257.20" stroke="#aaa" stroke-width="0.6" />
<line x1="160.70" y1="258.60" x2="161.50" y2="257.80" stroke="#bbb" stroke-width="0.5" />
<rect x="139.4" y="236.2" width="0.8" height="0.8" fill="#5a6cc8" opacity="0.45"/>
<rect x="150.5" y="238.1" width="0.8" height="0.8" fill="#5a6cc8" opacity="0.45"/>
<rect x="140.7" y="239.1" width="0.8" height="0.8" fill="#5a6cc8" opacity="0.45"/>
<rect x="147.6" y="241.2" width="0.8" height="0.8" fill="#5a6cc8" opacity="0.45"/>
<rect x="150.8" y="237.3" width="0.8" height="0.8" fill="#5a6cc8" opacity="0.45"/>
<rect x="143.6" y="237.7" width="0.8" height="0.8" fill="#5a6cc8" opacity="0.45"/>
<rect x="144.9" y="241.7" width="0.8" height="0.8" fill="#5a6cc8" opacity="0.45"/>
<rect x="153.9" y="241.4" width="0.8" height="0.8" fill="#5a6cc8" opacity="0.45"/>
<rect x="147.9" y="237.4" width="0.8" height="0.8" fill="#5a6cc8" opacity="0.45"/>
<rect x="150.5" y="237.1" width="0.8" height="0.8" fill="#5a6cc8" opacity="0.45"/>
<rect x="147.2" y="233.8" width="0.8" height="0.8" fill="#5a6cc8" opacity="0.45"/>
<rect x="143.9" y="241.6" width="0.8" height="0.8" fill="#5a6cc8" opacity="0.45"/>
<rect x="140.9" y="234.3" width="0.8" height="0.8" fill="#5a6cc8" opacity="0.45"/>
<rect x="145.2" y="242.2" width="0.8" height="0.8" fill="#5a6cc8" opacity="0.45"/>
<rect x="153.3" y="237.1" width="0.8" height="0.8" fill="#5a6cc8" opacity="0.45"/>
<rect x="143.6" y="237.7" width="0.8" height="0.8" fill="#5a6cc8" opacity="0.45"/>
<rect x="141.3" y="238.1" width="0.8" height="0.8" fill="#5a6cc8" opacity="0.45"/>
<rect x="144.5" y="234.3" width="0.8" height="0.8" fill="#5a6cc8" opacity="0.45"/>
<rect x="143.1" y="237.4" width="0.8" height="0.8" fill="#5a6cc8" opacity="0.45"/>
<rect x="141.7" y="235.2" width="0.8" height="0.8" fill="#5a6cc8" opacity="0.45"/>
<rect x="150.5" y="242.7" width="0.8" height="0.8" fill="#5a6cc8" opacity="0.45"/>
<rect x="144.6" y="236.9" width="0.8" height="0.8" fill="#5a6cc8" opacity="0.45"/>
<rect x="148.5" y="237.4" width="0.8" height="0.8" fill="#5a6cc8" opacity="0.45"/>
<rect x="142.1" y="241.5" width="0.8" height="0.8" fill="#5a6cc8" opacity="0.45"/>
<rect x="140.8" y="236.2" width="0.8" height="0.8" fill="#5a6cc8" opacity="0.45"/>
<rect x="142.7" y="235.8" width="0.8" height="0.8" fill="#5a6cc8" opacity="0.45"/>
<rect x="144.8" y="239.4" width="0.8" height="0.8" fill="#5a6cc8" opacity="0.45"/>
<rect x="153.2" y="239.7" width="0.8" height="0.8" fill="#5a6cc8" opacity="0.45"/>
<rect x="146.2" y="234.9" width="0.8" height="0.8" fill="#5a6cc8" opacity="0.45"/>
<rect x="145.7" y="235.6" width="0.8" height="0.8" fill="#5a6cc8" opacity="0.45"/>
<rect x="145.5" y="240.4" width="0.8" height="0.8" fill="#5a6cc8" opacity="0.45"/>
<rect x="147.0" y="237.5" width="0.8" height="0.8" fill="#5a6cc8" opacity="0.45"/>
<rect x="142.2" y="237.9" width="0.8" height="0.8" fill="#5a6cc8" opacity="0.45"/>
<rect x="146.6" y="235.7" width="0.8" height="0.8" fill="#5a6cc8" opacity="0.45"/>
<rect x="143.5" y="240.2" width="0.8" height="0.8" fill="#5a6cc8" opacity="0.45"/>
<rect x="137.7" y="236.9" width="0.8" height="0.8" fill="#5a6cc8" opacity="0.45"/>
<rect x="140.2" y="241.9" width="0.8" height="0.8" fill="#5a6cc8" opacity="0.45"/>
<rect x="149.0" y="239.3" width="0.8" height="0.8" fill="#5a6cc8" opacity="0.45"/>
<rect x="148.0" y="238.7" width="0.8" height="0.8" fill="#5a6cc8" opacity="0.45"/>
<rect x="147.5" y="234.0" width="0.8" height="0.8" fill="#5a6cc8" opacity="0.45"/>
<rect x="147.3" y="239.5" width="0.8" height="0.8" fill="#5a6cc8" opacity="0.45"/>
<rect x="138.9" y="240.1" width="0.8" height="0.8" fill="#5a6cc8" opacity="0.45"/>
<rect x="149.3" y="234.2" width="0.8" height="0.8" fill="#5a6cc8" opacity="0.45"/>
<rect x="143.6" y="237.2" width="0.8" height="0.8" fill="#5a6cc8" opacity="0.45"/>
<rect x="143.4" y="239.0" width="0.8" height="0.8" fill="#5a6cc8" opacity="0.45"/>
<rect x="139.6" y="237.4" width="0.8" height="0.8" fill="#5a6cc8" opacity="0.45"/>
<rect x="147.1" y="239.8" width="0.8" height="0.8" fill="#5a6cc8" opacity="0.45"/>
<rect x="146.2" y="237.4" width="0.8" height="0.8" fill="#5a6cc8" opacity="0.45"/>
<rect x="149.5" y="233.0" width="0.8" height="0.8" fill="#5a6cc8" opacity="0.45"/>
<rect x="150.7" y="237.2" width="0.8" height="0.8" fill="#5a6cc8" opacity="0.45"/>
<rect x="139.7" y="236.9" width="0.8" height="0.8" fill="#5a6cc8" opacity="0.45"/>
<rect x="136.8" y="232.9" width="0.8" height="0.8" fill="#5a6cc8" opacity="0.45"/>
<rect x="144.4" y="236.1" width="0.8" height="0.8" fill="#5a6cc8" opacity="0.45"/>
<rect x="149.7" y="235.8" width="0.8" height="0.8" fill="#5a6cc8" opacity="0.45"/>
<rect x="139.5" y="235.6" width="0.8" height="0.8" fill="#5a6cc8" opacity="0.45"/>
<rect x="154.6" y="238.1" width="0.8" height="0.8" fill="#5a6cc8" opacity="0.45"/>
<rect x="142.9" y="235.5" width="0.8" height="0.8" fill="#5a6cc8" opacity="0.45"/>
<rect x="140.5" y="237.6" width="0.8" height="0.8" fill="#5a6cc8" opacity="0.45"/>
<rect x="148.1" y="240.9" width="0.8" height="0.8" fill="#5a6cc8" opacity="0.45"/>
<rect x="151.7" y="238.7" width="0.8" height="0.8" fill="#5a6cc8" opacity="0.45"/>
<rect x="142.7" y="235.8" width="0.8" height="0.8" fill="#5a6cc8" opacity="0.45"/>
<rect x="134.4" y="235.5" width="0.8" height="0.8" fill="#5a6cc8" opacity="0.45"/>
<rect x="148.1" y="237.2" width="0.8" height="0.8" fill="#5a6cc8" opacity="0.45"/>
<rect x="147.8" y="234.6" width="0.8" height="0.8" fill="#5a6cc8" opacity="0.45"/>
<rect x="150.5" y="238.7" width="0.8" height="0.8" fill="#5a6cc8" opacity="0.45"/>
<rect x="146.2" y="239.0" width="0.8" height="0.8" fill="#5a6cc8" opacity="0.45"/>
<rect x="134.8" y="236.6" width="0.8" height="0.8" fill="#5a6cc8" opacity="0.45"/>
<rect x="141.5" y="242.5" width="0.8" height="0.8" fill="#5a6cc8" opacity="0.45"/>
<rect x="145.1" y="236.7" width="0.8" height="0.8" fill="#5a6cc8" opacity="0.45"/>
<rect x="150.3" y="235.4" width="0.8" height="0.8" fill="#5a6cc8" opacity="0.45"/>
<rect x="153.1" y="236.2" width="0.8" height="0.8" fill="#5a6cc8" opacity="0.45"/>
<rect x="145.7" y="235.7" width="0.8" height="0.8" fill="#5a6cc8" opacity="0.45"/>
<rect x="150.0" y="232.6" width="0.8" height="0.8" fill="#5a6cc8" opacity="0.45"/>
<rect x="149.5" y="236.0" width="0.8" height="0.8" fill="#5a6cc8" opacity="0.45"/>
<rect x="146.2" y="235.1" width="0.8" height="0.8" fill="#5a6cc8" opacity="0.45"/>
<rect x="147.1" y="238.5" width="0.8" height="0.8" fill="#5a6cc8" opacity="0.45"/>
<rect x="149.0" y="238.8" width="0.8" height="0.8" fill="#5a6cc8" opacity="0.45"/>
<rect x="149.1" y="240.5" width="0.8" height="0.8" fill="#5a6cc8" opacity="0.45"/>
<rect x="144.1" y="235.1" width="0.8" height="0.8" fill="#5a6cc8" opacity="0.45"/>
<rect x="139.6" y="239.7" width="0.8" height="0.8" fill="#5a6cc8" opacity="0.45"/>
<rect x="144.1" y="240.6" width="0.8" height="0.8" fill="#5a6cc8" opacity="0.45"/>
<rect x="146.2" y="235.5" width="0.8" height="0.8" fill="#5a6cc8" opacity="0.45"/>
<rect x="150.5" y="242.9" width="0.8" height="0.8" fill="#5a6cc8" opacity="0.45"/>
<rect x="145.1" y="235.7" width="0.8" height="0.8" fill="#5a6cc8" opacity="0.45"/>
<rect x="141.8" y="240.2" width="0.8" height="0.8" fill="#5a6cc8" opacity="0.45"/>
<rect x="143.1" y="237.0" width="0.8" height="0.8" fill="#5a6cc8" opacity="0.45"/>
<rect x="149.4" y="238.0" width="0.8" height="0.8" fill="#5a6cc8" opacity="0.45"/>
<rect x="146.6" y="236.6" width="0.8" height="0.8" fill="#5a6cc8" opacity="0.45"/>
<rect x="142.8" y="238.4" width="0.8" height="0.8" fill="#5a6cc8" opacity="0.45"/>
<rect x="146.8" y="239.5" width="0.8" height="0.8" fill="#5a6cc8" opacity="0.45"/>
<rect x="143.5" y="238.9" width="0.8" height="0.8" fill="#5a6cc8" opacity="0.45"/>
<rect x="148.4" y="238.2" width="0.8" height="0.8" fill="#5a6cc8" opacity="0.45"/>
<rect x="148.9" y="240.5" width="0.8" height="0.8" fill="#5a6cc8" opacity="0.45"/>
<rect x="147.0" y="238.2" width="0.8" height="0.8" fill="#5a6cc8" opacity="0.45"/>
<rect x="141.2" y="238.8" width="0.8" height="0.8" fill="#5a6cc8" opacity="0.45"/>
<rect x="145.5" y="237.2" width="0.8" height="0.8" fill="#5a6cc8" opacity="0.45"/>
<rect x="141.9" y="239.4" width="0.8" height="0.8" fill="#5a6cc8" opacity="0.45"/>
<rect x="158.8" y="239.1" width="0.8" height="0.8" fill="#5a6cc8" opacity="0.45"/>
<rect x="146.4" y="239.1" width="0.8" height="0.8" fill="#5a6cc8" opacity="0.45"/>
<rect x="143.0" y="238.2" width="0.8" height="0.8" fill="#5a6cc8" opacity="0.45"/>
<rect x="142.7" y="236.4" width="0.8" height="0.8" fill="#5a6cc8" opacity="0.45"/>
<rect x="147.2" y="238.6" width="0.8" height="0.8" fill="#5a6cc8" opacity="0.45"/>
<rect x="145.4" y="236.0" width="0.8" height="0.8" fill="#5a6cc8" opacity="0.45"/>
<rect x="147.3" y="235.3" width="0.8" height="0.8" fill="#5a6cc8" opacity="0.45"/>
<rect x="149.9" y="237.1" width="0.8" height="0.8" fill="#5a6cc8" opacity="0.45"/>
<rect x="146.0" y="240.0" width="0.8" height="0.8" fill="#5a6cc8" opacity="0.45"/>
<rect x="148.8" y="234.8" width="0.8" height="0.8" fill="#5a6cc8" opacity="0.45"/>
<rect x="144.8" y="238.9" width="0.8" height="0.8" fill="#5a6cc8" opacity="0.45"/>
<rect x="140.6" y="232.0" width="0.8" height="0.8" fill="#5a6cc8" opacity="0.45"/>
<rect x="145.6" y="237.9" width="0.8" height="0.8" fill="#5a6cc8" opacity="0.45"/>
<rect x="148.1" y="238.2" width="0.8" height="0.8" fill="#5a6cc8" opacity="0.45"/>
<rect x="146.7" y="238.6" width="0.8" height="0.8" fill="#5a6cc8" opacity="0.45"/>
<rect x="152.9" y="239.2" width="0.8" height="0.8" fill="#5a6cc8" opacity="0.45"/>
<rect x="148.7" y="237.0" width="0.8" height="0.8" fill="#5a6cc8" opacity="0.45"/>
<rect x="151.6" y="237.5" width="0.8" height="0.8" fill="#5a6cc8" opacity="0.45"/>
<rect x="149.7" y="232.7" width="0.8" height="0.8" fill="#5a6cc8" opacity="0.45"/>
<rect x="147.2" y="237.8" width="0.8" height="0.8" fill="#5a6cc8" opacity="0.45"/>
<rect x="143.7" y="241.2" width="0.8" height="0.8" fill="#5a6cc8" opacity="0.45"/>
<rect x="148.0" y="237.6" width="0.8" height="0.8" fill="#5a6cc8" opacity="0.45"/>
<rect x="143.4" y="242.7" width="0.8" height="0.8" fill="#5a6cc8" opacity="0.45"/>
<rect x="149.7" y="239.6" width="0.8" height="0.8" fill="#5a6cc8" opacity="0.45"/>
<rect x="142.2" y="241.3" width="0.8" height="0.8" fill="#5a6cc8" opacity="0.45"/>
<rect x="148.8" y="237.3" width="0.8" height="0.8" fill="#5a6cc8" opacity="0.45"/>
<rect x="145.5" y="233.9" width="0.8" height="0.8" fill="#5a6cc8" opacity="0.45"/>
<rect x="149.3" y="235.3" width="0.8" height="0.8" fill="#5a6cc8" opacity="0.45"/>
<rect x="150.2" y="236.9" width="0.8" height="0.8" fill="#5a6cc8" opacity="0.45"/>
<rect x="142.9" y="238.9" width="0.8" height="0.8" fill="#5a6cc8" opacity="0.45"/>
<rect x="147.1" y="235.2" width="0.8" height="0.8" fill="#5a6cc8" opacity="0.45"/>
<rect x="145.6" y="239.5" width="0.8" height="0.8" fill="#5a6cc8" opacity="0.45"/>
<rect x="144.7" y="234.6" width="0.8" height="0.8" fill="#5a6cc8" opacity="0.45"/>
<rect x="144.8" y="235.6" width="0.8" height="0.8" fill="#5a6cc8" opacity="0.45"/>
<rect x="143.1" y="238.1" width="0.8" height="0.8" fill="#5a6cc8" opacity="0.45"/>
<rect x="145.7" y="237.5" width="0.8" height="0.8" fill="#5a6cc8" opacity="0.45"/>
<rect x="137.8" y="238.9" width="0.8" height="0.8" fill="#5a6cc8" opacity="0.45"/>
<rect x="145.0" y="237.0" width="0.8" height="0.8" fill="#5a6cc8" opacity="0.45"/>
<rect x="146.8" y="242.8" width="0.8" height="0.8" fill="#5a6cc8" opacity="0.45"/>
<rect x="139.6" y="234.0" width="0.8" height="0.8" fill="#5a6cc8" opacity="0.45"/>
<rect x="149.8" y="236.0" width="0.8" height="0.8" fill="#5a6cc8" opacity="0.45"/>
<rect x="152.5" y="235.5" width="0.8" height="0.8" fill="#5a6cc8" opacity="0.45"/>
<rect x="143.6" y="240.1" width="0.8" height="0.8" fill="#5a6cc8" opacity="0.45"/>
<rect x="150.5" y="239.1" width="0.8" height="0.8" fill="#5a6cc8" opacity="0.45"/>
<rect x="148.3" y="237.7" width="0.8" height="0.8" fill="#5a6cc8" opacity="0.45"/>
<rect x="143.8" y="237.5" width="0.8" height="0.8" fill="#5a6cc8" opacity="0.45"/>
<rect x="152.3" y="239.8" width="0.8" height="0.8" fill="#5a6cc8" opacity="0.45"/>
<rect x="146.1" y="238.8" width="0.8" height="0.8" fill="#5a6cc8" opacity="0.45"/>
<rect x="150.1" y="240.9" width="0.8" height="0.8" fill="#5a6cc8" opacity="0.45"/>
<rect x="145.3" y="237.8" width="0.8" height="0.8" fill="#5a6cc8" opacity="0.45"/>
<rect x="147.6" y="244.5" width="0.8" height="0.8" fill="#5a6cc8" opacity="0.45"/>
<rect x="147.2" y="241.2" width="0.8" height="0.8" fill="#5a6cc8" opacity="0.45"/>
<rect x="138.4" y="240.1" width="0.8" height="0.8" fill="#5a6cc8" opacity="0.45"/>
<rect x="139.0" y="235.3" width="0.8" height="0.8" fill="#5a6cc8" opacity="0.45"/>
<rect x="142.9" y="237.6" width="0.8" height="0.8" fill="#5a6cc8" opacity="0.45"/>
<rect x="146.9" y="238.9" width="0.8" height="0.8" fill="#5a6cc8" opacity="0.45"/>
<rect x="147.1" y="236.9" width="0.8" height="0.8" fill="#5a6cc8" opacity="0.45"/>
<rect x="158.9" y="239.0" width="0.8" height="0.8" fill="#5a6cc8" opacity="0.45"/>
<rect x="149.3" y="243.0" width="0.8" height="0.8" fill="#5a6cc8" opacity="0.45"/>
<rect x="150.8" y="239.4" width="0.8" height="0.8" fill="#5a6cc8" opacity="0.45"/>
<rect x="147.6" y="242.6" width="0.8" height="0.8" fill="#5a6cc8" opacity="0.45"/>
<rect x="140.6" y="235.6" width="0.8" height="0.8" fill="#5a6cc8" opacity="0.45"/>
<rect x="146.7" y="232.9" width="0.8" height="0.8" fill="#5a6cc8" opacity="0.45"/>
<rect x="142.1" y="240.8" width="0.8" height="0.8" fill="#5a6cc8" opacity="0.45"/>
<rect x="143.7" y="238.4" width="0.8" height="0.8" fill="#5a6cc8" opacity="0.45"/>
<rect x="149.4" y="235.1" width="0.8" height="0.8" fill="#5a6cc8" opacity="0.45"/>
<rect x="147.3" y="236.4" width="0.8" height="0.8" fill="#5a6cc8" opacity="0.45"/>
<rect x="140.6" y="237.3" width="0.8" height="0.8" fill="#5a6cc8" opacity="0.45"/>
<rect x="145.7" y="237.0" width="0.8" height="0.8" fill="#5a6cc8" opacity="0.45"/>
<rect x="142.7" y="240.4" width="0.8" height="0.8" fill="#5a6cc8" opacity="0.45"/>
<rect x="151.7" y="239.4" width="0.8" height="0.8" fill="#5a6cc8" opacity="0.45"/>
<rect x="145.5" y="235.4" width="0.8" height="0.8" fill="#5a6cc8" opacity="0.45"/>
<rect x="141.9" y="235.3" width="0.8" height="0.8" fill="#5a6cc8" opacity="0.45"/>
<rect x="147.0" y="240.3" width="0.8" height="0.8" fill="#5a6cc8" opacity="0.45"/>
<rect x="150.5" y="237.9" width="0.8" height="0.8" fill="#5a6cc8" opacity="0.45"/>
<rect x="144.1" y="238.4" width="0.8" height="0.8" fill="#5a6cc8" opacity="0.45"/>
<rect x="146.6" y="239.5" width="0.8" height="0.8" fill="#5a6cc8" opacity="0.45"/>
<rect x="153.3" y="236.3" width="0.8" height="0.8" fill="#5a6cc8" opacity="0.45"/>
<rect x="156.4" y="232.8" width="0.8" height="0.8" fill="#5a6cc8" opacity="0.45"/>
<rect x="137.2" y="234.3" width="0.8" height="0.8" fill="#5a6cc8" opacity="0.45"/>
<rect x="140.9" y="237.4" width="0.8" height="0.8" fill="#5a6cc8" opacity="0.45"/>
<rect x="156.2" y="236.3" width="0.8" height="0.8" fill="#5a6cc8" opacity="0.45"/>
<rect x="151.5" y="237.1" width="0.8" height="0.8" fill="#5a6cc8" opacity="0.45"/>
<rect x="146.8" y="235.5" width="0.8" height="0.8" fill="#5a6cc8" opacity="0.45"/>
<rect x="157.2" y="237.9" width="0.8" height="0.8" fill="#5a6cc8" opacity="0.45"/>
<rect x="143.0" y="243.6" width="0.8" height="0.8" fill="#5a6cc8" opacity="0.45"/>
<rect x="146.9" y="239.0" width="0.8" height="0.8" fill="#5a6cc8" opacity="0.45"/>
<rect x="145.3" y="235.9" width="0.8" height="0.8" fill="#5a6cc8" opacity="0.45"/>
<rect x="138.9" y="237.6" width="0.8" height="0.8" fill="#5a6cc8" opacity="0.45"/>
<rect x="154.0" y="239.0" width="0.8" height="0.8" fill="#5a6cc8" opacity="0.45"/>
<rect x="145.1" y="240.6" width="0.8" height="0.8" fill="#5a6cc8" opacity="0.45"/>
<rect x="141.4" y="241.4" width="0.8" height="0.8" fill="#5a6cc8" opacity="0.45"/>
<rect x="145.9" y="235.9" width="0.8" height="0.8" fill="#5a6cc8" opacity="0.45"/>
<rect x="149.4" y="239.3" width="0.8" height="0.8" fill="#5a6cc8" opacity="0.45"/>
<rect x="144.3" y="238.5" width="0.8" height="0.8" fill="#5a6cc8" opacity="0.45"/>
<rect x="150.8" y="241.5" width="0.8" height="0.8" fill="#5a6cc8" opacity="0.45"/>
<rect x="141.8" y="231.5" width="0.8" height="0.8" fill="#5a6cc8" opacity="0.45"/>
<rect x="156.1" y="237.3" width="0.8" height="0.8" fill="#5a6cc8" opacity="0.45"/>
<rect x="143.9" y="239.1" width="0.8" height="0.8" fill="#5a6cc8" opacity="0.45"/>
<rect x="143.9" y="240.6" width="0.8" height="0.8" fill="#5a6cc8" opacity="0.45"/>
<rect x="139.8" y="237.5" width="0.8" height="0.8" fill="#5a6cc8" opacity="0.45"/>
<rect x="139.8" y="241.8" width="0.8" height="0.8" fill="#5a6cc8" opacity="0.45"/>
<rect x="144.8" y="240.7" width="0.8" height="0.8" fill="#5a6cc8" opacity="0.45"/>
<rect x="158.9" y="227.4" width="0.8" height="0.8" fill="#7888d0" opacity="0.45"/>
<rect x="150.9" y="233.1" width="0.8" height="0.8" fill="#7888d0" opacity="0.45"/>
<rect x="152.2" y="230.6" width="0.8" height="0.8" fill="#7888d0" opacity="0.45"/>
<rect x="156.2" y="233.7" width="0.8" height="0.8" fill="#7888d0" opacity="0.45"/>
<rect x="149.1" y="230.6" width="0.8" height="0.8" fill="#7888d0" opacity="0.45"/>
<rect x="155.2" y="231.6" width="0.8" height="0.8" fill="#7888d0" opacity="0.45"/>
<rect x="152.7" y="227.7" width="0.8" height="0.8" fill="#7888d0" opacity="0.45"/>
<rect x="160.7" y="230.3" width="0.8" height="0.8" fill="#7888d0" opacity="0.45"/>
<rect x="153.3" y="230.9" width="0.8" height="0.8" fill="#7888d0" opacity="0.45"/>
<rect x="152.3" y="231.4" width="0.8" height="0.8" fill="#7888d0" opacity="0.45"/>
<rect x="147.9" y="232.1" width="0.8" height="0.8" fill="#7888d0" opacity="0.45"/>
<rect x="158.0" y="232.2" width="0.8" height="0.8" fill="#7888d0" opacity="0.45"/>
<rect x="155.6" y="232.4" width="0.8" height="0.8" fill="#7888d0" opacity="0.45"/>
<rect x="152.2" y="236.4" width="0.8" height="0.8" fill="#7888d0" opacity="0.45"/>
<rect x="148.6" y="232.1" width="0.8" height="0.8" fill="#7888d0" opacity="0.45"/>
<rect x="157.1" y="231.9" width="0.8" height="0.8" fill="#7888d0" opacity="0.45"/>
<rect x="146.8" y="227.8" width="0.8" height="0.8" fill="#7888d0" opacity="0.45"/>
<rect x="159.8" y="228.2" width="0.8" height="0.8" fill="#7888d0" opacity="0.45"/>
<rect x="152.0" y="232.6" width="0.8" height="0.8" fill="#7888d0" opacity="0.45"/>
<rect x="152.5" y="225.7" width="0.8" height="0.8" fill="#7888d0" opacity="0.45"/>
<rect x="142.6" y="230.7" width="0.8" height="0.8" fill="#7888d0" opacity="0.45"/>
<rect x="148.2" y="230.2" width="0.8" height="0.8" fill="#7888d0" opacity="0.45"/>
<rect x="152.5" y="231.5" width="0.8" height="0.8" fill="#7888d0" opacity="0.45"/>
<rect x="145.4" y="226.0" width="0.8" height="0.8" fill="#7888d0" opacity="0.45"/>
<rect x="156.7" y="229.1" width="0.8" height="0.8" fill="#7888d0" opacity="0.45"/>
<rect x="146.2" y="225.1" width="0.8" height="0.8" fill="#7888d0" opacity="0.45"/>
<rect x="154.7" y="227.2" width="0.8" height="0.8" fill="#7888d0" opacity="0.45"/>
<rect x="146.8" y="232.9" width="0.8" height="0.8" fill="#7888d0" opacity="0.45"/>
<rect x="153.5" y="232.7" width="0.8" height="0.8" fill="#7888d0" opacity="0.45"/>
<rect x="145.7" y="222.5" width="0.8" height="0.8" fill="#7888d0" opacity="0.45"/>
<rect x="147.1" y="230.1" width="0.8" height="0.8" fill="#7888d0" opacity="0.45"/>
<rect x="148.7" y="233.7" width="0.8" height="0.8" fill="#7888d0" opacity="0.45"/>
<rect x="153.8" y="227.9" width="0.8" height="0.8" fill="#7888d0" opacity="0.45"/>
<rect x="154.8" y="230.6" width="0.8" height="0.8" fill="#7888d0" opacity="0.45"/>
<rect x="149.6" y="234.3" width="0.8" height="0.8" fill="#7888d0" opacity="0.45"/>
<rect x="143.7" y="234.1" width="0.8" height="0.8" fill="#7888d0" opacity="0.45"/>
<rect x="157.4" y="224.9" width="0.8" height="0.8" fill="#7888d0" opacity="0.45"/>
<rect x="151.1" y="230.5" width="0.8" height="0.8" fill="#7888d0" opacity="0.45"/>
<rect x="146.4" y="229.3" width="0.8" height="0.8" fill="#7888d0" opacity="0.45"/>
<rect x="148.0" y="231.2" width="0.8" height="0.8" fill="#7888d0" opacity="0.45"/>
<rect x="149.2" y="224.6" width="0.8" height="0.8" fill="#7888d0" opacity="0.45"/>
<rect x="157.9" y="233.7" width="0.8" height="0.8" fill="#7888d0" opacity="0.45"/>
<rect x="147.8" y="233.6" width="0.8" height="0.8" fill="#7888d0" opacity="0.45"/>
<rect x="162.1" y="226.4" width="0.8" height="0.8" fill="#7888d0" opacity="0.45"/>
<rect x="150.0" y="229.4" width="0.8" height="0.8" fill="#7888d0" opacity="0.45"/>
<rect x="154.8" y="230.1" width="0.8" height="0.8" fill="#7888d0" opacity="0.45"/>
<rect x="145.0" y="234.8" width="0.8" height="0.8" fill="#7888d0" opacity="0.45"/>
<rect x="150.4" y="233.2" width="0.8" height="0.8" fill="#7888d0" opacity="0.45"/>
<rect x="149.9" y="233.7" width="0.8" height="0.8" fill="#7888d0" opacity="0.45"/>
<rect x="151.5" y="232.6" width="0.8" height="0.8" fill="#7888d0" opacity="0.45"/>
<rect x="152.0" y="239.4" width="0.8" height="0.8" fill="#7888d0" opacity="0.45"/>
<rect x="155.2" y="232.0" width="0.8" height="0.8" fill="#7888d0" opacity="0.45"/>
<rect x="152.6" y="232.2" width="0.8" height="0.8" fill="#7888d0" opacity="0.45"/>
<rect x="143.9" y="230.2" width="0.8" height="0.8" fill="#7888d0" opacity="0.45"/>
<rect x="155.7" y="227.4" width="0.8" height="0.8" fill="#7888d0" opacity="0.45"/>
<rect x="152.2" y="230.7" width="0.8" height="0.8" fill="#7888d0" opacity="0.45"/>
<rect x="149.4" y="238.5" width="0.8" height="0.8" fill="#7888d0" opacity="0.45"/>
<rect x="155.6" y="232.0" width="0.8" height="0.8" fill="#7888d0" opacity="0.45"/>
<rect x="148.1" y="231.3" width="0.8" height="0.8" fill="#7888d0" opacity="0.45"/>
<g transform="translate(133,243.5) rotate(-30)" filter="url(#bl05)"><ellipse cx="0" cy="0" rx="4.8" ry="2.4" fill="#4a62c8" opacity="0.9"/><ellipse cx="-0.72" cy="0" rx="3.36" ry="1.68" fill="#30a890"/><ellipse cx="-1.44" cy="0" rx="2.016" ry="1.08" fill="#d8c428"/><ellipse cx="-1.92" cy="0" rx="0.96" ry="0.6" fill="#e05020"/></g>
<line x1="139.50" y1="212.40" x2="139.50" y2="255.00" stroke="#201a1a" stroke-width="1.35" />
<line x1="120.70" y1="236.90" x2="163.70" y2="236.90" stroke="#201a1a" stroke-width="1.35" />
<text transform="translate(130.10,222.40)" x="0" y="2.81" font-size="7.8" text-anchor="middle" fill="#222" >0.11</text>
<text transform="translate(151.60,222.40)" x="0" y="2.81" font-size="7.8" text-anchor="middle" fill="#222" >9.18</text>
<text transform="translate(130.10,250.90)" x="0" y="2.81" font-size="7.8" text-anchor="middle" fill="#222" >71.0</text>
<text transform="translate(151.60,250.90)" x="0" y="2.81" font-size="7.8" text-anchor="middle" fill="#222" >19.8</text>
<text transform="translate(139.80,148.40)" x="0" y="3.38" font-size="9.4" text-anchor="middle" fill="#222" >Dox–</text>
<text transform="translate(139.80,208.20)" x="0" y="3.38" font-size="9.4" text-anchor="middle" fill="#222" >Dox+</text>
<line x1="110.10" y1="158.70" x2="110.10" y2="232.00" stroke="#000" stroke-width="1" />
<polygon points="108.1,159.2 112.1,159.2 110.1,154.7" fill="#000"/>
<text transform="translate(108.50,242.30) rotate(-90) scale(0.86,1)" x="0" y="3.02" font-size="8.4" text-anchor="middle" fill="#383838" >7AAD</text>
<text transform="translate(140.00,265.30) scale(0.86,1)" x="0" y="3.13" font-size="8.7" text-anchor="middle" fill="#383838" >Annexin V</text>
<line x1="158.00" y1="265.30" x2="169.00" y2="265.30" stroke="#000" stroke-width="1" />
<polygon points="168.5,263.3 168.5,267.3 173,265.3" fill="#000"/>
<text transform="translate(239.90,147.50)" x="0" y="4.18" font-size="11.6" text-anchor="start" fill="#000" font-weight="bold" >E</text>
<line x1="277.90" y1="158.00" x2="277.90" y2="264.30" stroke="#111" stroke-width="1.2" />
<line x1="274.60" y1="263.80" x2="277.90" y2="263.80" stroke="#111" stroke-width="1.2" />
<text transform="translate(271.90,263.80)" x="0" y="2.81" font-size="7.8" text-anchor="end" fill="#383838" >0</text>
<line x1="274.60" y1="242.74" x2="277.90" y2="242.74" stroke="#111" stroke-width="1.2" />
<text transform="translate(271.90,242.74)" x="0" y="2.81" font-size="7.8" text-anchor="end" fill="#383838" >10</text>
<line x1="274.60" y1="221.68" x2="277.90" y2="221.68" stroke="#111" stroke-width="1.2" />
<text transform="translate(271.90,221.68)" x="0" y="2.81" font-size="7.8" text-anchor="end" fill="#383838" >20</text>
<line x1="274.60" y1="200.62" x2="277.90" y2="200.62" stroke="#111" stroke-width="1.2" />
<text transform="translate(271.90,200.62)" x="0" y="2.81" font-size="7.8" text-anchor="end" fill="#383838" >30</text>
<line x1="274.60" y1="179.56" x2="277.90" y2="179.56" stroke="#111" stroke-width="1.2" />
<text transform="translate(271.90,179.56)" x="0" y="2.81" font-size="7.8" text-anchor="end" fill="#383838" >40</text>
<line x1="274.60" y1="158.50" x2="277.90" y2="158.50" stroke="#111" stroke-width="1.2" />
<text transform="translate(271.90,158.50)" x="0" y="2.81" font-size="7.8" text-anchor="end" fill="#383838" >50</text>
<line x1="274.60" y1="263.80" x2="372.00" y2="263.80" stroke="#111" stroke-width="1.2" />
<rect x="285.60" y="224.84" width="15.50" height="38.96" fill="#c4122e" />
<line x1="293.35" y1="219.57" x2="293.35" y2="224.84" stroke="#222" stroke-width="1" />
<line x1="290.35" y1="219.57" x2="296.35" y2="219.57" stroke="#222" stroke-width="1" />
<rect x="301.10" y="193.25" width="15.50" height="70.55" fill="#115282" />
<line x1="308.85" y1="178.51" x2="308.85" y2="193.25" stroke="#222" stroke-width="1" />
<line x1="305.85" y1="178.51" x2="311.85" y2="178.51" stroke="#222" stroke-width="1" />
<rect x="332.30" y="221.68" width="15.50" height="42.12" fill="#c4122e" />
<line x1="340.05" y1="194.30" x2="340.05" y2="221.68" stroke="#222" stroke-width="1" />
<line x1="337.05" y1="194.30" x2="343.05" y2="194.30" stroke="#222" stroke-width="1" />
<rect x="348.30" y="223.79" width="15.50" height="40.01" fill="#115282" />
<line x1="356.05" y1="202.30" x2="356.05" y2="223.79" stroke="#222" stroke-width="1" />
<line x1="353.05" y1="202.30" x2="359.05" y2="202.30" stroke="#222" stroke-width="1" />
<line x1="301.10" y1="263.80" x2="301.10" y2="266.40" stroke="#111" stroke-width="1.15" />
<line x1="348.30" y1="263.80" x2="348.30" y2="266.40" stroke="#111" stroke-width="1.15" />
<line x1="290.80" y1="175.50" x2="318.50" y2="175.50" stroke="#222" stroke-width="1" />
<circle cx="303.00" cy="172.30" r="1.05" fill="#111"/>
<circle cx="306.30" cy="172.30" r="1.05" fill="#111"/>
<line x1="335.50" y1="191.20" x2="364.70" y2="191.20" stroke="#222" stroke-width="1" />
<text transform="translate(350.10,186.20)" x="0" y="2.81" font-size="7.8" text-anchor="middle" fill="#383838" >NS</text>
<text transform="translate(301.10,273.60)" x="0" y="3.10" font-size="8.6" text-anchor="middle" fill="#383838" >AML</text>
<text transform="translate(348.30,273.80)" x="0" y="3.10" font-size="8.6" text-anchor="middle" fill="#383838" >CB</text>
<rect x="281.00" y="148.80" width="10.80" height="4.50" fill="#c4122e" />
<text transform="translate(294.90,151.00)" x="0" y="2.81" font-size="7.8" text-anchor="start" fill="#383838" >Control</text>
<rect x="281.00" y="156.80" width="10.80" height="5.20" fill="#115282" />
<text transform="translate(294.90,159.40)" x="0" y="2.81" font-size="7.8" text-anchor="start" fill="#383838" >GADD45g</text>
<text transform="translate(253.5,211.5) rotate(-90) scale(0.86,1)" x="0" y="3.28" font-size="9.1" text-anchor="middle" fill="#383838">Annexin V<tspan font-size="5.8" dy="-3.2">+</tspan><tspan dy="3.2"> (%)</tspan></text>
<rect x="406.3" y="166.7" width="40.80000000000001" height="40.400000000000006" fill="#fff" stroke="#c8c8c8" stroke-width="0.6"/>
<line x1="404.10" y1="169.70" x2="405.70" y2="169.70" stroke="#aaa" stroke-width="0.6" />
<line x1="402.70" y1="168.50" x2="403.50" y2="167.90" stroke="#bbb" stroke-width="0.5" />
<line x1="404.10" y1="178.55" x2="405.70" y2="178.55" stroke="#aaa" stroke-width="0.6" />
<line x1="402.70" y1="177.35" x2="403.50" y2="176.75" stroke="#bbb" stroke-width="0.5" />
<line x1="404.10" y1="187.40" x2="405.70" y2="187.40" stroke="#aaa" stroke-width="0.6" />
<line x1="402.70" y1="186.20" x2="403.50" y2="185.60" stroke="#bbb" stroke-width="0.5" />
<line x1="404.10" y1="196.25" x2="405.70" y2="196.25" stroke="#aaa" stroke-width="0.6" />
<line x1="402.70" y1="195.05" x2="403.50" y2="194.45" stroke="#bbb" stroke-width="0.5" />
<line x1="404.10" y1="205.10" x2="405.70" y2="205.10" stroke="#aaa" stroke-width="0.6" />
<line x1="402.70" y1="203.90" x2="403.50" y2="203.30" stroke="#bbb" stroke-width="0.5" />
<line x1="409.30" y1="207.70" x2="409.30" y2="209.30" stroke="#aaa" stroke-width="0.6" />
<line x1="408.30" y1="210.70" x2="409.10" y2="209.90" stroke="#bbb" stroke-width="0.5" />
<line x1="418.25" y1="207.70" x2="418.25" y2="209.30" stroke="#aaa" stroke-width="0.6" />
<line x1="417.25" y1="210.70" x2="418.05" y2="209.90" stroke="#bbb" stroke-width="0.5" />
<line x1="427.20" y1="207.70" x2="427.20" y2="209.30" stroke="#aaa" stroke-width="0.6" />
<line x1="426.20" y1="210.70" x2="427.00" y2="209.90" stroke="#bbb" stroke-width="0.5" />
<line x1="436.15" y1="207.70" x2="436.15" y2="209.30" stroke="#aaa" stroke-width="0.6" />
<line x1="435.15" y1="210.70" x2="435.95" y2="209.90" stroke="#bbb" stroke-width="0.5" />
<line x1="445.10" y1="207.70" x2="445.10" y2="209.30" stroke="#aaa" stroke-width="0.6" />
<line x1="444.10" y1="210.70" x2="444.90" y2="209.90" stroke="#bbb" stroke-width="0.5" />
<rect x="424.2" y="189.7" width="0.8" height="0.8" fill="#5a6cc8" opacity="0.45"/>
<rect x="427.3" y="197.5" width="0.8" height="0.8" fill="#5a6cc8" opacity="0.45"/>
<rect x="434.0" y="195.1" width="0.8" height="0.8" fill="#5a6cc8" opacity="0.45"/>
<rect x="434.2" y="198.5" width="0.8" height="0.8" fill="#5a6cc8" opacity="0.45"/>
<rect x="422.0" y="186.1" width="0.8" height="0.8" fill="#5a6cc8" opacity="0.45"/>
<rect x="427.3" y="190.8" width="0.8" height="0.8" fill="#5a6cc8" opacity="0.45"/>
<rect x="426.2" y="188.1" width="0.8" height="0.8" fill="#5a6cc8" opacity="0.45"/>
<rect x="430.1" y="195.2" width="0.8" height="0.8" fill="#5a6cc8" opacity="0.45"/>
<rect x="427.3" y="189.3" width="0.8" height="0.8" fill="#5a6cc8" opacity="0.45"/>
<rect x="433.2" y="189.1" width="0.8" height="0.8" fill="#5a6cc8" opacity="0.45"/>
<rect x="423.9" y="191.0" width="0.8" height="0.8" fill="#5a6cc8" opacity="0.45"/>
<rect x="412.3" y="195.7" width="0.8" height="0.8" fill="#5a6cc8" opacity="0.45"/>
<rect x="425.4" y="191.6" width="0.8" height="0.8" fill="#5a6cc8" opacity="0.45"/>
<rect x="427.9" y="191.2" width="0.8" height="0.8" fill="#5a6cc8" opacity="0.45"/>
<rect x="418.0" y="195.3" width="0.8" height="0.8" fill="#5a6cc8" opacity="0.45"/>
<rect x="429.5" y="190.9" width="0.8" height="0.8" fill="#5a6cc8" opacity="0.45"/>
<rect x="444.9" y="186.2" width="0.8" height="0.8" fill="#5a6cc8" opacity="0.45"/>
<rect x="430.5" y="189.7" width="0.8" height="0.8" fill="#5a6cc8" opacity="0.45"/>
<rect x="417.0" y="195.8" width="0.8" height="0.8" fill="#5a6cc8" opacity="0.45"/>
<rect x="416.7" y="190.4" width="0.8" height="0.8" fill="#5a6cc8" opacity="0.45"/>
<rect x="425.5" y="190.6" width="0.8" height="0.8" fill="#5a6cc8" opacity="0.45"/>
<rect x="420.4" y="194.1" width="0.8" height="0.8" fill="#5a6cc8" opacity="0.45"/>
<rect x="427.6" y="186.2" width="0.8" height="0.8" fill="#5a6cc8" opacity="0.45"/>
<rect x="418.7" y="190.8" width="0.8" height="0.8" fill="#5a6cc8" opacity="0.45"/>
<rect x="419.1" y="191.3" width="0.8" height="0.8" fill="#5a6cc8" opacity="0.45"/>
<rect x="428.0" y="188.3" width="0.8" height="0.8" fill="#5a6cc8" opacity="0.45"/>
<rect x="414.4" y="186.1" width="0.8" height="0.8" fill="#5a6cc8" opacity="0.45"/>
<rect x="428.2" y="188.5" width="0.8" height="0.8" fill="#5a6cc8" opacity="0.45"/>
<rect x="437.2" y="188.7" width="0.8" height="0.8" fill="#5a6cc8" opacity="0.45"/>
<rect x="428.3" y="192.1" width="0.8" height="0.8" fill="#5a6cc8" opacity="0.45"/>
<rect x="426.6" y="190.9" width="0.8" height="0.8" fill="#5a6cc8" opacity="0.45"/>
<rect x="432.1" y="189.6" width="0.8" height="0.8" fill="#5a6cc8" opacity="0.45"/>
<rect x="428.1" y="188.9" width="0.8" height="0.8" fill="#5a6cc8" opacity="0.45"/>
<rect x="438.1" y="190.5" width="0.8" height="0.8" fill="#5a6cc8" opacity="0.45"/>
<rect x="431.1" y="181.1" width="0.8" height="0.8" fill="#5a6cc8" opacity="0.45"/>
<rect x="423.1" y="186.6" width="0.8" height="0.8" fill="#5a6cc8" opacity="0.45"/>
<rect x="426.3" y="188.7" width="0.8" height="0.8" fill="#5a6cc8" opacity="0.45"/>
<rect x="419.7" y="189.2" width="0.8" height="0.8" fill="#5a6cc8" opacity="0.45"/>
<rect x="430.9" y="193.2" width="0.8" height="0.8" fill="#5a6cc8" opacity="0.45"/>
<rect x="422.8" y="193.2" width="0.8" height="0.8" fill="#5a6cc8" opacity="0.45"/>
<rect x="422.3" y="191.9" width="0.8" height="0.8" fill="#5a6cc8" opacity="0.45"/>
<rect x="420.9" y="193.2" width="0.8" height="0.8" fill="#5a6cc8" opacity="0.45"/>
<rect x="440.0" y="189.1" width="0.8" height="0.8" fill="#5a6cc8" opacity="0.45"/>
<rect x="433.4" y="185.7" width="0.8" height="0.8" fill="#5a6cc8" opacity="0.45"/>
<rect x="422.2" y="198.0" width="0.8" height="0.8" fill="#5a6cc8" opacity="0.45"/>
<rect x="425.6" y="191.5" width="0.8" height="0.8" fill="#5a6cc8" opacity="0.45"/>
<rect x="416.3" y="190.0" width="0.8" height="0.8" fill="#5a6cc8" opacity="0.45"/>
<rect x="421.3" y="193.6" width="0.8" height="0.8" fill="#5a6cc8" opacity="0.45"/>
<rect x="422.8" y="197.7" width="0.8" height="0.8" fill="#5a6cc8" opacity="0.45"/>
<rect x="419.5" y="191.0" width="0.8" height="0.8" fill="#5a6cc8" opacity="0.45"/>
<rect x="414.0" y="188.8" width="0.8" height="0.8" fill="#5a6cc8" opacity="0.45"/>
<rect x="433.3" y="189.7" width="0.8" height="0.8" fill="#5a6cc8" opacity="0.45"/>
<rect x="418.2" y="191.5" width="0.8" height="0.8" fill="#5a6cc8" opacity="0.45"/>
<rect x="431.7" y="191.3" width="0.8" height="0.8" fill="#5a6cc8" opacity="0.45"/>
<rect x="432.0" y="185.7" width="0.8" height="0.8" fill="#5a6cc8" opacity="0.45"/>
<rect x="437.0" y="192.1" width="0.8" height="0.8" fill="#5a6cc8" opacity="0.45"/>
<rect x="413.4" y="195.6" width="0.8" height="0.8" fill="#5a6cc8" opacity="0.45"/>
<rect x="423.2" y="191.6" width="0.8" height="0.8" fill="#5a6cc8" opacity="0.45"/>
<rect x="414.1" y="188.1" width="0.8" height="0.8" fill="#5a6cc8" opacity="0.45"/>
<rect x="415.1" y="192.5" width="0.8" height="0.8" fill="#5a6cc8" opacity="0.45"/>
<rect x="424.6" y="187.2" width="0.8" height="0.8" fill="#5a6cc8" opacity="0.45"/>
<rect x="423.8" y="193.4" width="0.8" height="0.8" fill="#5a6cc8" opacity="0.45"/>
<rect x="421.3" y="191.7" width="0.8" height="0.8" fill="#5a6cc8" opacity="0.45"/>
<rect x="418.9" y="185.0" width="0.8" height="0.8" fill="#5a6cc8" opacity="0.45"/>
<rect x="423.1" y="189.1" width="0.8" height="0.8" fill="#5a6cc8" opacity="0.45"/>
<rect x="427.1" y="192.8" width="0.8" height="0.8" fill="#5a6cc8" opacity="0.45"/>
<rect x="423.5" y="188.9" width="0.8" height="0.8" fill="#5a6cc8" opacity="0.45"/>
<rect x="430.6" y="191.3" width="0.8" height="0.8" fill="#5a6cc8" opacity="0.45"/>
<rect x="425.7" y="190.7" width="0.8" height="0.8" fill="#5a6cc8" opacity="0.45"/>
<rect x="412.9" y="188.4" width="0.8" height="0.8" fill="#5a6cc8" opacity="0.45"/>
<rect x="416.4" y="188.9" width="0.8" height="0.8" fill="#5a6cc8" opacity="0.45"/>
<rect x="431.4" y="185.0" width="0.8" height="0.8" fill="#5a6cc8" opacity="0.45"/>
<rect x="431.5" y="188.3" width="0.8" height="0.8" fill="#5a6cc8" opacity="0.45"/>
<rect x="424.7" y="188.6" width="0.8" height="0.8" fill="#5a6cc8" opacity="0.45"/>
<rect x="430.3" y="188.0" width="0.8" height="0.8" fill="#5a6cc8" opacity="0.45"/>
<rect x="413.5" y="191.0" width="0.8" height="0.8" fill="#5a6cc8" opacity="0.45"/>
<rect x="425.1" y="191.9" width="0.8" height="0.8" fill="#5a6cc8" opacity="0.45"/>
<rect x="429.6" y="186.4" width="0.8" height="0.8" fill="#5a6cc8" opacity="0.45"/>
<rect x="427.2" y="190.4" width="0.8" height="0.8" fill="#5a6cc8" opacity="0.45"/>
<rect x="425.6" y="190.3" width="0.8" height="0.8" fill="#5a6cc8" opacity="0.45"/>
<rect x="427.9" y="188.3" width="0.8" height="0.8" fill="#5a6cc8" opacity="0.45"/>
<rect x="425.1" y="192.9" width="0.8" height="0.8" fill="#5a6cc8" opacity="0.45"/>
<rect x="419.6" y="189.8" width="0.8" height="0.8" fill="#5a6cc8" opacity="0.45"/>
<rect x="419.9" y="186.8" width="0.8" height="0.8" fill="#5a6cc8" opacity="0.45"/>
<rect x="423.5" y="190.5" width="0.8" height="0.8" fill="#5a6cc8" opacity="0.45"/>
<rect x="435.1" y="189.4" width="0.8" height="0.8" fill="#5a6cc8" opacity="0.45"/>
<rect x="431.6" y="191.6" width="0.8" height="0.8" fill="#5a6cc8" opacity="0.45"/>
<rect x="426.4" y="180.7" width="0.8" height="0.8" fill="#5a6cc8" opacity="0.45"/>
<rect x="426.8" y="190.2" width="0.8" height="0.8" fill="#5a6cc8" opacity="0.45"/>
<rect x="419.8" y="190.4" width="0.8" height="0.8" fill="#5a6cc8" opacity="0.45"/>
<rect x="434.8" y="186.5" width="0.8" height="0.8" fill="#5a6cc8" opacity="0.45"/>
<rect x="422.9" y="192.7" width="0.8" height="0.8" fill="#5a6cc8" opacity="0.45"/>
<rect x="415.2" y="186.9" width="0.8" height="0.8" fill="#5a6cc8" opacity="0.45"/>
<rect x="427.8" y="192.9" width="0.8" height="0.8" fill="#5a6cc8" opacity="0.45"/>
<rect x="433.3" y="192.3" width="0.8" height="0.8" fill="#5a6cc8" opacity="0.45"/>
<rect x="439.8" y="191.2" width="0.8" height="0.8" fill="#5a6cc8" opacity="0.45"/>
<rect x="418.2" y="189.4" width="0.8" height="0.8" fill="#5a6cc8" opacity="0.45"/>
<rect x="429.8" y="191.1" width="0.8" height="0.8" fill="#5a6cc8" opacity="0.45"/>
<rect x="414.4" y="191.2" width="0.8" height="0.8" fill="#5a6cc8" opacity="0.45"/>
<rect x="421.2" y="189.4" width="0.8" height="0.8" fill="#5a6cc8" opacity="0.45"/>
<rect x="434.8" y="189.5" width="0.8" height="0.8" fill="#5a6cc8" opacity="0.45"/>
<rect x="422.0" y="189.6" width="0.8" height="0.8" fill="#5a6cc8" opacity="0.45"/>
<rect x="422.1" y="196.1" width="0.8" height="0.8" fill="#5a6cc8" opacity="0.45"/>
<rect x="431.0" y="192.7" width="0.8" height="0.8" fill="#5a6cc8" opacity="0.45"/>
<rect x="421.9" y="188.1" width="0.8" height="0.8" fill="#5a6cc8" opacity="0.45"/>
<rect x="427.5" y="183.5" width="0.8" height="0.8" fill="#5a6cc8" opacity="0.45"/>
<rect x="432.1" y="186.2" width="0.8" height="0.8" fill="#5a6cc8" opacity="0.45"/>
<rect x="426.6" y="191.0" width="0.8" height="0.8" fill="#5a6cc8" opacity="0.45"/>
<rect x="421.3" y="191.1" width="0.8" height="0.8" fill="#5a6cc8" opacity="0.45"/>
<rect x="430.2" y="195.7" width="0.8" height="0.8" fill="#5a6cc8" opacity="0.45"/>
<rect x="428.4" y="195.5" width="0.8" height="0.8" fill="#5a6cc8" opacity="0.45"/>
<rect x="428.8" y="189.4" width="0.8" height="0.8" fill="#5a6cc8" opacity="0.45"/>
<rect x="431.2" y="188.4" width="0.8" height="0.8" fill="#5a6cc8" opacity="0.45"/>
<rect x="426.9" y="191.9" width="0.8" height="0.8" fill="#5a6cc8" opacity="0.45"/>
<rect x="432.9" y="190.8" width="0.8" height="0.8" fill="#5a6cc8" opacity="0.45"/>
<rect x="417.2" y="193.9" width="0.8" height="0.8" fill="#5a6cc8" opacity="0.45"/>
<rect x="427.0" y="189.1" width="0.8" height="0.8" fill="#5a6cc8" opacity="0.45"/>
<rect x="421.2" y="191.7" width="0.8" height="0.8" fill="#5a6cc8" opacity="0.45"/>
<rect x="428.0" y="192.0" width="0.8" height="0.8" fill="#5a6cc8" opacity="0.45"/>
<rect x="425.2" y="194.6" width="0.8" height="0.8" fill="#5a6cc8" opacity="0.45"/>
<rect x="424.4" y="191.2" width="0.8" height="0.8" fill="#5a6cc8" opacity="0.45"/>
<rect x="427.2" y="193.2" width="0.8" height="0.8" fill="#5a6cc8" opacity="0.45"/>
<rect x="421.9" y="189.1" width="0.8" height="0.8" fill="#5a6cc8" opacity="0.45"/>
<rect x="424.7" y="188.0" width="0.8" height="0.8" fill="#5a6cc8" opacity="0.45"/>
<rect x="422.1" y="186.4" width="0.8" height="0.8" fill="#5a6cc8" opacity="0.45"/>
<rect x="430.5" y="194.5" width="0.8" height="0.8" fill="#5a6cc8" opacity="0.45"/>
<rect x="420.1" y="192.3" width="0.8" height="0.8" fill="#5a6cc8" opacity="0.45"/>
<rect x="419.1" y="187.6" width="0.8" height="0.8" fill="#5a6cc8" opacity="0.45"/>
<rect x="424.1" y="190.4" width="0.8" height="0.8" fill="#5a6cc8" opacity="0.45"/>
<rect x="428.7" y="184.2" width="0.8" height="0.8" fill="#5a6cc8" opacity="0.45"/>
<rect x="418.1" y="190.2" width="0.8" height="0.8" fill="#5a6cc8" opacity="0.45"/>
<rect x="424.5" y="196.4" width="0.8" height="0.8" fill="#5a6cc8" opacity="0.45"/>
<rect x="424.3" y="188.0" width="0.8" height="0.8" fill="#5a6cc8" opacity="0.45"/>
<rect x="433.2" y="182.0" width="0.8" height="0.8" fill="#5a6cc8" opacity="0.45"/>
<rect x="414.8" y="198.1" width="0.8" height="0.8" fill="#5a6cc8" opacity="0.45"/>
<rect x="422.3" y="190.2" width="0.8" height="0.8" fill="#5a6cc8" opacity="0.45"/>
<rect x="424.9" y="187.3" width="0.8" height="0.8" fill="#5a6cc8" opacity="0.45"/>
<rect x="425.1" y="186.1" width="0.8" height="0.8" fill="#5a6cc8" opacity="0.45"/>
<rect x="431.7" y="192.3" width="0.8" height="0.8" fill="#5a6cc8" opacity="0.45"/>
<rect x="430.0" y="187.2" width="0.8" height="0.8" fill="#5a6cc8" opacity="0.45"/>
<rect x="414.4" y="188.5" width="0.8" height="0.8" fill="#5a6cc8" opacity="0.45"/>
<rect x="419.4" y="191.1" width="0.8" height="0.8" fill="#5a6cc8" opacity="0.45"/>
<rect x="416.3" y="187.2" width="0.8" height="0.8" fill="#5a6cc8" opacity="0.45"/>
<rect x="426.8" y="191.3" width="0.8" height="0.8" fill="#5a6cc8" opacity="0.45"/>
<rect x="426.5" y="186.2" width="0.8" height="0.8" fill="#5a6cc8" opacity="0.45"/>
<rect x="421.9" y="196.0" width="0.8" height="0.8" fill="#5a6cc8" opacity="0.45"/>
<rect x="431.6" y="187.5" width="0.8" height="0.8" fill="#5a6cc8" opacity="0.45"/>
<rect x="437.4" y="189.6" width="0.8" height="0.8" fill="#5a6cc8" opacity="0.45"/>
<rect x="425.9" y="187.5" width="0.8" height="0.8" fill="#5a6cc8" opacity="0.45"/>
<rect x="435.0" y="190.3" width="0.8" height="0.8" fill="#5a6cc8" opacity="0.45"/>
<rect x="425.5" y="187.2" width="0.8" height="0.8" fill="#5a6cc8" opacity="0.45"/>
<rect x="418.3" y="190.5" width="0.8" height="0.8" fill="#5a6cc8" opacity="0.45"/>
<rect x="426.0" y="194.6" width="0.8" height="0.8" fill="#5a6cc8" opacity="0.45"/>
<rect x="420.5" y="188.9" width="0.8" height="0.8" fill="#5a6cc8" opacity="0.45"/>
<rect x="431.9" y="192.4" width="0.8" height="0.8" fill="#5a6cc8" opacity="0.45"/>
<rect x="421.9" y="194.4" width="0.8" height="0.8" fill="#5a6cc8" opacity="0.45"/>
<rect x="428.8" y="192.7" width="0.8" height="0.8" fill="#5a6cc8" opacity="0.45"/>
<rect x="428.0" y="192.9" width="0.8" height="0.8" fill="#5a6cc8" opacity="0.45"/>
<rect x="423.5" y="189.3" width="0.8" height="0.8" fill="#5a6cc8" opacity="0.45"/>
<rect x="432.5" y="191.2" width="0.8" height="0.8" fill="#5a6cc8" opacity="0.45"/>
<rect x="434.8" y="187.0" width="0.8" height="0.8" fill="#7888d0" opacity="0.45"/>
<rect x="434.1" y="184.4" width="0.8" height="0.8" fill="#7888d0" opacity="0.45"/>
<rect x="422.0" y="181.1" width="0.8" height="0.8" fill="#7888d0" opacity="0.45"/>
<rect x="437.1" y="179.9" width="0.8" height="0.8" fill="#7888d0" opacity="0.45"/>
<rect x="431.5" y="183.8" width="0.8" height="0.8" fill="#7888d0" opacity="0.45"/>
<rect x="432.3" y="186.0" width="0.8" height="0.8" fill="#7888d0" opacity="0.45"/>
<rect x="435.3" y="182.4" width="0.8" height="0.8" fill="#7888d0" opacity="0.45"/>
<rect x="438.4" y="181.7" width="0.8" height="0.8" fill="#7888d0" opacity="0.45"/>
<rect x="429.4" y="184.1" width="0.8" height="0.8" fill="#7888d0" opacity="0.45"/>
<rect x="436.1" y="182.5" width="0.8" height="0.8" fill="#7888d0" opacity="0.45"/>
<rect x="427.6" y="181.2" width="0.8" height="0.8" fill="#7888d0" opacity="0.45"/>
<rect x="434.1" y="185.4" width="0.8" height="0.8" fill="#7888d0" opacity="0.45"/>
<rect x="441.8" y="182.4" width="0.8" height="0.8" fill="#7888d0" opacity="0.45"/>
<rect x="431.9" y="175.5" width="0.8" height="0.8" fill="#7888d0" opacity="0.45"/>
<rect x="439.3" y="186.2" width="0.8" height="0.8" fill="#7888d0" opacity="0.45"/>
<rect x="433.0" y="180.5" width="0.8" height="0.8" fill="#7888d0" opacity="0.45"/>
<rect x="420.0" y="185.5" width="0.8" height="0.8" fill="#7888d0" opacity="0.45"/>
<rect x="429.1" y="188.3" width="0.8" height="0.8" fill="#7888d0" opacity="0.45"/>
<rect x="436.8" y="187.5" width="0.8" height="0.8" fill="#7888d0" opacity="0.45"/>
<rect x="432.3" y="187.1" width="0.8" height="0.8" fill="#7888d0" opacity="0.45"/>
<rect x="426.0" y="188.1" width="0.8" height="0.8" fill="#7888d0" opacity="0.45"/>
<rect x="432.8" y="178.9" width="0.8" height="0.8" fill="#7888d0" opacity="0.45"/>
<rect x="431.0" y="179.6" width="0.8" height="0.8" fill="#7888d0" opacity="0.45"/>
<rect x="434.3" y="180.5" width="0.8" height="0.8" fill="#7888d0" opacity="0.45"/>
<rect x="426.6" y="181.7" width="0.8" height="0.8" fill="#7888d0" opacity="0.45"/>
<rect x="431.8" y="183.7" width="0.8" height="0.8" fill="#7888d0" opacity="0.45"/>
<rect x="436.4" y="187.4" width="0.8" height="0.8" fill="#7888d0" opacity="0.45"/>
<rect x="435.0" y="188.7" width="0.8" height="0.8" fill="#7888d0" opacity="0.45"/>
<rect x="420.6" y="182.7" width="0.8" height="0.8" fill="#7888d0" opacity="0.45"/>
<rect x="437.6" y="178.4" width="0.8" height="0.8" fill="#7888d0" opacity="0.45"/>
<rect x="432.0" y="183.7" width="0.8" height="0.8" fill="#7888d0" opacity="0.45"/>
<rect x="425.2" y="181.0" width="0.8" height="0.8" fill="#7888d0" opacity="0.45"/>
<rect x="436.0" y="181.9" width="0.8" height="0.8" fill="#7888d0" opacity="0.45"/>
<rect x="440.6" y="191.2" width="0.8" height="0.8" fill="#7888d0" opacity="0.45"/>
<rect x="432.6" y="179.0" width="0.8" height="0.8" fill="#7888d0" opacity="0.45"/>
<rect x="432.8" y="181.0" width="0.8" height="0.8" fill="#7888d0" opacity="0.45"/>
<rect x="425.9" y="181.6" width="0.8" height="0.8" fill="#7888d0" opacity="0.45"/>
<rect x="430.6" y="181.7" width="0.8" height="0.8" fill="#7888d0" opacity="0.45"/>
<rect x="437.6" y="186.7" width="0.8" height="0.8" fill="#7888d0" opacity="0.45"/>
<rect x="435.0" y="181.7" width="0.8" height="0.8" fill="#7888d0" opacity="0.45"/>
<rect x="435.1" y="183.1" width="0.8" height="0.8" fill="#7888d0" opacity="0.45"/>
<rect x="434.1" y="179.6" width="0.8" height="0.8" fill="#7888d0" opacity="0.45"/>
<rect x="417.6" y="186.1" width="0.8" height="0.8" fill="#7888d0" opacity="0.45"/>
<rect x="430.0" y="181.2" width="0.8" height="0.8" fill="#7888d0" opacity="0.45"/>
<rect x="432.9" y="182.8" width="0.8" height="0.8" fill="#7888d0" opacity="0.45"/>
<rect x="431.5" y="188.3" width="0.8" height="0.8" fill="#7888d0" opacity="0.45"/>
<rect x="433.6" y="183.8" width="0.8" height="0.8" fill="#7888d0" opacity="0.45"/>
<rect x="428.6" y="182.6" width="0.8" height="0.8" fill="#7888d0" opacity="0.45"/>
<rect x="435.3" y="182.7" width="0.8" height="0.8" fill="#7888d0" opacity="0.45"/>
<rect x="434.6" y="179.7" width="0.8" height="0.8" fill="#7888d0" opacity="0.45"/>
<rect x="434.9" y="179.4" width="0.8" height="0.8" fill="#7888d0" opacity="0.45"/>
<rect x="430.8" y="180.3" width="0.8" height="0.8" fill="#7888d0" opacity="0.45"/>
<rect x="433.9" y="186.8" width="0.8" height="0.8" fill="#7888d0" opacity="0.45"/>
<rect x="434.4" y="179.9" width="0.8" height="0.8" fill="#7888d0" opacity="0.45"/>
<rect x="433.7" y="186.6" width="0.8" height="0.8" fill="#7888d0" opacity="0.45"/>
<rect x="436.6" y="184.7" width="0.8" height="0.8" fill="#7888d0" opacity="0.45"/>
<rect x="427.4" y="181.1" width="0.8" height="0.8" fill="#7888d0" opacity="0.45"/>
<rect x="429.6" y="181.3" width="0.8" height="0.8" fill="#7888d0" opacity="0.45"/>
<rect x="434.1" y="183.1" width="0.8" height="0.8" fill="#7888d0" opacity="0.45"/>
<rect x="431.2" y="185.0" width="0.8" height="0.8" fill="#7888d0" opacity="0.45"/>
<g transform="translate(416.5,195.5) rotate(-30)" filter="url(#bl05)"><ellipse cx="0" cy="0" rx="5" ry="2.3" fill="#4a62c8" opacity="0.9"/><ellipse cx="-0.75" cy="0" rx="3.5" ry="1.6099999999999999" fill="#30a890"/><ellipse cx="-1.5" cy="0" rx="2.1" ry="1.035" fill="#d8c428"/><ellipse cx="-2.0" cy="0" rx="1.0" ry="0.575" fill="#e05020"/></g>
<line x1="424.60" y1="166.70" x2="424.60" y2="207.10" stroke="#201a1a" stroke-width="1.35" />
<line x1="406.30" y1="189.40" x2="447.10" y2="189.40" stroke="#201a1a" stroke-width="1.35" />
<text transform="translate(415.45,172.60)" x="0" y="2.77" font-size="7.7" text-anchor="middle" fill="#222" >1.61</text>
<text transform="translate(435.85,172.60)" x="0" y="2.77" font-size="7.7" text-anchor="middle" fill="#222" >6.22</text>
<text transform="translate(415.45,201.50)" x="0" y="2.77" font-size="7.7" text-anchor="middle" fill="#222" >81.5</text>
<text transform="translate(435.85,201.50)" x="0" y="2.77" font-size="7.7" text-anchor="middle" fill="#222" >10.07</text>
<rect x="454.8" y="166.7" width="40.80000000000001" height="40.400000000000006" fill="#fff" stroke="#c8c8c8" stroke-width="0.6"/>
<line x1="452.60" y1="169.70" x2="454.20" y2="169.70" stroke="#aaa" stroke-width="0.6" />
<line x1="451.20" y1="168.50" x2="452.00" y2="167.90" stroke="#bbb" stroke-width="0.5" />
<line x1="452.60" y1="178.55" x2="454.20" y2="178.55" stroke="#aaa" stroke-width="0.6" />
<line x1="451.20" y1="177.35" x2="452.00" y2="176.75" stroke="#bbb" stroke-width="0.5" />
<line x1="452.60" y1="187.40" x2="454.20" y2="187.40" stroke="#aaa" stroke-width="0.6" />
<line x1="451.20" y1="186.20" x2="452.00" y2="185.60" stroke="#bbb" stroke-width="0.5" />
<line x1="452.60" y1="196.25" x2="454.20" y2="196.25" stroke="#aaa" stroke-width="0.6" />
<line x1="451.20" y1="195.05" x2="452.00" y2="194.45" stroke="#bbb" stroke-width="0.5" />
<line x1="452.60" y1="205.10" x2="454.20" y2="205.10" stroke="#aaa" stroke-width="0.6" />
<line x1="451.20" y1="203.90" x2="452.00" y2="203.30" stroke="#bbb" stroke-width="0.5" />
<line x1="457.80" y1="207.70" x2="457.80" y2="209.30" stroke="#aaa" stroke-width="0.6" />
<line x1="456.80" y1="210.70" x2="457.60" y2="209.90" stroke="#bbb" stroke-width="0.5" />
<line x1="466.75" y1="207.70" x2="466.75" y2="209.30" stroke="#aaa" stroke-width="0.6" />
<line x1="465.75" y1="210.70" x2="466.55" y2="209.90" stroke="#bbb" stroke-width="0.5" />
<line x1="475.70" y1="207.70" x2="475.70" y2="209.30" stroke="#aaa" stroke-width="0.6" />
<line x1="474.70" y1="210.70" x2="475.50" y2="209.90" stroke="#bbb" stroke-width="0.5" />
<line x1="484.65" y1="207.70" x2="484.65" y2="209.30" stroke="#aaa" stroke-width="0.6" />
<line x1="483.65" y1="210.70" x2="484.45" y2="209.90" stroke="#bbb" stroke-width="0.5" />
<line x1="493.60" y1="207.70" x2="493.60" y2="209.30" stroke="#aaa" stroke-width="0.6" />
<line x1="492.60" y1="210.70" x2="493.40" y2="209.90" stroke="#bbb" stroke-width="0.5" />
<rect x="469.7" y="188.8" width="0.8" height="0.8" fill="#5a6cc8" opacity="0.45"/>
<rect x="474.6" y="185.3" width="0.8" height="0.8" fill="#5a6cc8" opacity="0.45"/>
<rect x="468.9" y="185.1" width="0.8" height="0.8" fill="#5a6cc8" opacity="0.45"/>
<rect x="467.7" y="189.5" width="0.8" height="0.8" fill="#5a6cc8" opacity="0.45"/>
<rect x="473.2" y="191.2" width="0.8" height="0.8" fill="#5a6cc8" opacity="0.45"/>
<rect x="475.9" y="186.0" width="0.8" height="0.8" fill="#5a6cc8" opacity="0.45"/>
<rect x="485.1" y="194.7" width="0.8" height="0.8" fill="#5a6cc8" opacity="0.45"/>
<rect x="466.7" y="187.6" width="0.8" height="0.8" fill="#5a6cc8" opacity="0.45"/>
<rect x="471.1" y="190.7" width="0.8" height="0.8" fill="#5a6cc8" opacity="0.45"/>
<rect x="477.6" y="190.0" width="0.8" height="0.8" fill="#5a6cc8" opacity="0.45"/>
<rect x="458.7" y="200.0" width="0.8" height="0.8" fill="#5a6cc8" opacity="0.45"/>
<rect x="479.1" y="192.9" width="0.8" height="0.8" fill="#5a6cc8" opacity="0.45"/>
<rect x="469.5" y="190.3" width="0.8" height="0.8" fill="#5a6cc8" opacity="0.45"/>
<rect x="479.5" y="188.3" width="0.8" height="0.8" fill="#5a6cc8" opacity="0.45"/>
<rect x="480.8" y="190.3" width="0.8" height="0.8" fill="#5a6cc8" opacity="0.45"/>
<rect x="483.4" y="190.2" width="0.8" height="0.8" fill="#5a6cc8" opacity="0.45"/>
<rect x="482.9" y="184.4" width="0.8" height="0.8" fill="#5a6cc8" opacity="0.45"/>
<rect x="482.6" y="191.6" width="0.8" height="0.8" fill="#5a6cc8" opacity="0.45"/>
<rect x="471.7" y="193.7" width="0.8" height="0.8" fill="#5a6cc8" opacity="0.45"/>
<rect x="472.4" y="192.8" width="0.8" height="0.8" fill="#5a6cc8" opacity="0.45"/>
<rect x="479.7" y="193.6" width="0.8" height="0.8" fill="#5a6cc8" opacity="0.45"/>
<rect x="487.1" y="194.8" width="0.8" height="0.8" fill="#5a6cc8" opacity="0.45"/>
<rect x="488.9" y="192.5" width="0.8" height="0.8" fill="#5a6cc8" opacity="0.45"/>
<rect x="474.9" y="191.4" width="0.8" height="0.8" fill="#5a6cc8" opacity="0.45"/>
<rect x="473.8" y="185.7" width="0.8" height="0.8" fill="#5a6cc8" opacity="0.45"/>
<rect x="474.8" y="185.9" width="0.8" height="0.8" fill="#5a6cc8" opacity="0.45"/>
<rect x="472.3" y="188.9" width="0.8" height="0.8" fill="#5a6cc8" opacity="0.45"/>
<rect x="470.7" y="186.3" width="0.8" height="0.8" fill="#5a6cc8" opacity="0.45"/>
<rect x="474.7" y="189.9" width="0.8" height="0.8" fill="#5a6cc8" opacity="0.45"/>
<rect x="482.2" y="192.2" width="0.8" height="0.8" fill="#5a6cc8" opacity="0.45"/>
<rect x="479.6" y="188.4" width="0.8" height="0.8" fill="#5a6cc8" opacity="0.45"/>
<rect x="472.1" y="185.6" width="0.8" height="0.8" fill="#5a6cc8" opacity="0.45"/>
<rect x="468.8" y="192.5" width="0.8" height="0.8" fill="#5a6cc8" opacity="0.45"/>
<rect x="472.8" y="189.5" width="0.8" height="0.8" fill="#5a6cc8" opacity="0.45"/>
<rect x="470.6" y="195.4" width="0.8" height="0.8" fill="#5a6cc8" opacity="0.45"/>
<rect x="473.7" y="194.0" width="0.8" height="0.8" fill="#5a6cc8" opacity="0.45"/>
<rect x="473.8" y="193.3" width="0.8" height="0.8" fill="#5a6cc8" opacity="0.45"/>
<rect x="468.2" y="185.3" width="0.8" height="0.8" fill="#5a6cc8" opacity="0.45"/>
<rect x="480.6" y="188.9" width="0.8" height="0.8" fill="#5a6cc8" opacity="0.45"/>
<rect x="475.6" y="193.0" width="0.8" height="0.8" fill="#5a6cc8" opacity="0.45"/>
<rect x="478.1" y="190.9" width="0.8" height="0.8" fill="#5a6cc8" opacity="0.45"/>
<rect x="466.9" y="187.6" width="0.8" height="0.8" fill="#5a6cc8" opacity="0.45"/>
<rect x="474.2" y="192.2" width="0.8" height="0.8" fill="#5a6cc8" opacity="0.45"/>
<rect x="477.1" y="191.3" width="0.8" height="0.8" fill="#5a6cc8" opacity="0.45"/>
<rect x="469.4" y="190.0" width="0.8" height="0.8" fill="#5a6cc8" opacity="0.45"/>
<rect x="479.8" y="187.0" width="0.8" height="0.8" fill="#5a6cc8" opacity="0.45"/>
<rect x="470.6" y="193.1" width="0.8" height="0.8" fill="#5a6cc8" opacity="0.45"/>
<rect x="483.4" y="191.4" width="0.8" height="0.8" fill="#5a6cc8" opacity="0.45"/>
<rect x="474.0" y="186.7" width="0.8" height="0.8" fill="#5a6cc8" opacity="0.45"/>
<rect x="473.3" y="187.2" width="0.8" height="0.8" fill="#5a6cc8" opacity="0.45"/>
<rect x="474.8" y="192.5" width="0.8" height="0.8" fill="#5a6cc8" opacity="0.45"/>
<rect x="476.7" y="194.5" width="0.8" height="0.8" fill="#5a6cc8" opacity="0.45"/>
<rect x="467.9" y="185.6" width="0.8" height="0.8" fill="#5a6cc8" opacity="0.45"/>
<rect x="482.1" y="193.6" width="0.8" height="0.8" fill="#5a6cc8" opacity="0.45"/>
<rect x="468.2" y="190.5" width="0.8" height="0.8" fill="#5a6cc8" opacity="0.45"/>
<rect x="467.6" y="189.9" width="0.8" height="0.8" fill="#5a6cc8" opacity="0.45"/>
<rect x="475.9" y="193.3" width="0.8" height="0.8" fill="#5a6cc8" opacity="0.45"/>
<rect x="468.2" y="185.6" width="0.8" height="0.8" fill="#5a6cc8" opacity="0.45"/>
<rect x="477.4" y="188.8" width="0.8" height="0.8" fill="#5a6cc8" opacity="0.45"/>
<rect x="482.3" y="186.0" width="0.8" height="0.8" fill="#5a6cc8" opacity="0.45"/>
<rect x="470.1" y="180.5" width="0.8" height="0.8" fill="#5a6cc8" opacity="0.45"/>
<rect x="480.7" y="194.6" width="0.8" height="0.8" fill="#5a6cc8" opacity="0.45"/>
<rect x="476.5" y="188.9" width="0.8" height="0.8" fill="#5a6cc8" opacity="0.45"/>
<rect x="462.0" y="185.2" width="0.8" height="0.8" fill="#5a6cc8" opacity="0.45"/>
<rect x="470.9" y="196.6" width="0.8" height="0.8" fill="#5a6cc8" opacity="0.45"/>
<rect x="479.3" y="187.9" width="0.8" height="0.8" fill="#5a6cc8" opacity="0.45"/>
<rect x="476.6" y="191.9" width="0.8" height="0.8" fill="#5a6cc8" opacity="0.45"/>
<rect x="477.0" y="186.8" width="0.8" height="0.8" fill="#5a6cc8" opacity="0.45"/>
<rect x="471.4" y="193.5" width="0.8" height="0.8" fill="#5a6cc8" opacity="0.45"/>
<rect x="478.1" y="188.8" width="0.8" height="0.8" fill="#5a6cc8" opacity="0.45"/>
<rect x="488.6" y="191.0" width="0.8" height="0.8" fill="#5a6cc8" opacity="0.45"/>
<rect x="471.6" y="193.2" width="0.8" height="0.8" fill="#5a6cc8" opacity="0.45"/>
<rect x="478.8" y="189.6" width="0.8" height="0.8" fill="#5a6cc8" opacity="0.45"/>
<rect x="484.8" y="193.8" width="0.8" height="0.8" fill="#5a6cc8" opacity="0.45"/>
<rect x="474.2" y="192.5" width="0.8" height="0.8" fill="#5a6cc8" opacity="0.45"/>
<rect x="478.0" y="189.0" width="0.8" height="0.8" fill="#5a6cc8" opacity="0.45"/>
<rect x="478.4" y="188.2" width="0.8" height="0.8" fill="#5a6cc8" opacity="0.45"/>
<rect x="472.6" y="192.3" width="0.8" height="0.8" fill="#5a6cc8" opacity="0.45"/>
<rect x="466.6" y="188.8" width="0.8" height="0.8" fill="#5a6cc8" opacity="0.45"/>
<rect x="468.3" y="192.5" width="0.8" height="0.8" fill="#5a6cc8" opacity="0.45"/>
<rect x="470.6" y="196.4" width="0.8" height="0.8" fill="#5a6cc8" opacity="0.45"/>
<rect x="483.2" y="187.6" width="0.8" height="0.8" fill="#5a6cc8" opacity="0.45"/>
<rect x="475.0" y="188.8" width="0.8" height="0.8" fill="#5a6cc8" opacity="0.45"/>
<rect x="474.0" y="192.4" width="0.8" height="0.8" fill="#5a6cc8" opacity="0.45"/>
<rect x="482.9" y="197.6" width="0.8" height="0.8" fill="#5a6cc8" opacity="0.45"/>
<rect x="485.0" y="185.7" width="0.8" height="0.8" fill="#5a6cc8" opacity="0.45"/>
<rect x="471.2" y="189.4" width="0.8" height="0.8" fill="#5a6cc8" opacity="0.45"/>
<rect x="472.2" y="190.5" width="0.8" height="0.8" fill="#5a6cc8" opacity="0.45"/>
<rect x="477.9" y="188.4" width="0.8" height="0.8" fill="#5a6cc8" opacity="0.45"/>
<rect x="470.6" y="198.2" width="0.8" height="0.8" fill="#5a6cc8" opacity="0.45"/>
<rect x="478.2" y="197.5" width="0.8" height="0.8" fill="#5a6cc8" opacity="0.45"/>
<rect x="470.7" y="194.8" width="0.8" height="0.8" fill="#5a6cc8" opacity="0.45"/>
<rect x="484.1" y="194.7" width="0.8" height="0.8" fill="#5a6cc8" opacity="0.45"/>
<rect x="469.6" y="191.9" width="0.8" height="0.8" fill="#5a6cc8" opacity="0.45"/>
<rect x="469.4" y="186.1" width="0.8" height="0.8" fill="#5a6cc8" opacity="0.45"/>
<rect x="474.0" y="191.8" width="0.8" height="0.8" fill="#5a6cc8" opacity="0.45"/>
<rect x="472.8" y="189.6" width="0.8" height="0.8" fill="#5a6cc8" opacity="0.45"/>
<rect x="477.8" y="187.7" width="0.8" height="0.8" fill="#5a6cc8" opacity="0.45"/>
<rect x="476.6" y="192.7" width="0.8" height="0.8" fill="#5a6cc8" opacity="0.45"/>
<rect x="478.0" y="192.0" width="0.8" height="0.8" fill="#5a6cc8" opacity="0.45"/>
<rect x="468.1" y="189.0" width="0.8" height="0.8" fill="#5a6cc8" opacity="0.45"/>
<rect x="471.5" y="192.5" width="0.8" height="0.8" fill="#5a6cc8" opacity="0.45"/>
<rect x="463.6" y="190.5" width="0.8" height="0.8" fill="#5a6cc8" opacity="0.45"/>
<rect x="464.5" y="192.3" width="0.8" height="0.8" fill="#5a6cc8" opacity="0.45"/>
<rect x="471.0" y="190.2" width="0.8" height="0.8" fill="#5a6cc8" opacity="0.45"/>
<rect x="479.6" y="196.0" width="0.8" height="0.8" fill="#5a6cc8" opacity="0.45"/>
<rect x="468.2" y="190.4" width="0.8" height="0.8" fill="#5a6cc8" opacity="0.45"/>
<rect x="462.4" y="189.3" width="0.8" height="0.8" fill="#5a6cc8" opacity="0.45"/>
<rect x="470.0" y="192.3" width="0.8" height="0.8" fill="#5a6cc8" opacity="0.45"/>
<rect x="473.4" y="190.4" width="0.8" height="0.8" fill="#5a6cc8" opacity="0.45"/>
<rect x="467.4" y="188.9" width="0.8" height="0.8" fill="#5a6cc8" opacity="0.45"/>
<rect x="467.4" y="190.1" width="0.8" height="0.8" fill="#5a6cc8" opacity="0.45"/>
<rect x="464.6" y="191.0" width="0.8" height="0.8" fill="#5a6cc8" opacity="0.45"/>
<rect x="480.6" y="199.1" width="0.8" height="0.8" fill="#5a6cc8" opacity="0.45"/>
<rect x="483.0" y="194.6" width="0.8" height="0.8" fill="#5a6cc8" opacity="0.45"/>
<rect x="478.8" y="195.6" width="0.8" height="0.8" fill="#5a6cc8" opacity="0.45"/>
<rect x="473.8" y="191.4" width="0.8" height="0.8" fill="#5a6cc8" opacity="0.45"/>
<rect x="462.9" y="188.3" width="0.8" height="0.8" fill="#5a6cc8" opacity="0.45"/>
<rect x="480.9" y="184.1" width="0.8" height="0.8" fill="#5a6cc8" opacity="0.45"/>
<rect x="476.0" y="189.9" width="0.8" height="0.8" fill="#5a6cc8" opacity="0.45"/>
<rect x="471.9" y="191.1" width="0.8" height="0.8" fill="#5a6cc8" opacity="0.45"/>
<rect x="474.2" y="186.2" width="0.8" height="0.8" fill="#5a6cc8" opacity="0.45"/>
<rect x="473.6" y="183.8" width="0.8" height="0.8" fill="#5a6cc8" opacity="0.45"/>
<rect x="483.0" y="190.0" width="0.8" height="0.8" fill="#5a6cc8" opacity="0.45"/>
<rect x="479.4" y="186.9" width="0.8" height="0.8" fill="#5a6cc8" opacity="0.45"/>
<rect x="485.0" y="193.6" width="0.8" height="0.8" fill="#5a6cc8" opacity="0.45"/>
<rect x="476.1" y="190.8" width="0.8" height="0.8" fill="#5a6cc8" opacity="0.45"/>
<rect x="476.4" y="187.5" width="0.8" height="0.8" fill="#5a6cc8" opacity="0.45"/>
<rect x="473.2" y="189.3" width="0.8" height="0.8" fill="#5a6cc8" opacity="0.45"/>
<rect x="476.3" y="195.4" width="0.8" height="0.8" fill="#5a6cc8" opacity="0.45"/>
<rect x="481.0" y="191.0" width="0.8" height="0.8" fill="#5a6cc8" opacity="0.45"/>
<rect x="477.9" y="189.1" width="0.8" height="0.8" fill="#5a6cc8" opacity="0.45"/>
<rect x="471.2" y="184.5" width="0.8" height="0.8" fill="#5a6cc8" opacity="0.45"/>
<rect x="466.5" y="185.9" width="0.8" height="0.8" fill="#5a6cc8" opacity="0.45"/>
<rect x="473.7" y="189.4" width="0.8" height="0.8" fill="#5a6cc8" opacity="0.45"/>
<rect x="476.7" y="194.1" width="0.8" height="0.8" fill="#5a6cc8" opacity="0.45"/>
<rect x="478.1" y="189.5" width="0.8" height="0.8" fill="#5a6cc8" opacity="0.45"/>
<rect x="471.3" y="189.0" width="0.8" height="0.8" fill="#5a6cc8" opacity="0.45"/>
<rect x="477.7" y="186.9" width="0.8" height="0.8" fill="#5a6cc8" opacity="0.45"/>
<rect x="465.2" y="189.3" width="0.8" height="0.8" fill="#5a6cc8" opacity="0.45"/>
<rect x="480.3" y="194.3" width="0.8" height="0.8" fill="#5a6cc8" opacity="0.45"/>
<rect x="477.7" y="183.4" width="0.8" height="0.8" fill="#5a6cc8" opacity="0.45"/>
<rect x="473.1" y="192.5" width="0.8" height="0.8" fill="#5a6cc8" opacity="0.45"/>
<rect x="480.5" y="196.5" width="0.8" height="0.8" fill="#5a6cc8" opacity="0.45"/>
<rect x="468.5" y="191.3" width="0.8" height="0.8" fill="#5a6cc8" opacity="0.45"/>
<rect x="464.8" y="189.3" width="0.8" height="0.8" fill="#5a6cc8" opacity="0.45"/>
<rect x="471.7" y="192.9" width="0.8" height="0.8" fill="#5a6cc8" opacity="0.45"/>
<rect x="475.1" y="184.0" width="0.8" height="0.8" fill="#5a6cc8" opacity="0.45"/>
<rect x="473.3" y="191.3" width="0.8" height="0.8" fill="#5a6cc8" opacity="0.45"/>
<rect x="482.7" y="187.5" width="0.8" height="0.8" fill="#5a6cc8" opacity="0.45"/>
<rect x="468.9" y="188.0" width="0.8" height="0.8" fill="#5a6cc8" opacity="0.45"/>
<rect x="480.2" y="189.0" width="0.8" height="0.8" fill="#5a6cc8" opacity="0.45"/>
<rect x="474.6" y="191.6" width="0.8" height="0.8" fill="#5a6cc8" opacity="0.45"/>
<rect x="469.2" y="193.8" width="0.8" height="0.8" fill="#5a6cc8" opacity="0.45"/>
<rect x="464.4" y="196.4" width="0.8" height="0.8" fill="#5a6cc8" opacity="0.45"/>
<rect x="470.1" y="186.9" width="0.8" height="0.8" fill="#5a6cc8" opacity="0.45"/>
<rect x="469.7" y="186.0" width="0.8" height="0.8" fill="#5a6cc8" opacity="0.45"/>
<rect x="468.8" y="187.2" width="0.8" height="0.8" fill="#5a6cc8" opacity="0.45"/>
<rect x="467.1" y="189.4" width="0.8" height="0.8" fill="#5a6cc8" opacity="0.45"/>
<rect x="475.9" y="188.0" width="0.8" height="0.8" fill="#5a6cc8" opacity="0.45"/>
<rect x="475.1" y="187.1" width="0.8" height="0.8" fill="#5a6cc8" opacity="0.45"/>
<rect x="475.4" y="188.9" width="0.8" height="0.8" fill="#5a6cc8" opacity="0.45"/>
<rect x="467.5" y="190.4" width="0.8" height="0.8" fill="#5a6cc8" opacity="0.45"/>
<rect x="473.0" y="187.7" width="0.8" height="0.8" fill="#5a6cc8" opacity="0.45"/>
<rect x="473.7" y="191.9" width="0.8" height="0.8" fill="#5a6cc8" opacity="0.45"/>
<rect x="466.7" y="188.3" width="0.8" height="0.8" fill="#5a6cc8" opacity="0.45"/>
<rect x="477.8" y="190.0" width="0.8" height="0.8" fill="#5a6cc8" opacity="0.45"/>
<rect x="478.7" y="198.4" width="0.8" height="0.8" fill="#5a6cc8" opacity="0.45"/>
<rect x="466.6" y="191.3" width="0.8" height="0.8" fill="#5a6cc8" opacity="0.45"/>
<rect x="471.8" y="195.0" width="0.8" height="0.8" fill="#5a6cc8" opacity="0.45"/>
<rect x="477.4" y="185.2" width="0.8" height="0.8" fill="#5a6cc8" opacity="0.45"/>
<rect x="480.5" y="190.0" width="0.8" height="0.8" fill="#5a6cc8" opacity="0.45"/>
<rect x="472.2" y="190.1" width="0.8" height="0.8" fill="#5a6cc8" opacity="0.45"/>
<rect x="475.3" y="187.0" width="0.8" height="0.8" fill="#5a6cc8" opacity="0.45"/>
<rect x="471.7" y="194.7" width="0.8" height="0.8" fill="#5a6cc8" opacity="0.45"/>
<rect x="467.9" y="187.9" width="0.8" height="0.8" fill="#5a6cc8" opacity="0.45"/>
<rect x="478.6" y="186.7" width="0.8" height="0.8" fill="#5a6cc8" opacity="0.45"/>
<rect x="472.8" y="191.1" width="0.8" height="0.8" fill="#5a6cc8" opacity="0.45"/>
<rect x="468.6" y="188.9" width="0.8" height="0.8" fill="#5a6cc8" opacity="0.45"/>
<rect x="468.6" y="189.3" width="0.8" height="0.8" fill="#5a6cc8" opacity="0.45"/>
<rect x="475.7" y="190.0" width="0.8" height="0.8" fill="#5a6cc8" opacity="0.45"/>
<rect x="475.5" y="191.3" width="0.8" height="0.8" fill="#5a6cc8" opacity="0.45"/>
<rect x="478.7" y="186.3" width="0.8" height="0.8" fill="#5a6cc8" opacity="0.45"/>
<rect x="474.7" y="195.5" width="0.8" height="0.8" fill="#5a6cc8" opacity="0.45"/>
<rect x="472.6" y="189.1" width="0.8" height="0.8" fill="#5a6cc8" opacity="0.45"/>
<rect x="474.0" y="187.5" width="0.8" height="0.8" fill="#5a6cc8" opacity="0.45"/>
<rect x="477.3" y="190.0" width="0.8" height="0.8" fill="#5a6cc8" opacity="0.45"/>
<rect x="473.0" y="192.6" width="0.8" height="0.8" fill="#5a6cc8" opacity="0.45"/>
<rect x="481.2" y="185.1" width="0.8" height="0.8" fill="#5a6cc8" opacity="0.45"/>
<rect x="471.0" y="189.0" width="0.8" height="0.8" fill="#5a6cc8" opacity="0.45"/>
<rect x="465.6" y="192.4" width="0.8" height="0.8" fill="#5a6cc8" opacity="0.45"/>
<rect x="486.6" y="192.8" width="0.8" height="0.8" fill="#5a6cc8" opacity="0.45"/>
<rect x="481.5" y="183.2" width="0.8" height="0.8" fill="#5a6cc8" opacity="0.45"/>
<rect x="471.4" y="185.4" width="0.8" height="0.8" fill="#5a6cc8" opacity="0.45"/>
<rect x="478.7" y="189.6" width="0.8" height="0.8" fill="#5a6cc8" opacity="0.45"/>
<rect x="472.9" y="191.7" width="0.8" height="0.8" fill="#5a6cc8" opacity="0.45"/>
<rect x="478.5" y="195.7" width="0.8" height="0.8" fill="#5a6cc8" opacity="0.45"/>
<rect x="482.2" y="193.3" width="0.8" height="0.8" fill="#5a6cc8" opacity="0.45"/>
<rect x="464.2" y="194.4" width="0.8" height="0.8" fill="#5a6cc8" opacity="0.45"/>
<rect x="474.6" y="184.7" width="0.8" height="0.8" fill="#5a6cc8" opacity="0.45"/>
<rect x="475.0" y="189.1" width="0.8" height="0.8" fill="#5a6cc8" opacity="0.45"/>
<rect x="473.4" y="193.3" width="0.8" height="0.8" fill="#5a6cc8" opacity="0.45"/>
<rect x="465.9" y="192.2" width="0.8" height="0.8" fill="#5a6cc8" opacity="0.45"/>
<rect x="481.1" y="186.0" width="0.8" height="0.8" fill="#5a6cc8" opacity="0.45"/>
<rect x="482.3" y="187.7" width="0.8" height="0.8" fill="#5a6cc8" opacity="0.45"/>
<rect x="469.6" y="193.3" width="0.8" height="0.8" fill="#5a6cc8" opacity="0.45"/>
<rect x="473.9" y="183.6" width="0.8" height="0.8" fill="#5a6cc8" opacity="0.45"/>
<rect x="470.2" y="192.4" width="0.8" height="0.8" fill="#5a6cc8" opacity="0.45"/>
<rect x="470.8" y="188.3" width="0.8" height="0.8" fill="#5a6cc8" opacity="0.45"/>
<rect x="474.1" y="190.0" width="0.8" height="0.8" fill="#5a6cc8" opacity="0.45"/>
<rect x="469.9" y="186.8" width="0.8" height="0.8" fill="#5a6cc8" opacity="0.45"/>
<rect x="476.6" y="194.3" width="0.8" height="0.8" fill="#5a6cc8" opacity="0.45"/>
<rect x="458.9" y="191.4" width="0.8" height="0.8" fill="#5a6cc8" opacity="0.45"/>
<rect x="480.0" y="186.9" width="0.8" height="0.8" fill="#5a6cc8" opacity="0.45"/>
<rect x="482.6" y="184.8" width="0.8" height="0.8" fill="#5a6cc8" opacity="0.45"/>
<rect x="479.7" y="195.7" width="0.8" height="0.8" fill="#5a6cc8" opacity="0.45"/>
<rect x="483.2" y="180.7" width="0.8" height="0.8" fill="#5a6cc8" opacity="0.45"/>
<rect x="474.4" y="186.5" width="0.8" height="0.8" fill="#5a6cc8" opacity="0.45"/>
<rect x="476.4" y="194.9" width="0.8" height="0.8" fill="#5a6cc8" opacity="0.45"/>
<rect x="476.5" y="195.7" width="0.8" height="0.8" fill="#5a6cc8" opacity="0.45"/>
<rect x="472.0" y="178.6" width="0.8" height="0.8" fill="#7080c8" opacity="0.45"/>
<rect x="478.8" y="184.7" width="0.8" height="0.8" fill="#7080c8" opacity="0.45"/>
<rect x="489.3" y="178.7" width="0.8" height="0.8" fill="#7080c8" opacity="0.45"/>
<rect x="476.4" y="185.6" width="0.8" height="0.8" fill="#7080c8" opacity="0.45"/>
<rect x="474.1" y="184.3" width="0.8" height="0.8" fill="#7080c8" opacity="0.45"/>
<rect x="477.1" y="181.7" width="0.8" height="0.8" fill="#7080c8" opacity="0.45"/>
<rect x="494.4" y="180.9" width="0.8" height="0.8" fill="#7080c8" opacity="0.45"/>
<rect x="482.3" y="178.8" width="0.8" height="0.8" fill="#7080c8" opacity="0.45"/>
<rect x="485.3" y="188.1" width="0.8" height="0.8" fill="#7080c8" opacity="0.45"/>
<rect x="485.8" y="176.8" width="0.8" height="0.8" fill="#7080c8" opacity="0.45"/>
<rect x="484.2" y="188.2" width="0.8" height="0.8" fill="#7080c8" opacity="0.45"/>
<rect x="476.3" y="181.4" width="0.8" height="0.8" fill="#7080c8" opacity="0.45"/>
<rect x="476.4" y="179.7" width="0.8" height="0.8" fill="#7080c8" opacity="0.45"/>
<rect x="476.1" y="176.6" width="0.8" height="0.8" fill="#7080c8" opacity="0.45"/>
<rect x="484.9" y="181.8" width="0.8" height="0.8" fill="#7080c8" opacity="0.45"/>
<rect x="469.0" y="177.8" width="0.8" height="0.8" fill="#7080c8" opacity="0.45"/>
<rect x="477.6" y="177.6" width="0.8" height="0.8" fill="#7080c8" opacity="0.45"/>
<rect x="482.9" y="181.2" width="0.8" height="0.8" fill="#7080c8" opacity="0.45"/>
<rect x="484.2" y="176.6" width="0.8" height="0.8" fill="#7080c8" opacity="0.45"/>
<rect x="477.5" y="180.3" width="0.8" height="0.8" fill="#7080c8" opacity="0.45"/>
<rect x="479.7" y="180.6" width="0.8" height="0.8" fill="#7080c8" opacity="0.45"/>
<rect x="477.4" y="181.5" width="0.8" height="0.8" fill="#7080c8" opacity="0.45"/>
<rect x="491.9" y="179.0" width="0.8" height="0.8" fill="#7080c8" opacity="0.45"/>
<rect x="472.1" y="183.1" width="0.8" height="0.8" fill="#7080c8" opacity="0.45"/>
<rect x="476.5" y="185.2" width="0.8" height="0.8" fill="#7080c8" opacity="0.45"/>
<rect x="488.3" y="188.7" width="0.8" height="0.8" fill="#7080c8" opacity="0.45"/>
<rect x="482.9" y="175.3" width="0.8" height="0.8" fill="#7080c8" opacity="0.45"/>
<rect x="491.6" y="185.7" width="0.8" height="0.8" fill="#7080c8" opacity="0.45"/>
<rect x="489.7" y="182.4" width="0.8" height="0.8" fill="#7080c8" opacity="0.45"/>
<rect x="479.9" y="182.1" width="0.8" height="0.8" fill="#7080c8" opacity="0.45"/>
<rect x="471.0" y="185.9" width="0.8" height="0.8" fill="#7080c8" opacity="0.45"/>
<rect x="478.3" y="179.6" width="0.8" height="0.8" fill="#7080c8" opacity="0.45"/>
<rect x="484.2" y="178.6" width="0.8" height="0.8" fill="#7080c8" opacity="0.45"/>
<rect x="486.8" y="179.6" width="0.8" height="0.8" fill="#7080c8" opacity="0.45"/>
<rect x="486.1" y="183.3" width="0.8" height="0.8" fill="#7080c8" opacity="0.45"/>
<rect x="482.4" y="180.0" width="0.8" height="0.8" fill="#7080c8" opacity="0.45"/>
<rect x="470.6" y="179.8" width="0.8" height="0.8" fill="#7080c8" opacity="0.45"/>
<rect x="477.3" y="180.0" width="0.8" height="0.8" fill="#7080c8" opacity="0.45"/>
<rect x="482.6" y="174.5" width="0.8" height="0.8" fill="#7080c8" opacity="0.45"/>
<rect x="474.6" y="179.3" width="0.8" height="0.8" fill="#7080c8" opacity="0.45"/>
<rect x="479.3" y="185.7" width="0.8" height="0.8" fill="#7080c8" opacity="0.45"/>
<rect x="486.0" y="182.0" width="0.8" height="0.8" fill="#7080c8" opacity="0.45"/>
<rect x="483.6" y="189.0" width="0.8" height="0.8" fill="#7080c8" opacity="0.45"/>
<rect x="483.1" y="184.3" width="0.8" height="0.8" fill="#7080c8" opacity="0.45"/>
<rect x="482.4" y="179.6" width="0.8" height="0.8" fill="#7080c8" opacity="0.45"/>
<rect x="488.5" y="181.4" width="0.8" height="0.8" fill="#7080c8" opacity="0.45"/>
<rect x="490.9" y="177.6" width="0.8" height="0.8" fill="#7080c8" opacity="0.45"/>
<rect x="484.8" y="188.8" width="0.8" height="0.8" fill="#7080c8" opacity="0.45"/>
<rect x="478.3" y="183.4" width="0.8" height="0.8" fill="#7080c8" opacity="0.45"/>
<rect x="491.0" y="183.8" width="0.8" height="0.8" fill="#7080c8" opacity="0.45"/>
<rect x="477.3" y="180.7" width="0.8" height="0.8" fill="#7080c8" opacity="0.45"/>
<rect x="484.0" y="179.7" width="0.8" height="0.8" fill="#7080c8" opacity="0.45"/>
<rect x="479.6" y="182.6" width="0.8" height="0.8" fill="#7080c8" opacity="0.45"/>
<rect x="474.6" y="188.7" width="0.8" height="0.8" fill="#7080c8" opacity="0.45"/>
<rect x="478.5" y="182.0" width="0.8" height="0.8" fill="#7080c8" opacity="0.45"/>
<rect x="482.7" y="187.7" width="0.8" height="0.8" fill="#7080c8" opacity="0.45"/>
<rect x="479.8" y="190.2" width="0.8" height="0.8" fill="#7080c8" opacity="0.45"/>
<rect x="493.2" y="185.0" width="0.8" height="0.8" fill="#7080c8" opacity="0.45"/>
<rect x="474.0" y="176.8" width="0.8" height="0.8" fill="#7080c8" opacity="0.45"/>
<rect x="480.6" y="183.2" width="0.8" height="0.8" fill="#7080c8" opacity="0.45"/>
<rect x="486.0" y="187.0" width="0.8" height="0.8" fill="#7080c8" opacity="0.45"/>
<rect x="484.9" y="182.3" width="0.8" height="0.8" fill="#7080c8" opacity="0.45"/>
<rect x="484.5" y="174.0" width="0.8" height="0.8" fill="#7080c8" opacity="0.45"/>
<rect x="489.1" y="176.0" width="0.8" height="0.8" fill="#7080c8" opacity="0.45"/>
<rect x="470.5" y="179.2" width="0.8" height="0.8" fill="#7080c8" opacity="0.45"/>
<rect x="479.5" y="177.2" width="0.8" height="0.8" fill="#7080c8" opacity="0.45"/>
<rect x="480.8" y="182.4" width="0.8" height="0.8" fill="#7080c8" opacity="0.45"/>
<rect x="485.8" y="183.6" width="0.8" height="0.8" fill="#7080c8" opacity="0.45"/>
<rect x="479.0" y="182.5" width="0.8" height="0.8" fill="#7080c8" opacity="0.45"/>
<rect x="489.7" y="181.0" width="0.8" height="0.8" fill="#7080c8" opacity="0.45"/>
<rect x="481.2" y="173.6" width="0.8" height="0.8" fill="#7080c8" opacity="0.45"/>
<rect x="483.9" y="190.2" width="0.8" height="0.8" fill="#7080c8" opacity="0.45"/>
<rect x="486.6" y="181.2" width="0.8" height="0.8" fill="#7080c8" opacity="0.45"/>
<rect x="489.6" y="187.1" width="0.8" height="0.8" fill="#7080c8" opacity="0.45"/>
<rect x="490.3" y="177.4" width="0.8" height="0.8" fill="#7080c8" opacity="0.45"/>
<rect x="475.2" y="185.0" width="0.8" height="0.8" fill="#7080c8" opacity="0.45"/>
<rect x="485.3" y="183.9" width="0.8" height="0.8" fill="#7080c8" opacity="0.45"/>
<rect x="473.3" y="185.2" width="0.8" height="0.8" fill="#7080c8" opacity="0.45"/>
<rect x="493.7" y="186.9" width="0.8" height="0.8" fill="#7080c8" opacity="0.45"/>
<rect x="482.9" y="189.4" width="0.8" height="0.8" fill="#7080c8" opacity="0.45"/>
<rect x="488.2" y="173.0" width="0.8" height="0.8" fill="#7080c8" opacity="0.45"/>
<rect x="472.9" y="183.2" width="0.8" height="0.8" fill="#7080c8" opacity="0.45"/>
<rect x="479.0" y="189.3" width="0.8" height="0.8" fill="#7080c8" opacity="0.45"/>
<rect x="491.6" y="187.2" width="0.8" height="0.8" fill="#7080c8" opacity="0.45"/>
<rect x="480.2" y="181.2" width="0.8" height="0.8" fill="#7080c8" opacity="0.45"/>
<rect x="486.9" y="180.7" width="0.8" height="0.8" fill="#7080c8" opacity="0.45"/>
<rect x="486.2" y="183.3" width="0.8" height="0.8" fill="#7080c8" opacity="0.45"/>
<rect x="486.8" y="182.6" width="0.8" height="0.8" fill="#7080c8" opacity="0.45"/>
<rect x="477.5" y="170.4" width="0.8" height="0.8" fill="#7080c8" opacity="0.45"/>
<rect x="474.0" y="176.2" width="0.8" height="0.8" fill="#7080c8" opacity="0.45"/>
<rect x="486.2" y="176.3" width="0.8" height="0.8" fill="#7080c8" opacity="0.45"/>
<rect x="478.6" y="184.0" width="0.8" height="0.8" fill="#7080c8" opacity="0.45"/>
<rect x="486.2" y="186.2" width="0.8" height="0.8" fill="#7080c8" opacity="0.45"/>
<rect x="484.8" y="188.3" width="0.8" height="0.8" fill="#7080c8" opacity="0.45"/>
<rect x="478.6" y="186.8" width="0.8" height="0.8" fill="#7080c8" opacity="0.45"/>
<rect x="473.9" y="180.4" width="0.8" height="0.8" fill="#7080c8" opacity="0.45"/>
<rect x="484.6" y="184.5" width="0.8" height="0.8" fill="#7080c8" opacity="0.45"/>
<g transform="translate(466,195.5) rotate(-25)" filter="url(#bl05)"><ellipse cx="0" cy="0" rx="5.5" ry="2.4" fill="#4a62c8" opacity="0.9"/><ellipse cx="-0.825" cy="0" rx="3.8499999999999996" ry="1.68" fill="#30a890"/><ellipse cx="-1.65" cy="0" rx="2.31" ry="1.08" fill="#d8c428"/><ellipse cx="-2.2" cy="0" rx="1.1" ry="0.6" fill="#e05020"/></g>
<line x1="474.00" y1="166.70" x2="474.00" y2="207.10" stroke="#201a1a" stroke-width="1.35" />
<line x1="454.80" y1="189.40" x2="495.60" y2="189.40" stroke="#201a1a" stroke-width="1.35" />
<text transform="translate(464.40,172.60)" x="0" y="2.77" font-size="7.7" text-anchor="middle" fill="#222" >1.40</text>
<text transform="translate(484.80,172.60)" x="0" y="2.77" font-size="7.7" text-anchor="middle" fill="#222" >26.6</text>
<text transform="translate(464.40,201.50)" x="0" y="2.77" font-size="7.7" text-anchor="middle" fill="#222" >52.8</text>
<text transform="translate(484.80,201.50)" x="0" y="2.77" font-size="7.7" text-anchor="middle" fill="#222" >18.7</text>
<rect x="406.3" y="214.4" width="40.80000000000001" height="40.900000000000006" fill="#fff" stroke="#c8c8c8" stroke-width="0.6"/>
<line x1="404.10" y1="217.40" x2="405.70" y2="217.40" stroke="#aaa" stroke-width="0.6" />
<line x1="402.70" y1="216.20" x2="403.50" y2="215.60" stroke="#bbb" stroke-width="0.5" />
<line x1="404.10" y1="226.38" x2="405.70" y2="226.38" stroke="#aaa" stroke-width="0.6" />
<line x1="402.70" y1="225.18" x2="403.50" y2="224.57" stroke="#bbb" stroke-width="0.5" />
<line x1="404.10" y1="235.35" x2="405.70" y2="235.35" stroke="#aaa" stroke-width="0.6" />
<line x1="402.70" y1="234.15" x2="403.50" y2="233.55" stroke="#bbb" stroke-width="0.5" />
<line x1="404.10" y1="244.33" x2="405.70" y2="244.33" stroke="#aaa" stroke-width="0.6" />
<line x1="402.70" y1="243.13" x2="403.50" y2="242.53" stroke="#bbb" stroke-width="0.5" />
<line x1="404.10" y1="253.30" x2="405.70" y2="253.30" stroke="#aaa" stroke-width="0.6" />
<line x1="402.70" y1="252.10" x2="403.50" y2="251.50" stroke="#bbb" stroke-width="0.5" />
<line x1="409.30" y1="255.90" x2="409.30" y2="257.50" stroke="#aaa" stroke-width="0.6" />
<line x1="408.30" y1="258.90" x2="409.10" y2="258.10" stroke="#bbb" stroke-width="0.5" />
<line x1="418.25" y1="255.90" x2="418.25" y2="257.50" stroke="#aaa" stroke-width="0.6" />
<line x1="417.25" y1="258.90" x2="418.05" y2="258.10" stroke="#bbb" stroke-width="0.5" />
<line x1="427.20" y1="255.90" x2="427.20" y2="257.50" stroke="#aaa" stroke-width="0.6" />
<line x1="426.20" y1="258.90" x2="427.00" y2="258.10" stroke="#bbb" stroke-width="0.5" />
<line x1="436.15" y1="255.90" x2="436.15" y2="257.50" stroke="#aaa" stroke-width="0.6" />
<line x1="435.15" y1="258.90" x2="435.95" y2="258.10" stroke="#bbb" stroke-width="0.5" />
<line x1="445.10" y1="255.90" x2="445.10" y2="257.50" stroke="#aaa" stroke-width="0.6" />
<line x1="444.10" y1="258.90" x2="444.90" y2="258.10" stroke="#bbb" stroke-width="0.5" />
<rect x="436.7" y="243.0" width="0.8" height="0.8" fill="#7080c8" opacity="0.45"/>
<rect x="431.9" y="240.6" width="0.8" height="0.8" fill="#7080c8" opacity="0.45"/>
<rect x="428.2" y="246.5" width="0.8" height="0.8" fill="#7080c8" opacity="0.45"/>
<rect x="428.9" y="241.6" width="0.8" height="0.8" fill="#7080c8" opacity="0.45"/>
<rect x="429.8" y="243.6" width="0.8" height="0.8" fill="#7080c8" opacity="0.45"/>
<rect x="436.6" y="243.1" width="0.8" height="0.8" fill="#7080c8" opacity="0.45"/>
<rect x="431.4" y="243.8" width="0.8" height="0.8" fill="#7080c8" opacity="0.45"/>
<rect x="430.8" y="244.5" width="0.8" height="0.8" fill="#7080c8" opacity="0.45"/>
<rect x="445.5" y="242.6" width="0.8" height="0.8" fill="#7080c8" opacity="0.45"/>
<rect x="439.1" y="243.2" width="0.8" height="0.8" fill="#7080c8" opacity="0.45"/>
<rect x="436.0" y="242.0" width="0.8" height="0.8" fill="#7080c8" opacity="0.45"/>
<rect x="438.3" y="244.0" width="0.8" height="0.8" fill="#7080c8" opacity="0.45"/>
<rect x="444.4" y="247.6" width="0.8" height="0.8" fill="#7080c8" opacity="0.45"/>
<rect x="432.6" y="245.7" width="0.8" height="0.8" fill="#7080c8" opacity="0.45"/>
<rect x="433.8" y="243.2" width="0.8" height="0.8" fill="#7080c8" opacity="0.45"/>
<rect x="432.0" y="244.7" width="0.8" height="0.8" fill="#7080c8" opacity="0.45"/>
<rect x="444.1" y="243.8" width="0.8" height="0.8" fill="#7080c8" opacity="0.45"/>
<rect x="439.1" y="242.8" width="0.8" height="0.8" fill="#7080c8" opacity="0.45"/>
<rect x="436.4" y="242.0" width="0.8" height="0.8" fill="#7080c8" opacity="0.45"/>
<rect x="437.6" y="240.9" width="0.8" height="0.8" fill="#7080c8" opacity="0.45"/>
<rect x="435.0" y="243.3" width="0.8" height="0.8" fill="#7080c8" opacity="0.45"/>
<rect x="435.8" y="244.2" width="0.8" height="0.8" fill="#7080c8" opacity="0.45"/>
<rect x="439.1" y="246.8" width="0.8" height="0.8" fill="#7080c8" opacity="0.45"/>
<rect x="435.6" y="241.1" width="0.8" height="0.8" fill="#7080c8" opacity="0.45"/>
<rect x="439.3" y="244.6" width="0.8" height="0.8" fill="#7080c8" opacity="0.45"/>
<rect x="433.8" y="245.2" width="0.8" height="0.8" fill="#7080c8" opacity="0.45"/>
<rect x="437.0" y="242.8" width="0.8" height="0.8" fill="#7080c8" opacity="0.45"/>
<rect x="437.5" y="242.0" width="0.8" height="0.8" fill="#7080c8" opacity="0.45"/>
<rect x="435.9" y="246.6" width="0.8" height="0.8" fill="#7080c8" opacity="0.45"/>
<rect x="444.0" y="244.9" width="0.8" height="0.8" fill="#7080c8" opacity="0.45"/>
<rect x="438.6" y="244.4" width="0.8" height="0.8" fill="#7080c8" opacity="0.45"/>
<rect x="432.0" y="244.2" width="0.8" height="0.8" fill="#7080c8" opacity="0.45"/>
<rect x="434.3" y="243.1" width="0.8" height="0.8" fill="#7080c8" opacity="0.45"/>
<rect x="445.9" y="242.9" width="0.8" height="0.8" fill="#7080c8" opacity="0.45"/>
<rect x="438.3" y="244.1" width="0.8" height="0.8" fill="#7080c8" opacity="0.45"/>
<rect x="443.0" y="243.6" width="0.8" height="0.8" fill="#7080c8" opacity="0.45"/>
<rect x="440.5" y="244.6" width="0.8" height="0.8" fill="#7080c8" opacity="0.45"/>
<rect x="437.0" y="243.1" width="0.8" height="0.8" fill="#7080c8" opacity="0.45"/>
<rect x="432.8" y="245.6" width="0.8" height="0.8" fill="#7080c8" opacity="0.45"/>
<rect x="433.6" y="245.7" width="0.8" height="0.8" fill="#7080c8" opacity="0.45"/>
<rect x="433.1" y="242.5" width="0.8" height="0.8" fill="#7080c8" opacity="0.45"/>
<rect x="435.4" y="246.0" width="0.8" height="0.8" fill="#7080c8" opacity="0.45"/>
<rect x="434.1" y="242.4" width="0.8" height="0.8" fill="#7080c8" opacity="0.45"/>
<rect x="429.7" y="244.1" width="0.8" height="0.8" fill="#7080c8" opacity="0.45"/>
<rect x="440.2" y="246.3" width="0.8" height="0.8" fill="#7080c8" opacity="0.45"/>
<rect x="439.3" y="243.9" width="0.8" height="0.8" fill="#7080c8" opacity="0.45"/>
<rect x="437.8" y="248.4" width="0.8" height="0.8" fill="#7080c8" opacity="0.45"/>
<rect x="446.0" y="245.4" width="0.8" height="0.8" fill="#7080c8" opacity="0.45"/>
<rect x="434.0" y="228.6" width="0.8" height="0.8" fill="#8090d0" opacity="0.45"/>
<rect x="435.5" y="228.8" width="0.8" height="0.8" fill="#8090d0" opacity="0.45"/>
<rect x="439.0" y="227.6" width="0.8" height="0.8" fill="#8090d0" opacity="0.45"/>
<rect x="440.0" y="230.5" width="0.8" height="0.8" fill="#8090d0" opacity="0.45"/>
<rect x="441.8" y="231.8" width="0.8" height="0.8" fill="#8090d0" opacity="0.45"/>
<rect x="437.9" y="229.4" width="0.8" height="0.8" fill="#8090d0" opacity="0.45"/>
<rect x="444.8" y="231.6" width="0.8" height="0.8" fill="#8090d0" opacity="0.45"/>
<rect x="436.1" y="230.8" width="0.8" height="0.8" fill="#8090d0" opacity="0.45"/>
<rect x="428.8" y="229.8" width="0.8" height="0.8" fill="#8090d0" opacity="0.45"/>
<rect x="423.6" y="231.5" width="0.8" height="0.8" fill="#8090d0" opacity="0.45"/>
<rect x="432.3" y="230.9" width="0.8" height="0.8" fill="#8090d0" opacity="0.45"/>
<rect x="438.9" y="227.9" width="0.8" height="0.8" fill="#8090d0" opacity="0.45"/>
<rect x="441.2" y="232.4" width="0.8" height="0.8" fill="#8090d0" opacity="0.45"/>
<rect x="430.9" y="232.9" width="0.8" height="0.8" fill="#8090d0" opacity="0.45"/>
<rect x="438.5" y="227.3" width="0.8" height="0.8" fill="#8090d0" opacity="0.45"/>
<rect x="434.6" y="229.8" width="0.8" height="0.8" fill="#8090d0" opacity="0.45"/>
<rect x="440.5" y="227.5" width="0.8" height="0.8" fill="#8090d0" opacity="0.45"/>
<rect x="434.0" y="230.0" width="0.8" height="0.8" fill="#8090d0" opacity="0.45"/>
<rect x="437.8" y="233.0" width="0.8" height="0.8" fill="#8090d0" opacity="0.45"/>
<rect x="441.2" y="230.9" width="0.8" height="0.8" fill="#8090d0" opacity="0.45"/>
<rect x="430.8" y="227.3" width="0.8" height="0.8" fill="#8090d0" opacity="0.45"/>
<rect x="430.0" y="229.0" width="0.8" height="0.8" fill="#8090d0" opacity="0.45"/>
<rect x="440.0" y="232.5" width="0.8" height="0.8" fill="#8090d0" opacity="0.45"/>
<rect x="442.2" y="227.4" width="0.8" height="0.8" fill="#8090d0" opacity="0.45"/>
<rect x="435.9" y="233.4" width="0.8" height="0.8" fill="#8090d0" opacity="0.45"/>
<rect x="437.1" y="230.2" width="0.8" height="0.8" fill="#8090d0" opacity="0.45"/>
<rect x="428.0" y="226.3" width="0.8" height="0.8" fill="#8090d0" opacity="0.45"/>
<rect x="433.4" y="228.6" width="0.8" height="0.8" fill="#8090d0" opacity="0.45"/>
<rect x="439.5" y="228.8" width="0.8" height="0.8" fill="#8090d0" opacity="0.45"/>
<rect x="426.1" y="234.0" width="0.8" height="0.8" fill="#8090d0" opacity="0.45"/>
<rect x="438.6" y="225.8" width="0.8" height="0.8" fill="#8090d0" opacity="0.45"/>
<rect x="435.3" y="229.2" width="0.8" height="0.8" fill="#8090d0" opacity="0.45"/>
<rect x="439.4" y="224.5" width="0.8" height="0.8" fill="#8090d0" opacity="0.45"/>
<g transform="translate(417.3,244.6) rotate(0)" filter="url(#bl05)"><ellipse cx="0" cy="0" rx="3.2" ry="1.9" fill="#4a62c8" opacity="0.9"/><ellipse cx="-0.48" cy="0" rx="2.2399999999999998" ry="1.3299999999999998" fill="#30a890"/><ellipse cx="-0.96" cy="0" rx="1.344" ry="0.855" fill="#d8c428"/><ellipse cx="-1.2800000000000002" cy="0" rx="0.6400000000000001" ry="0.475" fill="#e05020"/></g>
<line x1="425.00" y1="214.40" x2="425.00" y2="255.30" stroke="#201a1a" stroke-width="1.35" />
<line x1="406.30" y1="236.00" x2="447.10" y2="236.00" stroke="#201a1a" stroke-width="1.35" />
<text transform="translate(415.65,220.70)" x="0" y="2.77" font-size="7.7" text-anchor="middle" fill="#222" >0.38</text>
<text transform="translate(436.05,220.70)" x="0" y="2.77" font-size="7.7" text-anchor="middle" fill="#222" >8.86</text>
<text transform="translate(415.65,250.40)" x="0" y="2.77" font-size="7.7" text-anchor="middle" fill="#222" >80.7</text>
<text transform="translate(436.05,250.40)" x="0" y="2.77" font-size="7.7" text-anchor="middle" fill="#222" >10.1</text>
<rect x="454.8" y="214.4" width="40.80000000000001" height="40.900000000000006" fill="#fff" stroke="#c8c8c8" stroke-width="0.6"/>
<line x1="452.60" y1="217.40" x2="454.20" y2="217.40" stroke="#aaa" stroke-width="0.6" />
<line x1="451.20" y1="216.20" x2="452.00" y2="215.60" stroke="#bbb" stroke-width="0.5" />
<line x1="452.60" y1="226.38" x2="454.20" y2="226.38" stroke="#aaa" stroke-width="0.6" />
<line x1="451.20" y1="225.18" x2="452.00" y2="224.57" stroke="#bbb" stroke-width="0.5" />
<line x1="452.60" y1="235.35" x2="454.20" y2="235.35" stroke="#aaa" stroke-width="0.6" />
<line x1="451.20" y1="234.15" x2="452.00" y2="233.55" stroke="#bbb" stroke-width="0.5" />
<line x1="452.60" y1="244.33" x2="454.20" y2="244.33" stroke="#aaa" stroke-width="0.6" />
<line x1="451.20" y1="243.13" x2="452.00" y2="242.53" stroke="#bbb" stroke-width="0.5" />
<line x1="452.60" y1="253.30" x2="454.20" y2="253.30" stroke="#aaa" stroke-width="0.6" />
<line x1="451.20" y1="252.10" x2="452.00" y2="251.50" stroke="#bbb" stroke-width="0.5" />
<line x1="457.80" y1="255.90" x2="457.80" y2="257.50" stroke="#aaa" stroke-width="0.6" />
<line x1="456.80" y1="258.90" x2="457.60" y2="258.10" stroke="#bbb" stroke-width="0.5" />
<line x1="466.75" y1="255.90" x2="466.75" y2="257.50" stroke="#aaa" stroke-width="0.6" />
<line x1="465.75" y1="258.90" x2="466.55" y2="258.10" stroke="#bbb" stroke-width="0.5" />
<line x1="475.70" y1="255.90" x2="475.70" y2="257.50" stroke="#aaa" stroke-width="0.6" />
<line x1="474.70" y1="258.90" x2="475.50" y2="258.10" stroke="#bbb" stroke-width="0.5" />
<line x1="484.65" y1="255.90" x2="484.65" y2="257.50" stroke="#aaa" stroke-width="0.6" />
<line x1="483.65" y1="258.90" x2="484.45" y2="258.10" stroke="#bbb" stroke-width="0.5" />
<line x1="493.60" y1="255.90" x2="493.60" y2="257.50" stroke="#aaa" stroke-width="0.6" />
<line x1="492.60" y1="258.90" x2="493.40" y2="258.10" stroke="#bbb" stroke-width="0.5" />
<rect x="487.3" y="243.6" width="0.8" height="0.8" fill="#6878c8" opacity="0.45"/>
<rect x="485.7" y="242.1" width="0.8" height="0.8" fill="#6878c8" opacity="0.45"/>
<rect x="479.2" y="246.0" width="0.8" height="0.8" fill="#6878c8" opacity="0.45"/>
<rect x="465.5" y="245.3" width="0.8" height="0.8" fill="#6878c8" opacity="0.45"/>
<rect x="488.1" y="240.2" width="0.8" height="0.8" fill="#6878c8" opacity="0.45"/>
<rect x="481.1" y="241.9" width="0.8" height="0.8" fill="#6878c8" opacity="0.45"/>
<rect x="479.5" y="240.8" width="0.8" height="0.8" fill="#6878c8" opacity="0.45"/>
<rect x="475.6" y="243.3" width="0.8" height="0.8" fill="#6878c8" opacity="0.45"/>
<rect x="480.9" y="244.1" width="0.8" height="0.8" fill="#6878c8" opacity="0.45"/>
<rect x="486.1" y="242.1" width="0.8" height="0.8" fill="#6878c8" opacity="0.45"/>
<rect x="492.8" y="246.0" width="0.8" height="0.8" fill="#6878c8" opacity="0.45"/>
<rect x="474.5" y="242.8" width="0.8" height="0.8" fill="#6878c8" opacity="0.45"/>
<rect x="480.5" y="243.9" width="0.8" height="0.8" fill="#6878c8" opacity="0.45"/>
<rect x="477.3" y="246.0" width="0.8" height="0.8" fill="#6878c8" opacity="0.45"/>
<rect x="480.4" y="246.9" width="0.8" height="0.8" fill="#6878c8" opacity="0.45"/>
<rect x="478.4" y="246.6" width="0.8" height="0.8" fill="#6878c8" opacity="0.45"/>
<rect x="484.3" y="244.8" width="0.8" height="0.8" fill="#6878c8" opacity="0.45"/>
<rect x="484.0" y="243.7" width="0.8" height="0.8" fill="#6878c8" opacity="0.45"/>
<rect x="477.3" y="242.8" width="0.8" height="0.8" fill="#6878c8" opacity="0.45"/>
<rect x="478.6" y="242.7" width="0.8" height="0.8" fill="#6878c8" opacity="0.45"/>
<rect x="480.4" y="244.5" width="0.8" height="0.8" fill="#6878c8" opacity="0.45"/>
<rect x="483.6" y="242.6" width="0.8" height="0.8" fill="#6878c8" opacity="0.45"/>
<rect x="473.5" y="244.8" width="0.8" height="0.8" fill="#6878c8" opacity="0.45"/>
<rect x="478.5" y="242.4" width="0.8" height="0.8" fill="#6878c8" opacity="0.45"/>
<rect x="484.4" y="243.0" width="0.8" height="0.8" fill="#6878c8" opacity="0.45"/>
<rect x="482.6" y="243.3" width="0.8" height="0.8" fill="#6878c8" opacity="0.45"/>
<rect x="472.8" y="244.3" width="0.8" height="0.8" fill="#6878c8" opacity="0.45"/>
<rect x="481.2" y="244.4" width="0.8" height="0.8" fill="#6878c8" opacity="0.45"/>
<rect x="482.6" y="242.3" width="0.8" height="0.8" fill="#6878c8" opacity="0.45"/>
<rect x="489.3" y="243.3" width="0.8" height="0.8" fill="#6878c8" opacity="0.45"/>
<rect x="487.2" y="244.2" width="0.8" height="0.8" fill="#6878c8" opacity="0.45"/>
<rect x="486.2" y="244.9" width="0.8" height="0.8" fill="#6878c8" opacity="0.45"/>
<rect x="485.3" y="241.4" width="0.8" height="0.8" fill="#6878c8" opacity="0.45"/>
<rect x="481.0" y="245.5" width="0.8" height="0.8" fill="#6878c8" opacity="0.45"/>
<rect x="481.5" y="242.4" width="0.8" height="0.8" fill="#6878c8" opacity="0.45"/>
<rect x="482.3" y="244.7" width="0.8" height="0.8" fill="#6878c8" opacity="0.45"/>
<rect x="478.0" y="242.9" width="0.8" height="0.8" fill="#6878c8" opacity="0.45"/>
<rect x="479.9" y="241.8" width="0.8" height="0.8" fill="#6878c8" opacity="0.45"/>
<rect x="485.8" y="242.1" width="0.8" height="0.8" fill="#6878c8" opacity="0.45"/>
<rect x="482.4" y="243.7" width="0.8" height="0.8" fill="#6878c8" opacity="0.45"/>
<rect x="484.4" y="243.9" width="0.8" height="0.8" fill="#6878c8" opacity="0.45"/>
<rect x="485.8" y="241.7" width="0.8" height="0.8" fill="#6878c8" opacity="0.45"/>
<rect x="470.1" y="244.6" width="0.8" height="0.8" fill="#6878c8" opacity="0.45"/>
<rect x="490.3" y="242.4" width="0.8" height="0.8" fill="#6878c8" opacity="0.45"/>
<rect x="482.3" y="244.6" width="0.8" height="0.8" fill="#6878c8" opacity="0.45"/>
<rect x="478.1" y="243.0" width="0.8" height="0.8" fill="#6878c8" opacity="0.45"/>
<rect x="480.0" y="244.0" width="0.8" height="0.8" fill="#6878c8" opacity="0.45"/>
<rect x="482.5" y="246.0" width="0.8" height="0.8" fill="#6878c8" opacity="0.45"/>
<rect x="477.7" y="241.8" width="0.8" height="0.8" fill="#6878c8" opacity="0.45"/>
<rect x="475.2" y="243.4" width="0.8" height="0.8" fill="#6878c8" opacity="0.45"/>
<rect x="481.6" y="242.6" width="0.8" height="0.8" fill="#6878c8" opacity="0.45"/>
<rect x="485.1" y="241.3" width="0.8" height="0.8" fill="#6878c8" opacity="0.45"/>
<rect x="475.1" y="246.8" width="0.8" height="0.8" fill="#6878c8" opacity="0.45"/>
<rect x="482.2" y="241.3" width="0.8" height="0.8" fill="#6878c8" opacity="0.45"/>
<rect x="487.3" y="243.3" width="0.8" height="0.8" fill="#6878c8" opacity="0.45"/>
<rect x="477.5" y="243.6" width="0.8" height="0.8" fill="#6878c8" opacity="0.45"/>
<rect x="487.4" y="244.4" width="0.8" height="0.8" fill="#6878c8" opacity="0.45"/>
<rect x="481.7" y="246.0" width="0.8" height="0.8" fill="#6878c8" opacity="0.45"/>
<rect x="477.9" y="242.7" width="0.8" height="0.8" fill="#6878c8" opacity="0.45"/>
<rect x="484.5" y="241.3" width="0.8" height="0.8" fill="#6878c8" opacity="0.45"/>
<rect x="489.2" y="229.8" width="0.8" height="0.8" fill="#8090d0" opacity="0.45"/>
<rect x="491.0" y="229.7" width="0.8" height="0.8" fill="#8090d0" opacity="0.45"/>
<rect x="483.0" y="228.1" width="0.8" height="0.8" fill="#8090d0" opacity="0.45"/>
<rect x="485.3" y="230.3" width="0.8" height="0.8" fill="#8090d0" opacity="0.45"/>
<rect x="479.0" y="231.0" width="0.8" height="0.8" fill="#8090d0" opacity="0.45"/>
<rect x="491.9" y="229.3" width="0.8" height="0.8" fill="#8090d0" opacity="0.45"/>
<rect x="477.1" y="230.3" width="0.8" height="0.8" fill="#8090d0" opacity="0.45"/>
<rect x="487.8" y="227.2" width="0.8" height="0.8" fill="#8090d0" opacity="0.45"/>
<rect x="481.2" y="228.0" width="0.8" height="0.8" fill="#8090d0" opacity="0.45"/>
<rect x="476.8" y="229.8" width="0.8" height="0.8" fill="#8090d0" opacity="0.45"/>
<rect x="491.8" y="229.8" width="0.8" height="0.8" fill="#8090d0" opacity="0.45"/>
<rect x="481.2" y="229.0" width="0.8" height="0.8" fill="#8090d0" opacity="0.45"/>
<rect x="485.1" y="232.7" width="0.8" height="0.8" fill="#8090d0" opacity="0.45"/>
<rect x="482.7" y="230.1" width="0.8" height="0.8" fill="#8090d0" opacity="0.45"/>
<rect x="483.4" y="231.4" width="0.8" height="0.8" fill="#8090d0" opacity="0.45"/>
<rect x="480.5" y="230.1" width="0.8" height="0.8" fill="#8090d0" opacity="0.45"/>
<rect x="483.2" y="230.3" width="0.8" height="0.8" fill="#8090d0" opacity="0.45"/>
<rect x="476.9" y="228.9" width="0.8" height="0.8" fill="#8090d0" opacity="0.45"/>
<rect x="491.8" y="230.4" width="0.8" height="0.8" fill="#8090d0" opacity="0.45"/>
<rect x="479.1" y="234.2" width="0.8" height="0.8" fill="#8090d0" opacity="0.45"/>
<rect x="487.9" y="228.6" width="0.8" height="0.8" fill="#8090d0" opacity="0.45"/>
<rect x="483.2" y="227.3" width="0.8" height="0.8" fill="#8090d0" opacity="0.45"/>
<rect x="494.4" y="231.6" width="0.8" height="0.8" fill="#8090d0" opacity="0.45"/>
<rect x="493.8" y="227.1" width="0.8" height="0.8" fill="#8090d0" opacity="0.45"/>
<rect x="474.2" y="224.8" width="0.8" height="0.8" fill="#8090d0" opacity="0.45"/>
<rect x="476.5" y="228.0" width="0.8" height="0.8" fill="#8090d0" opacity="0.45"/>
<rect x="478.2" y="225.8" width="0.8" height="0.8" fill="#8090d0" opacity="0.45"/>
<rect x="488.2" y="227.7" width="0.8" height="0.8" fill="#8090d0" opacity="0.45"/>
<rect x="487.0" y="231.4" width="0.8" height="0.8" fill="#8090d0" opacity="0.45"/>
<rect x="480.3" y="228.0" width="0.8" height="0.8" fill="#8090d0" opacity="0.45"/>
<rect x="492.5" y="226.0" width="0.8" height="0.8" fill="#8090d0" opacity="0.45"/>
<rect x="482.1" y="226.7" width="0.8" height="0.8" fill="#8090d0" opacity="0.45"/>
<rect x="483.7" y="227.8" width="0.8" height="0.8" fill="#8090d0" opacity="0.45"/>
<rect x="486.1" y="228.0" width="0.8" height="0.8" fill="#8090d0" opacity="0.45"/>
<g transform="translate(465.4,244.6) rotate(0)" filter="url(#bl05)"><ellipse cx="0" cy="0" rx="3.4" ry="1.9" fill="#4a62c8" opacity="0.9"/><ellipse cx="-0.51" cy="0" rx="2.38" ry="1.3299999999999998" fill="#30a890"/><ellipse cx="-1.02" cy="0" rx="1.428" ry="0.855" fill="#d8c428"/><ellipse cx="-1.36" cy="0" rx="0.68" ry="0.475" fill="#e05020"/></g>
<line x1="474.00" y1="214.40" x2="474.00" y2="255.30" stroke="#201a1a" stroke-width="1.35" />
<line x1="454.80" y1="236.00" x2="495.60" y2="236.00" stroke="#201a1a" stroke-width="1.35" />
<text transform="translate(464.40,220.70)" x="0" y="2.77" font-size="7.7" text-anchor="middle" fill="#222" >0.37</text>
<text transform="translate(484.80,220.70)" x="0" y="2.77" font-size="7.7" text-anchor="middle" fill="#222" >8.51</text>
<text transform="translate(464.40,250.40)" x="0" y="2.77" font-size="7.7" text-anchor="middle" fill="#222" >76.4</text>
<text transform="translate(484.80,250.40)" x="0" y="2.77" font-size="7.7" text-anchor="middle" fill="#222" >14.8</text>
<text transform="translate(426.20,160.60)" x="0" y="3.53" font-size="9.8" text-anchor="middle" fill="#222" >Control</text>
<text transform="translate(474.60,160.60)" x="0" y="3.53" font-size="9.8" text-anchor="middle" fill="#222" >GADD45g</text>
<text transform="translate(391.40,191.60) scale(0.9,1)" x="0" y="3.02" font-size="8.4" text-anchor="end" fill="#383838" >AML4</text>
<text transform="translate(388.50,228.20) scale(0.9,1)" x="0" y="3.02" font-size="8.4" text-anchor="end" fill="#383838" >CB3</text>
<line x1="396.60" y1="172.00" x2="396.60" y2="237.00" stroke="#000" stroke-width="1" />
<polygon points="394.6,172.5 398.6,172.5 396.6,168" fill="#000"/>
<text transform="translate(396.00,247.00) rotate(-90) scale(0.86,1)" x="0" y="3.02" font-size="8.4" text-anchor="middle" fill="#383838" >7AAD</text>
<text transform="translate(428.60,262.50) scale(0.86,1)" x="0" y="3.02" font-size="8.4" text-anchor="middle" fill="#383838" >Annexin V</text>
<line x1="448.00" y1="262.50" x2="492.50" y2="262.50" stroke="#000" stroke-width="1" />
<polygon points="492.0,260.5 492.0,264.5 496.5,262.5" fill="#000"/>
<text transform="translate(13.10,289.80)" x="0" y="4.18" font-size="11.6" text-anchor="start" fill="#000" font-weight="bold" >F</text>
<line x1="57.00" y1="298.30" x2="57.00" y2="388.90" stroke="#111" stroke-width="1.2" />
<line x1="53.70" y1="388.40" x2="57.00" y2="388.40" stroke="#111" stroke-width="1.2" />
<text transform="translate(51.00,388.40)" x="0" y="2.81" font-size="7.8" text-anchor="end" fill="#383838" >0</text>
<line x1="53.70" y1="366.02" x2="57.00" y2="366.02" stroke="#111" stroke-width="1.2" />
<text transform="translate(51.00,366.02)" x="0" y="2.81" font-size="7.8" text-anchor="end" fill="#383838" >20</text>
<line x1="53.70" y1="343.64" x2="57.00" y2="343.64" stroke="#111" stroke-width="1.2" />
<text transform="translate(51.00,343.64)" x="0" y="2.81" font-size="7.8" text-anchor="end" fill="#383838" >40</text>
<line x1="53.70" y1="321.26" x2="57.00" y2="321.26" stroke="#111" stroke-width="1.2" />
<text transform="translate(51.00,321.26)" x="0" y="2.81" font-size="7.8" text-anchor="end" fill="#383838" >60</text>
<line x1="53.70" y1="298.88" x2="57.00" y2="298.88" stroke="#111" stroke-width="1.2" />
<text transform="translate(51.00,298.88)" x="0" y="2.81" font-size="7.8" text-anchor="end" fill="#383838" >80</text>
<line x1="53.70" y1="388.40" x2="258.80" y2="388.40" stroke="#111" stroke-width="1.2" />
<rect x="60.80" y="352.59" width="8.40" height="35.81" fill="#c4122e" />
<line x1="65.00" y1="348.12" x2="65.00" y2="352.59" stroke="#222" stroke-width="1" />
<line x1="63.00" y1="348.12" x2="67.00" y2="348.12" stroke="#222" stroke-width="1" />
<rect x="69.20" y="382.25" width="8.30" height="6.15" fill="#115282" />
<line x1="73.30" y1="378.89" x2="73.30" y2="382.25" stroke="#222" stroke-width="1" />
<line x1="71.30" y1="378.89" x2="75.30" y2="378.89" stroke="#222" stroke-width="1" />
<line x1="69.20" y1="388.40" x2="69.20" y2="390.60" stroke="#111" stroke-width="1.15" />
<text transform="translate(69.20,396.20) scale(0.9,1)" x="0" y="2.59" font-size="7.2" text-anchor="middle" fill="#383838" >AML37</text>
<line x1="65.30" y1="346.32" x2="75.80" y2="346.32" stroke="#222" stroke-width="1" />
<circle cx="68.85" cy="342.92" r="1.05" fill="#111"/>
<circle cx="72.15" cy="342.92" r="1.05" fill="#111"/>
<rect x="86.30" y="362.66" width="8.40" height="25.74" fill="#c4122e" />
<line x1="90.50" y1="358.75" x2="90.50" y2="362.66" stroke="#222" stroke-width="1" />
<line x1="88.50" y1="358.75" x2="92.50" y2="358.75" stroke="#222" stroke-width="1" />
<rect x="94.70" y="385.60" width="8.30" height="2.80" fill="#115282" />
<line x1="98.80" y1="383.36" x2="98.80" y2="385.60" stroke="#222" stroke-width="1" />
<line x1="96.80" y1="383.36" x2="100.80" y2="383.36" stroke="#222" stroke-width="1" />
<line x1="94.70" y1="388.40" x2="94.70" y2="390.60" stroke="#111" stroke-width="1.15" />
<text transform="translate(94.70,396.20) scale(0.9,1)" x="0" y="2.59" font-size="7.2" text-anchor="middle" fill="#383838" >AML93</text>
<line x1="90.80" y1="356.95" x2="101.30" y2="356.95" stroke="#222" stroke-width="1" />
<circle cx="94.35" cy="353.55" r="1.05" fill="#111"/>
<circle cx="97.65" cy="353.55" r="1.05" fill="#111"/>
<rect x="111.80" y="358.19" width="8.40" height="30.21" fill="#c4122e" />
<line x1="116.00" y1="352.59" x2="116.00" y2="358.19" stroke="#222" stroke-width="1" />
<line x1="114.00" y1="352.59" x2="118.00" y2="352.59" stroke="#222" stroke-width="1" />
<rect x="120.20" y="382.25" width="8.30" height="6.15" fill="#115282" />
<line x1="124.30" y1="379.45" x2="124.30" y2="382.25" stroke="#222" stroke-width="1" />
<line x1="122.30" y1="379.45" x2="126.30" y2="379.45" stroke="#222" stroke-width="1" />
<line x1="120.20" y1="388.40" x2="120.20" y2="390.60" stroke="#111" stroke-width="1.15" />
<text transform="translate(120.20,396.20) scale(0.9,1)" x="0" y="2.59" font-size="7.2" text-anchor="middle" fill="#383838" >AML58</text>
<line x1="116.30" y1="350.79" x2="126.80" y2="350.79" stroke="#222" stroke-width="1" />
<circle cx="119.85" cy="347.39" r="1.05" fill="#111"/>
<circle cx="123.15" cy="347.39" r="1.05" fill="#111"/>
<rect x="137.10" y="348.34" width="8.40" height="40.06" fill="#c4122e" />
<line x1="141.30" y1="340.28" x2="141.30" y2="348.34" stroke="#222" stroke-width="1" />
<line x1="139.30" y1="340.28" x2="143.30" y2="340.28" stroke="#222" stroke-width="1" />
<rect x="145.50" y="379.11" width="8.30" height="9.29" fill="#115282" />
<line x1="149.60" y1="376.43" x2="149.60" y2="379.11" stroke="#222" stroke-width="1" />
<line x1="147.60" y1="376.43" x2="151.60" y2="376.43" stroke="#222" stroke-width="1" />
<line x1="145.50" y1="388.40" x2="145.50" y2="390.60" stroke="#111" stroke-width="1.15" />
<text transform="translate(145.50,396.20) scale(0.9,1)" x="0" y="2.59" font-size="7.2" text-anchor="middle" fill="#383838" >AML25</text>
<line x1="141.60" y1="338.48" x2="152.10" y2="338.48" stroke="#222" stroke-width="1" />
<circle cx="145.15" cy="335.08" r="1.05" fill="#111"/>
<circle cx="148.45" cy="335.08" r="1.05" fill="#111"/>
<rect x="162.70" y="369.38" width="8.40" height="19.02" fill="#c4122e" />
<line x1="166.90" y1="366.69" x2="166.90" y2="369.38" stroke="#222" stroke-width="1" />
<line x1="164.90" y1="366.69" x2="168.90" y2="366.69" stroke="#222" stroke-width="1" />
<rect x="171.10" y="383.92" width="8.30" height="4.48" fill="#115282" />
<line x1="175.20" y1="380.23" x2="175.20" y2="383.92" stroke="#222" stroke-width="1" />
<line x1="173.20" y1="380.23" x2="177.20" y2="380.23" stroke="#222" stroke-width="1" />
<line x1="171.10" y1="388.40" x2="171.10" y2="390.60" stroke="#111" stroke-width="1.15" />
<text transform="translate(171.10,396.20) scale(0.9,1)" x="0" y="2.59" font-size="7.2" text-anchor="middle" fill="#383838" >AML51</text>
<line x1="167.20" y1="364.89" x2="177.70" y2="364.89" stroke="#222" stroke-width="1" />
<circle cx="172.40" cy="361.49" r="1.05" fill="#111"/>
<rect x="188.30" y="346.44" width="8.40" height="41.96" fill="#c4122e" />
<line x1="192.50" y1="338.83" x2="192.50" y2="346.44" stroke="#222" stroke-width="1" />
<line x1="190.50" y1="338.83" x2="194.50" y2="338.83" stroke="#222" stroke-width="1" />
<rect x="196.70" y="347.00" width="8.30" height="41.40" fill="#115282" />
<line x1="200.80" y1="335.58" x2="200.80" y2="347.00" stroke="#222" stroke-width="1" />
<line x1="198.80" y1="335.58" x2="202.80" y2="335.58" stroke="#222" stroke-width="1" />
<line x1="196.70" y1="388.40" x2="196.70" y2="390.60" stroke="#111" stroke-width="1.15" />
<text transform="translate(196.70,396.20) scale(0.9,1)" x="0" y="2.59" font-size="7.2" text-anchor="middle" fill="#383838" >CB1</text>
<line x1="191.80" y1="332.38" x2="201.80" y2="332.38" stroke="#222" stroke-width="1" />
<text transform="translate(196.70,326.78)" x="0" y="2.66" font-size="7.4" text-anchor="middle" fill="#383838" >NS</text>
<rect x="213.90" y="327.41" width="8.40" height="60.99" fill="#c4122e" />
<line x1="218.10" y1="316.78" x2="218.10" y2="327.41" stroke="#222" stroke-width="1" />
<line x1="216.10" y1="316.78" x2="220.10" y2="316.78" stroke="#222" stroke-width="1" />
<rect x="222.30" y="325.51" width="8.30" height="62.89" fill="#115282" />
<line x1="226.40" y1="320.70" x2="226.40" y2="325.51" stroke="#222" stroke-width="1" />
<line x1="224.40" y1="320.70" x2="228.40" y2="320.70" stroke="#222" stroke-width="1" />
<line x1="222.30" y1="388.40" x2="222.30" y2="390.60" stroke="#111" stroke-width="1.15" />
<text transform="translate(222.30,396.20) scale(0.9,1)" x="0" y="2.59" font-size="7.2" text-anchor="middle" fill="#383838" >CB2</text>
<line x1="217.40" y1="313.58" x2="227.40" y2="313.58" stroke="#222" stroke-width="1" />
<text transform="translate(222.30,307.98)" x="0" y="2.66" font-size="7.4" text-anchor="middle" fill="#383838" >NS</text>
<rect x="238.90" y="358.19" width="8.40" height="30.21" fill="#c4122e" />
<line x1="243.10" y1="348.45" x2="243.10" y2="358.19" stroke="#222" stroke-width="1" />
<line x1="241.10" y1="348.45" x2="245.10" y2="348.45" stroke="#222" stroke-width="1" />
<rect x="247.30" y="357.07" width="8.30" height="31.33" fill="#115282" />
<line x1="251.40" y1="352.82" x2="251.40" y2="357.07" stroke="#222" stroke-width="1" />
<line x1="249.40" y1="352.82" x2="253.40" y2="352.82" stroke="#222" stroke-width="1" />
<line x1="247.30" y1="388.40" x2="247.30" y2="390.60" stroke="#111" stroke-width="1.15" />
<text transform="translate(247.30,396.20) scale(0.9,1)" x="0" y="2.59" font-size="7.2" text-anchor="middle" fill="#383838" >CB3</text>
<line x1="242.40" y1="345.25" x2="252.40" y2="345.25" stroke="#222" stroke-width="1" />
<text transform="translate(247.30,339.65)" x="0" y="2.66" font-size="7.4" text-anchor="middle" fill="#383838" >NS</text>
<rect x="60.80" y="298.00" width="10.50" height="5.30" fill="#c4122e" />
<text transform="translate(74.50,300.70)" x="0" y="2.81" font-size="7.8" text-anchor="start" fill="#383838" >Control</text>
<rect x="60.80" y="306.30" width="10.50" height="5.50" fill="#115282" />
<text transform="translate(74.50,309.00)" x="0" y="2.81" font-size="7.8" text-anchor="start" fill="#383838" >GADD45g</text>
<text transform="translate(32,343.4) rotate(-90) scale(0.86,1)" x="0" y="3.06" font-size="8.5" text-anchor="middle" fill="#383838">CFCs/1000 plated cells</text>
<svg x="263.1" y="319.8" width="42.6" height="32" viewBox="263.1 319.8 42.6 32">
<rect x="263.10" y="319.80" width="42.60" height="32.00" fill="#0b190d" />
<ellipse cx="268" cy="338" rx="6" ry="8" fill="#1e6a28" opacity="0.3" filter="url(#bl2)"/>
<ellipse cx="283" cy="333" rx="10" ry="8" fill="#1e6a28" opacity="0.1" filter="url(#bl2)"/>
<ellipse cx="296" cy="340" rx="8" ry="8" fill="#1e6a28" opacity="0.08" filter="url(#bl2)"/>
<ellipse cx="300" cy="334" rx="4" ry="4" fill="#1e6a28" opacity="0.18" filter="url(#bl2)"/>
<circle cx="282.3" cy="337.7" r="0.7" fill="#33b844" opacity="0.6"/>
<circle cx="284.7" cy="338.6" r="0.5" fill="#238a30" opacity="0.6"/>
<circle cx="283.3" cy="339.4" r="0.5" fill="#1f7a2a" opacity="0.6"/>
<circle cx="282.1" cy="324.3" r="0.4" fill="#238a30" opacity="0.6"/>
<circle cx="304.9" cy="350.7" r="0.5" fill="#238a30" opacity="0.6"/>
<circle cx="263.6" cy="336.7" r="0.4" fill="#1f7a2a" opacity="0.6"/>
<circle cx="271.1" cy="327.5" r="0.4" fill="#33b844" opacity="0.6"/>
<circle cx="276.9" cy="338.7" r="0.5" fill="#238a30" opacity="0.6"/>
<circle cx="273.0" cy="329.2" r="0.4" fill="#1f7a2a" opacity="0.6"/>
<circle cx="282.5" cy="328.7" r="0.4" fill="#1b5e22" opacity="0.6"/>
<circle cx="276.5" cy="327.1" r="0.6" fill="#1f7a2a" opacity="0.6"/>
<circle cx="266.0" cy="344.3" r="0.7" fill="#1f7a2a" opacity="0.6"/>
<circle cx="299.1" cy="332.2" r="0.4" fill="#2aa03a" opacity="0.6"/>
<circle cx="272.0" cy="348.9" r="0.7" fill="#33b844" opacity="0.6"/>
<circle cx="266.7" cy="330.4" r="0.7" fill="#1f7a2a" opacity="0.6"/>
<circle cx="268.7" cy="342.4" r="0.4" fill="#1f7a2a" opacity="0.6"/>
<circle cx="282.9" cy="335.4" r="0.5" fill="#33b844" opacity="0.6"/>
<circle cx="284.7" cy="351.3" r="0.5" fill="#33b844" opacity="0.6"/>
<circle cx="272.1" cy="328.4" r="0.6" fill="#1f7a2a" opacity="0.6"/>
<circle cx="272.0" cy="332.4" r="0.4" fill="#1f7a2a" opacity="0.6"/>
<circle cx="266.1" cy="322.7" r="0.5" fill="#1f7a2a" opacity="0.6"/>
<circle cx="304.0" cy="335.3" r="0.7" fill="#2aa03a" opacity="0.6"/>
<circle cx="289.9" cy="337.5" r="0.7" fill="#33b844" opacity="0.6"/>
<circle cx="264.7" cy="350.6" r="0.5" fill="#33b844" opacity="0.6"/>
<circle cx="274.0" cy="346.2" r="0.7" fill="#1b5e22" opacity="0.6"/>
<circle cx="285.2" cy="349.5" r="0.5" fill="#2aa03a" opacity="0.6"/>
<circle cx="283.5" cy="340.7" r="0.4" fill="#1b5e22" opacity="0.6"/>
<circle cx="272.1" cy="349.1" r="0.4" fill="#1f7a2a" opacity="0.6"/>
<circle cx="274.5" cy="334.1" r="0.4" fill="#1f7a2a" opacity="0.6"/>
<circle cx="270.5" cy="331.6" r="0.5" fill="#1f7a2a" opacity="0.6"/>
<circle cx="278.5" cy="348.3" r="0.6" fill="#238a30" opacity="0.6"/>
<circle cx="263.8" cy="348.9" r="0.6" fill="#1f7a2a" opacity="0.6"/>
<circle cx="263.9" cy="340.2" r="0.7" fill="#1f7a2a" opacity="0.6"/>
<circle cx="294.2" cy="330.0" r="0.4" fill="#33b844" opacity="0.6"/>
<circle cx="286.3" cy="343.4" r="0.5" fill="#1b5e22" opacity="0.6"/>
<circle cx="278.0" cy="341.7" r="0.4" fill="#33b844" opacity="0.6"/>
<circle cx="263.6" cy="341.0" r="0.7" fill="#238a30" opacity="0.6"/>
<circle cx="263.5" cy="322.1" r="0.4" fill="#1f7a2a" opacity="0.6"/>
<circle cx="305.4" cy="348.0" r="0.7" fill="#238a30" opacity="0.6"/>
<circle cx="282.5" cy="334.6" r="0.4" fill="#238a30" opacity="0.6"/>
<circle cx="295.0" cy="320.8" r="0.7" fill="#1f7a2a" opacity="0.6"/>
<circle cx="272.8" cy="342.1" r="0.7" fill="#238a30" opacity="0.6"/>
<circle cx="291.2" cy="335.4" r="0.6" fill="#1b5e22" opacity="0.6"/>
<circle cx="269.1" cy="339.4" r="0.5" fill="#1b5e22" opacity="0.6"/>
<circle cx="291.2" cy="333.9" r="0.6" fill="#33b844" opacity="0.6"/>
<circle cx="297.4" cy="349.1" r="0.7" fill="#2aa03a" opacity="0.6"/>
<circle cx="284.2" cy="346.6" r="0.4" fill="#1f7a2a" opacity="0.6"/>
<circle cx="282.2" cy="328.6" r="0.5" fill="#33b844" opacity="0.6"/>
<circle cx="279.3" cy="336.4" r="0.6" fill="#238a30" opacity="0.6"/>
<circle cx="282.3" cy="322.2" r="0.4" fill="#1b5e22" opacity="0.6"/>
<circle cx="300.3" cy="321.1" r="0.6" fill="#1b5e22" opacity="0.6"/>
<circle cx="290.7" cy="337.8" r="0.7" fill="#33b844" opacity="0.6"/>
<circle cx="271.1" cy="344.4" r="0.6" fill="#2aa03a" opacity="0.6"/>
<circle cx="296.3" cy="345.3" r="0.4" fill="#33b844" opacity="0.6"/>
<circle cx="267.7" cy="336.9" r="0.6" fill="#1f7a2a" opacity="0.6"/>
<circle cx="270.6" cy="320.1" r="0.7" fill="#238a30" opacity="0.6"/>
<circle cx="277.8" cy="342.1" r="0.5" fill="#33b844" opacity="0.6"/>
<circle cx="280.5" cy="348.4" r="0.7" fill="#2aa03a" opacity="0.6"/>
<circle cx="282.2" cy="326.1" r="0.4" fill="#33b844" opacity="0.6"/>
<circle cx="286.5" cy="340.7" r="0.6" fill="#33b844" opacity="0.6"/>
<circle cx="276.9" cy="351.2" r="0.4" fill="#1f7a2a" opacity="0.6"/>
<circle cx="272.1" cy="348.6" r="0.4" fill="#1b5e22" opacity="0.6"/>
<circle cx="266.5" cy="333.9" r="0.7" fill="#1b5e22" opacity="0.6"/>
<circle cx="283.8" cy="320.7" r="0.4" fill="#33b844" opacity="0.6"/>
<circle cx="285.1" cy="343.0" r="0.7" fill="#33b844" opacity="0.6"/>
<circle cx="287.7" cy="341.9" r="0.7" fill="#238a30" opacity="0.6"/>
<circle cx="286.9" cy="346.4" r="0.5" fill="#238a30" opacity="0.6"/>
<circle cx="285.0" cy="348.8" r="0.6" fill="#1b5e22" opacity="0.6"/>
<circle cx="291.7" cy="350.4" r="0.5" fill="#1b5e22" opacity="0.6"/>
<circle cx="299.3" cy="350.8" r="0.7" fill="#2aa03a" opacity="0.6"/>
<circle cx="280.6" cy="323.5" r="0.4" fill="#238a30" opacity="0.6"/>
<circle cx="279.1" cy="337.0" r="0.4" fill="#238a30" opacity="0.6"/>
<circle cx="302.2" cy="337.2" r="0.4" fill="#33b844" opacity="0.6"/>
<circle cx="267.0" cy="325.1" r="0.7" fill="#33b844" opacity="0.6"/>
<circle cx="273.5" cy="335.6" r="0.6" fill="#33b844" opacity="0.6"/>
<circle cx="301.5" cy="349.7" r="0.6" fill="#1f7a2a" opacity="0.6"/>
<circle cx="271.2" cy="339.6" r="0.6" fill="#2aa03a" opacity="0.6"/>
<circle cx="269.6" cy="320.2" r="0.6" fill="#1b5e22" opacity="0.6"/>
<circle cx="284.3" cy="338.4" r="0.6" fill="#2aa03a" opacity="0.6"/>
<circle cx="290.0" cy="346.2" r="0.5" fill="#238a30" opacity="0.6"/>
<circle cx="290.3" cy="336.7" r="0.5" fill="#2aa03a" opacity="0.6"/>
<circle cx="270.7" cy="339.1" r="0.5" fill="#2aa03a" opacity="0.6"/>
<ellipse cx="266.8" cy="339.4" rx="3.2" ry="3.8" fill="#2a9636" filter="url(#bl1)"/><ellipse cx="266.6" cy="339.4" rx="1.5" ry="1.6" fill="#55c852" filter="url(#bl05)"/>
<ellipse cx="300.5" cy="334.7" rx="2.2" ry="2.2" fill="#268a32" filter="url(#bl1)"/><ellipse cx="300.5" cy="334.7" rx="1.0" ry="1.0" fill="#50c04e" filter="url(#bl05)"/>
<circle cx="278.4" cy="321.6" r="0.9" fill="#5ccf5a"/><circle cx="273.5" cy="336.2" r="0.9" fill="#4fc44f"/>
</svg>
<rect x="308.00" y="319.80" width="42.70" height="31.90" fill="#0f1a10" />
<rect x="308.4" y="320.2" width="41.9" height="31.1" fill="none" stroke="#060806" stroke-width="0.8"/>
<svg x="263.1" y="354.2" width="42.6" height="31.8" viewBox="263.1 354.2 42.6 31.8">
<rect x="263.10" y="354.20" width="42.60" height="31.80" fill="#aeafab" />
<ellipse cx="280" cy="378" rx="22" ry="9" fill="#c4c5c2" filter="url(#bl2)"/>
<circle cx="276.4" cy="359.3" r="0.7" fill="#55504a" opacity="0.4"/>
<circle cx="300.8" cy="362.1" r="0.7" fill="#55504a" opacity="0.4"/>
<circle cx="296.9" cy="366.0" r="0.4" fill="#55504a" opacity="0.4"/>
<circle cx="275.5" cy="356.3" r="0.4" fill="#55504a" opacity="0.4"/>
<circle cx="274.4" cy="372.3" r="0.5" fill="#55504a" opacity="0.4"/>
<circle cx="275.7" cy="363.2" r="0.4" fill="#55504a" opacity="0.4"/>
<circle cx="285.9" cy="359.9" r="0.4" fill="#55504a" opacity="0.4"/>
<circle cx="300.3" cy="360.7" r="0.4" fill="#55504a" opacity="0.4"/>
<circle cx="287.3" cy="363.1" r="0.7" fill="#55504a" opacity="0.4"/>
<circle cx="283.5" cy="363.2" r="0.4" fill="#55504a" opacity="0.4"/>
<circle cx="287.9" cy="364.9" r="0.4" fill="#55504a" opacity="0.4"/>
<circle cx="292.3" cy="364.3" r="0.4" fill="#55504a" opacity="0.4"/>
<circle cx="281.4" cy="377.4" r="0.7" fill="#55504a" opacity="0.4"/>
<circle cx="296.0" cy="360.1" r="0.4" fill="#55504a" opacity="0.4"/>
<circle cx="299.8" cy="362.2" r="0.5" fill="#55504a" opacity="0.4"/>
<circle cx="284.4" cy="369.5" r="0.4" fill="#55504a" opacity="0.4"/>
<circle cx="293.5" cy="363.5" r="0.5" fill="#55504a" opacity="0.4"/>
<circle cx="283.1" cy="371.4" r="0.4" fill="#55504a" opacity="0.4"/>
<circle cx="275.4" cy="360.6" r="0.4" fill="#55504a" opacity="0.4"/>
<circle cx="280.9" cy="373.6" r="0.5" fill="#55504a" opacity="0.4"/>
<circle cx="285.1" cy="362.0" r="0.5" fill="#55504a" opacity="0.4"/>
<circle cx="286.1" cy="363.4" r="0.4" fill="#55504a" opacity="0.4"/>
<circle cx="295.0" cy="363.5" r="0.5" fill="#55504a" opacity="0.4"/>
<circle cx="302.7" cy="366.0" r="0.5" fill="#55504a" opacity="0.4"/>
<circle cx="274.7" cy="371.7" r="0.5" fill="#55504a" opacity="0.4"/>
<circle cx="292.4" cy="365.9" r="0.4" fill="#55504a" opacity="0.4"/>
<circle cx="292.0" cy="367.6" r="0.5" fill="#55504a" opacity="0.4"/>
<circle cx="282.3" cy="368.9" r="0.7" fill="#55504a" opacity="0.4"/>
<circle cx="286.9" cy="370.6" r="0.7" fill="#55504a" opacity="0.4"/>
<circle cx="286.8" cy="356.1" r="0.5" fill="#55504a" opacity="0.4"/>
<circle cx="308.2" cy="367.8" r="0.4" fill="#55504a" opacity="0.4"/>
<circle cx="289.8" cy="370.8" r="0.5" fill="#55504a" opacity="0.4"/>
<circle cx="294.1" cy="362.8" r="0.7" fill="#55504a" opacity="0.4"/>
<circle cx="279.5" cy="363.8" r="0.5" fill="#55504a" opacity="0.4"/>
<circle cx="281.4" cy="373.4" r="0.7" fill="#55504a" opacity="0.4"/>
<circle cx="295.2" cy="371.2" r="0.5" fill="#55504a" opacity="0.4"/>
<circle cx="288.5" cy="366.3" r="0.7" fill="#55504a" opacity="0.4"/>
<circle cx="278.0" cy="363.9" r="0.4" fill="#55504a" opacity="0.4"/>
<circle cx="286.5" cy="360.4" r="0.5" fill="#55504a" opacity="0.4"/>
<circle cx="277.9" cy="366.4" r="0.4" fill="#55504a" opacity="0.4"/>
<circle cx="299.7" cy="364.1" r="0.5" fill="#55504a" opacity="0.4"/>
<circle cx="283.9" cy="367.9" r="0.7" fill="#55504a" opacity="0.4"/>
<circle cx="282.6" cy="364.0" r="0.5" fill="#55504a" opacity="0.4"/>
<circle cx="294.5" cy="368.3" r="0.4" fill="#55504a" opacity="0.4"/>
<circle cx="295.8" cy="366.9" r="0.4" fill="#55504a" opacity="0.4"/>
<circle cx="254.2" cy="370.5" r="0.4" fill="#55504a" opacity="0.4"/>
<circle cx="296.8" cy="364.2" r="0.5" fill="#55504a" opacity="0.4"/>
<circle cx="284.0" cy="360.9" r="0.5" fill="#55504a" opacity="0.4"/>
<circle cx="284.7" cy="369.9" r="0.4" fill="#55504a" opacity="0.4"/>
<circle cx="299.7" cy="371.0" r="0.7" fill="#55504a" opacity="0.4"/>
<circle cx="299.2" cy="363.2" r="0.5" fill="#55504a" opacity="0.4"/>
<circle cx="290.8" cy="362.7" r="0.5" fill="#55504a" opacity="0.4"/>
<circle cx="284.8" cy="373.6" r="0.7" fill="#55504a" opacity="0.4"/>
<circle cx="276.8" cy="371.7" r="0.5" fill="#55504a" opacity="0.4"/>
<circle cx="282.5" cy="358.1" r="0.5" fill="#55504a" opacity="0.4"/>
<circle cx="277.8" cy="370.9" r="0.5" fill="#55504a" opacity="0.4"/>
<circle cx="290.6" cy="361.6" r="0.7" fill="#55504a" opacity="0.4"/>
<circle cx="282.2" cy="352.7" r="0.5" fill="#55504a" opacity="0.4"/>
<circle cx="280.0" cy="359.7" r="0.4" fill="#55504a" opacity="0.4"/>
<circle cx="271.7" cy="366.4" r="0.5" fill="#55504a" opacity="0.4"/>
<circle cx="282.3" cy="360.1" r="0.7" fill="#55504a" opacity="0.4"/>
<circle cx="277.3" cy="357.9" r="0.5" fill="#55504a" opacity="0.4"/>
<circle cx="285.8" cy="369.6" r="0.5" fill="#55504a" opacity="0.4"/>
<circle cx="276.8" cy="372.8" r="0.7" fill="#55504a" opacity="0.4"/>
<circle cx="278.9" cy="366.5" r="0.5" fill="#55504a" opacity="0.4"/>
<circle cx="276.0" cy="364.3" r="0.4" fill="#55504a" opacity="0.4"/>
<circle cx="289.7" cy="369.5" r="0.5" fill="#55504a" opacity="0.4"/>
<circle cx="286.3" cy="367.0" r="0.7" fill="#55504a" opacity="0.4"/>
<circle cx="286.3" cy="362.0" r="0.7" fill="#55504a" opacity="0.4"/>
<circle cx="266.0" cy="363.8" r="0.5" fill="#55504a" opacity="0.4"/>
<g filter="url(#bl05)"><ellipse cx="290.8" cy="358.2" rx="2.8800000000000003" ry="2.2399999999999998" fill="#4a443e" opacity="0.8"/>
<circle cx="292.97" cy="360.09" r="0.78" fill="#3e3832"/>
<circle cx="293.05" cy="359.80" r="0.64" fill="#3e3832"/>
<circle cx="291.01" cy="357.54" r="0.41" fill="#3e3832"/>
<circle cx="288.01" cy="359.18" r="0.40" fill="#3e3832"/>
<circle cx="290.48" cy="360.64" r="0.70" fill="#2a2420"/>
<circle cx="291.16" cy="358.00" r="0.41" fill="#5a544e"/>
<circle cx="294.13" cy="358.35" r="0.74" fill="#3e3832"/>
<circle cx="290.43" cy="356.31" r="0.78" fill="#3e3832"/>
<circle cx="289.00" cy="357.72" r="0.74" fill="#3e3832"/>
<circle cx="294.09" cy="357.41" r="0.61" fill="#5a544e"/>
<circle cx="291.60" cy="357.87" r="0.71" fill="#5a544e"/>
<circle cx="291.45" cy="357.59" r="0.57" fill="#5a544e"/>
<circle cx="293.14" cy="357.89" r="0.88" fill="#5a544e"/>
<circle cx="292.16" cy="356.27" r="0.55" fill="#5a544e"/>
<circle cx="293.14" cy="357.89" r="0.87" fill="#3e3832"/>
<circle cx="290.40" cy="358.00" r="0.52" fill="#3e3832"/>
<circle cx="289.72" cy="358.70" r="0.67" fill="#5a544e"/>
<circle cx="291.28" cy="355.90" r="0.44" fill="#5a544e"/>
<circle cx="287.71" cy="358.07" r="0.66" fill="#3e3832"/>
<circle cx="288.75" cy="359.89" r="0.63" fill="#3e3832"/>
<circle cx="289.77" cy="355.55" r="0.70" fill="#3e3832"/>
<circle cx="290.05" cy="357.43" r="0.51" fill="#2a2420"/>
<circle cx="291.12" cy="356.28" r="0.83" fill="#2a2420"/>
<circle cx="289.23" cy="359.03" r="0.82" fill="#3e3832"/>
<circle cx="289.22" cy="358.52" r="0.67" fill="#5a544e"/>
<circle cx="293.91" cy="358.29" r="0.81" fill="#5a544e"/>
<circle cx="289.75" cy="358.14" r="0.79" fill="#2a2420"/>
<circle cx="290.23" cy="358.42" r="0.84" fill="#5a544e"/>
<circle cx="287.53" cy="357.30" r="0.61" fill="#3e3832"/>
<circle cx="290.74" cy="358.23" r="0.67" fill="#5a544e"/>
<circle cx="289.51" cy="360.00" r="0.80" fill="#5a544e"/>
<circle cx="291.95" cy="360.02" r="0.83" fill="#5a544e"/>
<circle cx="291.73" cy="355.83" r="0.53" fill="#5a544e"/>
<circle cx="293.79" cy="359.30" r="0.63" fill="#3e3832"/>
<circle cx="290.80" cy="358.94" r="0.71" fill="#3e3832"/>
<circle cx="290.49" cy="359.13" r="0.53" fill="#2a2420"/>
<circle cx="289.26" cy="356.40" r="0.55" fill="#5a544e"/>
<circle cx="289.79" cy="359.81" r="0.41" fill="#3e3832"/>
<circle cx="289.06" cy="360.23" r="0.53" fill="#3e3832"/>
<circle cx="292.74" cy="357.10" r="0.50" fill="#5a544e"/>
</g>
<g filter="url(#bl05)"><ellipse cx="302.5" cy="369.6" rx="2.72" ry="3.04" fill="#4a443e" opacity="0.8"/>
<circle cx="305.67" cy="368.60" r="0.43" fill="#2a2420"/>
<circle cx="301.75" cy="370.60" r="0.80" fill="#3e3832"/>
<circle cx="302.49" cy="371.10" r="0.42" fill="#5a544e"/>
<circle cx="303.62" cy="371.52" r="0.60" fill="#5a544e"/>
<circle cx="303.95" cy="367.65" r="0.59" fill="#3e3832"/>
<circle cx="299.31" cy="369.55" r="0.84" fill="#3e3832"/>
<circle cx="300.83" cy="370.02" r="0.59" fill="#5a544e"/>
<circle cx="303.12" cy="370.76" r="0.52" fill="#2a2420"/>
<circle cx="302.03" cy="370.63" r="0.66" fill="#5a544e"/>
<circle cx="301.94" cy="368.38" r="0.85" fill="#3e3832"/>
<circle cx="302.19" cy="366.03" r="0.78" fill="#5a544e"/>
<circle cx="300.46" cy="372.59" r="0.88" fill="#2a2420"/>
<circle cx="304.38" cy="368.99" r="0.77" fill="#5a544e"/>
<circle cx="300.32" cy="369.13" r="0.86" fill="#5a544e"/>
<circle cx="299.55" cy="369.28" r="0.73" fill="#3e3832"/>
<circle cx="304.23" cy="368.19" r="0.68" fill="#5a544e"/>
<circle cx="302.14" cy="367.17" r="0.51" fill="#3e3832"/>
<circle cx="303.71" cy="366.47" r="0.84" fill="#5a544e"/>
<circle cx="302.13" cy="373.17" r="0.55" fill="#5a544e"/>
<circle cx="303.67" cy="367.25" r="0.65" fill="#5a544e"/>
<circle cx="301.06" cy="368.61" r="0.50" fill="#5a544e"/>
<circle cx="300.69" cy="371.85" r="0.84" fill="#3e3832"/>
<circle cx="302.02" cy="366.06" r="0.50" fill="#5a544e"/>
<circle cx="304.42" cy="371.29" r="0.42" fill="#5a544e"/>
<circle cx="302.96" cy="373.07" r="0.45" fill="#5a544e"/>
<circle cx="303.50" cy="370.90" r="0.81" fill="#2a2420"/>
<circle cx="300.04" cy="371.05" r="0.42" fill="#3e3832"/>
<circle cx="301.56" cy="370.87" r="0.41" fill="#2a2420"/>
<circle cx="302.86" cy="369.48" r="0.76" fill="#2a2420"/>
<circle cx="301.81" cy="370.39" r="0.87" fill="#5a544e"/>
<circle cx="303.60" cy="372.39" r="0.59" fill="#2a2420"/>
<circle cx="302.90" cy="368.02" r="0.89" fill="#2a2420"/>
<circle cx="301.08" cy="371.96" r="0.77" fill="#2a2420"/>
<circle cx="302.00" cy="372.01" r="0.55" fill="#5a544e"/>
<circle cx="302.78" cy="366.44" r="0.85" fill="#3e3832"/>
<circle cx="304.29" cy="367.26" r="0.64" fill="#2a2420"/>
<circle cx="304.76" cy="371.28" r="0.82" fill="#2a2420"/>
<circle cx="299.53" cy="370.73" r="0.46" fill="#5a544e"/>
<circle cx="302.93" cy="367.18" r="0.56" fill="#3e3832"/>
<circle cx="302.36" cy="372.41" r="0.61" fill="#2a2420"/>
</g>
<g filter="url(#bl05)"><ellipse cx="266.8" cy="374.1" rx="2.8800000000000003" ry="3.04" fill="#4a443e" opacity="0.8"/>
<circle cx="266.99" cy="376.73" r="0.58" fill="#5a544e"/>
<circle cx="264.24" cy="374.55" r="0.70" fill="#3e3832"/>
<circle cx="266.71" cy="375.69" r="0.90" fill="#3e3832"/>
<circle cx="264.37" cy="373.42" r="0.60" fill="#2a2420"/>
<circle cx="266.93" cy="375.32" r="0.86" fill="#3e3832"/>
<circle cx="266.64" cy="371.11" r="0.43" fill="#5a544e"/>
<circle cx="269.79" cy="374.97" r="0.81" fill="#3e3832"/>
<circle cx="263.89" cy="374.63" r="0.84" fill="#5a544e"/>
<circle cx="267.31" cy="371.88" r="0.76" fill="#5a544e"/>
<circle cx="263.55" cy="375.35" r="0.84" fill="#2a2420"/>
<circle cx="269.10" cy="374.66" r="0.53" fill="#5a544e"/>
<circle cx="264.30" cy="375.22" r="0.55" fill="#5a544e"/>
<circle cx="268.09" cy="371.74" r="0.67" fill="#3e3832"/>
<circle cx="263.87" cy="372.29" r="0.74" fill="#2a2420"/>
<circle cx="269.02" cy="371.13" r="0.74" fill="#2a2420"/>
<circle cx="266.22" cy="372.26" r="0.67" fill="#5a544e"/>
<circle cx="264.13" cy="372.79" r="0.51" fill="#5a544e"/>
<circle cx="266.69" cy="375.18" r="0.64" fill="#5a544e"/>
<circle cx="267.64" cy="374.04" r="0.80" fill="#3e3832"/>
<circle cx="267.08" cy="373.88" r="0.61" fill="#3e3832"/>
<circle cx="267.19" cy="373.68" r="0.71" fill="#2a2420"/>
<circle cx="264.92" cy="376.02" r="0.68" fill="#3e3832"/>
<circle cx="263.21" cy="373.97" r="0.55" fill="#2a2420"/>
<circle cx="268.73" cy="375.74" r="0.87" fill="#3e3832"/>
<circle cx="266.38" cy="375.75" r="0.74" fill="#3e3832"/>
<circle cx="265.43" cy="377.51" r="0.85" fill="#3e3832"/>
<circle cx="264.43" cy="376.54" r="0.59" fill="#5a544e"/>
<circle cx="266.41" cy="373.22" r="0.89" fill="#5a544e"/>
<circle cx="266.43" cy="376.97" r="0.76" fill="#3e3832"/>
<circle cx="265.32" cy="374.75" r="0.55" fill="#3e3832"/>
<circle cx="268.92" cy="374.26" r="0.69" fill="#2a2420"/>
<circle cx="264.93" cy="376.04" r="0.47" fill="#5a544e"/>
<circle cx="265.21" cy="372.38" r="0.74" fill="#3e3832"/>
<circle cx="265.50" cy="372.98" r="0.64" fill="#5a544e"/>
<circle cx="269.44" cy="375.22" r="0.88" fill="#3e3832"/>
<circle cx="265.59" cy="372.77" r="0.70" fill="#2a2420"/>
<circle cx="265.62" cy="375.53" r="0.58" fill="#5a544e"/>
<circle cx="266.52" cy="377.38" r="0.45" fill="#2a2420"/>
<circle cx="269.62" cy="373.56" r="0.47" fill="#5a544e"/>
<circle cx="267.34" cy="377.38" r="0.52" fill="#2a2420"/>
</g>
<g filter="url(#bl05)"><ellipse cx="296" cy="364.5" rx="1.4400000000000002" ry="1.1199999999999999" fill="#4a443e" opacity="0.8"/>
<circle cx="296.04" cy="364.86" r="0.60" fill="#2a2420"/>
<circle cx="296.14" cy="364.57" r="0.67" fill="#3e3832"/>
<circle cx="296.48" cy="363.37" r="0.51" fill="#5a544e"/>
<circle cx="295.01" cy="365.43" r="0.81" fill="#3e3832"/>
<circle cx="296.38" cy="365.80" r="0.81" fill="#3e3832"/>
<circle cx="296.21" cy="364.00" r="0.55" fill="#5a544e"/>
<circle cx="297.18" cy="363.49" r="0.82" fill="#3e3832"/>
<circle cx="297.14" cy="365.04" r="0.74" fill="#5a544e"/>
<circle cx="296.01" cy="365.11" r="0.54" fill="#5a544e"/>
<circle cx="296.05" cy="364.44" r="0.55" fill="#5a544e"/>
<circle cx="297.20" cy="363.65" r="0.65" fill="#3e3832"/>
<circle cx="295.24" cy="364.81" r="0.63" fill="#2a2420"/>
</g>
<g filter="url(#bl05)"><ellipse cx="275" cy="371" rx="1.1199999999999999" ry="0.96" fill="#4a443e" opacity="0.8"/>
<circle cx="274.16" cy="370.30" r="0.80" fill="#5a544e"/>
<circle cx="274.45" cy="370.33" r="0.82" fill="#2a2420"/>
<circle cx="274.22" cy="370.09" r="0.46" fill="#3e3832"/>
<circle cx="275.53" cy="370.51" r="0.45" fill="#2a2420"/>
<circle cx="275.56" cy="371.04" r="0.54" fill="#3e3832"/>
<circle cx="275.66" cy="371.88" r="0.47" fill="#5a544e"/>
<circle cx="274.61" cy="371.12" r="0.89" fill="#2a2420"/>
<circle cx="275.14" cy="371.46" r="0.89" fill="#2a2420"/>
</g>
</svg>
<svg x="308.0" y="354.2" width="42.7" height="31.8" viewBox="308.0 354.2 42.7 31.8">
<defs><radialGradient id="vg" cx="0.0" cy="0.0" r="1.45"><stop offset="0" stop-color="#aeb2b6"/><stop offset="0.7" stop-color="#9a9ea2"/><stop offset="1" stop-color="#5e6266"/></radialGradient></defs>
<rect x="308.00" y="354.20" width="42.70" height="31.80" fill="url(#vg)" />
<ellipse cx="303" cy="350" rx="42" ry="32" fill="#c4cbd2" filter="url(#bl2)"/>
<line x1="327" y1="361.5" x2="331" y2="360" stroke="#555" stroke-width="0.5"/>
</svg>
<text transform="translate(311.50,302.20)" x="0" y="3.53" font-size="9.8" text-anchor="middle" fill="#222" >AML25</text>
<text transform="translate(284.90,312.70)" x="0" y="3.53" font-size="9.8" text-anchor="middle" fill="#222" >Control</text>
<text transform="translate(329.50,312.70)" x="0" y="3.53" font-size="9.8" text-anchor="middle" fill="#222" >GADD45g</text>
<text transform="translate(375.80,289.70)" x="0" y="4.18" font-size="11.6" text-anchor="start" fill="#000" font-weight="bold" >G</text>
<line x1="417.80" y1="288.30" x2="417.80" y2="386.30" stroke="#111" stroke-width="1.2" />
<line x1="414.50" y1="385.80" x2="417.80" y2="385.80" stroke="#111" stroke-width="1.2" />
<text transform="translate(411.80,385.80)" x="0" y="2.81" font-size="7.8" text-anchor="end" fill="#383838" >0</text>
<line x1="414.50" y1="366.40" x2="417.80" y2="366.40" stroke="#111" stroke-width="1.2" />
<text transform="translate(411.80,366.40)" x="0" y="2.81" font-size="7.8" text-anchor="end" fill="#383838" >5</text>
<line x1="414.50" y1="347.00" x2="417.80" y2="347.00" stroke="#111" stroke-width="1.2" />
<text transform="translate(411.80,347.00)" x="0" y="2.81" font-size="7.8" text-anchor="end" fill="#383838" >10</text>
<line x1="414.50" y1="327.60" x2="417.80" y2="327.60" stroke="#111" stroke-width="1.2" />
<text transform="translate(411.80,327.60)" x="0" y="2.81" font-size="7.8" text-anchor="end" fill="#383838" >15</text>
<line x1="414.50" y1="308.20" x2="417.80" y2="308.20" stroke="#111" stroke-width="1.2" />
<text transform="translate(411.80,308.20)" x="0" y="2.81" font-size="7.8" text-anchor="end" fill="#383838" >20</text>
<line x1="414.50" y1="288.80" x2="417.80" y2="288.80" stroke="#111" stroke-width="1.2" />
<text transform="translate(411.80,288.80)" x="0" y="2.81" font-size="7.8" text-anchor="end" fill="#383838" >25</text>
<line x1="414.50" y1="385.80" x2="464.60" y2="385.80" stroke="#111" stroke-width="1.2" />
<rect x="423.10" y="322.56" width="17.80" height="63.24" fill="#c4122e" />
<line x1="432.00" y1="298.11" x2="432.00" y2="322.56" stroke="#222" stroke-width="1" />
<line x1="428.50" y1="298.11" x2="435.50" y2="298.11" stroke="#222" stroke-width="1" />
<rect x="440.90" y="347.00" width="18.20" height="38.80" fill="#3db54a" />
<line x1="450.00" y1="323.33" x2="450.00" y2="347.00" stroke="#222" stroke-width="1" />
<line x1="446.50" y1="323.33" x2="453.50" y2="323.33" stroke="#222" stroke-width="1" />
<line x1="431.60" y1="385.80" x2="431.60" y2="388.40" stroke="#111" stroke-width="1.15" />
<line x1="450.20" y1="385.80" x2="450.20" y2="388.40" stroke="#111" stroke-width="1.15" />
<polyline points="432.30,298.10 432.30,294.10 452.30,294.10 452.30,298.10" fill="none" stroke="#222" stroke-width="1"/>
<circle cx="442.20" cy="289.30" r="1.05" fill="#111"/>
<rect x="463.70" y="290.40" width="10.80" height="5.50" fill="#c4122e" />
<text transform="translate(476.90,293.10)" x="0" y="2.81" font-size="7.8" text-anchor="start" fill="#383838" >shCtrl</text>
<rect x="463.70" y="299.00" width="10.80" height="5.50" fill="#3db54a" />
<text transform="translate(476.90,301.70)" x="0" y="2.81" font-size="7.8" text-anchor="start" fill="#383838" >shGG</text>
<text transform="translate(440.20,399.60) scale(0.88,1)" x="0" y="3.31" font-size="9.2" text-anchor="middle" fill="#383838" >AML (n=5)</text>
<text transform="translate(394.7,337.7) rotate(-90) scale(0.86,1)" x="0" y="3.28" font-size="9.1" text-anchor="middle" fill="#383838">Annexin V<tspan font-size="5.8" dy="-3.2">+</tspan><tspan dy="3.2"> (%)</tspan></text>
<text transform="translate(12.90,418.90)" x="0" y="4.18" font-size="11.6" text-anchor="start" fill="#000" font-weight="bold" >H</text>
<line x1="54.00" y1="431.50" x2="54.00" y2="521.30" stroke="#111" stroke-width="1.2" />
<line x1="50.70" y1="520.80" x2="54.00" y2="520.80" stroke="#111" stroke-width="1.2" />
<text transform="translate(48.00,520.80)" x="0" y="2.81" font-size="7.8" text-anchor="end" fill="#383838" >0</text>
<line x1="50.70" y1="503.04" x2="54.00" y2="503.04" stroke="#111" stroke-width="1.2" />
<text transform="translate(48.00,503.04)" x="0" y="2.81" font-size="7.8" text-anchor="end" fill="#383838" >200</text>
<line x1="50.70" y1="485.28" x2="54.00" y2="485.28" stroke="#111" stroke-width="1.2" />
<text transform="translate(48.00,485.28)" x="0" y="2.81" font-size="7.8" text-anchor="end" fill="#383838" >400</text>
<line x1="50.70" y1="467.52" x2="54.00" y2="467.52" stroke="#111" stroke-width="1.2" />
<text transform="translate(48.00,467.52)" x="0" y="2.81" font-size="7.8" text-anchor="end" fill="#383838" >600</text>
<line x1="50.70" y1="449.76" x2="54.00" y2="449.76" stroke="#111" stroke-width="1.2" />
<text transform="translate(48.00,449.76)" x="0" y="2.81" font-size="7.8" text-anchor="end" fill="#383838" >800</text>
<line x1="50.70" y1="432.00" x2="54.00" y2="432.00" stroke="#111" stroke-width="1.2" />
<text transform="translate(48.00,432.00)" x="0" y="2.81" font-size="7.8" text-anchor="end" fill="#383838" >1000</text>
<line x1="50.70" y1="520.80" x2="117.50" y2="520.80" stroke="#111" stroke-width="1.2" />
<rect x="60.30" y="503.93" width="10.50" height="16.87" fill="#115282" />
<line x1="65.55" y1="501.97" x2="65.55" y2="503.93" stroke="#c4122e" stroke-width="1" />
<line x1="62.45" y1="501.97" x2="68.65" y2="501.97" stroke="#c4122e" stroke-width="1" />
<rect x="70.80" y="485.72" width="11.50" height="35.08" fill="#c4122e" />
<line x1="76.50" y1="481.28" x2="76.50" y2="485.72" stroke="#115282" stroke-width="1" />
<line x1="73.40" y1="481.28" x2="79.60" y2="481.28" stroke="#115282" stroke-width="1" />
<line x1="70.80" y1="520.80" x2="70.80" y2="523.40" stroke="#111" stroke-width="1.15" />
<rect x="89.10" y="511.03" width="10.50" height="9.77" fill="#115282" />
<line x1="94.35" y1="509.08" x2="94.35" y2="511.03" stroke="#c4122e" stroke-width="1" />
<line x1="91.25" y1="509.08" x2="97.45" y2="509.08" stroke="#c4122e" stroke-width="1" />
<rect x="99.60" y="455.98" width="11.50" height="64.82" fill="#c4122e" />
<line x1="105.30" y1="445.76" x2="105.30" y2="455.98" stroke="#115282" stroke-width="1" />
<line x1="102.20" y1="445.76" x2="108.40" y2="445.76" stroke="#115282" stroke-width="1" />
<line x1="99.60" y1="520.80" x2="99.60" y2="523.40" stroke="#111" stroke-width="1.15" />
<polyline points="60.50,477.00 60.50,472.00 77.50,472.00 77.50,477.00" fill="none" stroke="#222" stroke-width="1"/>
<circle cx="67.35" cy="468.80" r="1.05" fill="#111"/>
<circle cx="70.65" cy="468.80" r="1.05" fill="#111"/>
<polyline points="90.50,442.00 90.50,437.00 105.80,437.00 105.80,442.00" fill="none" stroke="#222" stroke-width="1"/>
<circle cx="94.85" cy="433.80" r="1.05" fill="#111"/>
<circle cx="98.15" cy="433.80" r="1.05" fill="#111"/>
<circle cx="101.45" cy="433.80" r="1.05" fill="#111"/>
<rect x="56.30" y="429.50" width="10.00" height="4.80" fill="#115282" />
<text transform="translate(68.00,431.90)" x="0" y="2.81" font-size="7.8" text-anchor="start" fill="#383838" >Dox–</text>
<rect x="56.30" y="438.00" width="10.00" height="4.50" fill="#c4122e" />
<text transform="translate(68.00,440.30)" x="0" y="2.81" font-size="7.8" text-anchor="start" fill="#383838" >Dox+</text>
<text transform="translate(22.6,475.9) rotate(-90) scale(0.78,1)" x="0" y="3.24" font-size="9" text-anchor="middle" fill="#383838">MFI</text>
<text transform="translate(73,527.5) rotate(-45)" x="0" y="2.8" font-size="8" text-anchor="end" fill="#383838">CD11b</text>
<text transform="translate(101.8,527.5) rotate(-45)" x="0" y="2.8" font-size="8" text-anchor="end" fill="#383838">CD14</text>
<line x1="144.40" y1="431.50" x2="162.60" y2="431.50" stroke="#111" stroke-width="1.2" />
<text transform="translate(167.00,431.50)" x="0" y="2.74" font-size="7.6" text-anchor="start" fill="#383838" >Unstained control</text>
<line x1="144.40" y1="445.80" x2="162.60" y2="445.80" stroke="#115282" stroke-width="1.2" />
<text transform="translate(167.00,445.80)" x="0" y="2.74" font-size="7.6" text-anchor="start" fill="#383838" >Dox–</text>
<line x1="195.40" y1="445.80" x2="213.60" y2="445.80" stroke="#c4122e" stroke-width="1.2" />
<text transform="translate(217.50,445.80)" x="0" y="2.74" font-size="7.6" text-anchor="start" fill="#383838" >Dox+</text>
<polyline points="147.75,519.06 148.38,508.65 149.02,508.09 149.65,510.06 150.29,511.74 150.92,509.74 151.55,507.34 152.19,503.99 152.82,500.88 153.46,496.39 154.09,491.55 154.72,486.77 155.36,483.35 155.99,479.68 156.62,476.67 157.26,473.93 157.89,472.01 158.53,470.75 159.16,472.77 159.79,474.31 160.43,474.97 161.06,476.26 161.70,478.31 162.33,479.38 162.96,481.62 163.60,483.42 164.23,484.60 164.87,487.68 165.50,489.93 166.13,492.93 166.77,495.69 167.40,497.38 168.03,500.04 168.67,500.55 169.30,500.82 169.94,502.79 170.57,505.10 171.20,505.07 171.84,506.72 172.47,508.30 173.11,509.20 173.74,510.46 174.37,511.38 175.01,513.25 175.64,512.91 176.28,513.92 176.91,516.28 177.54,515.74 178.18,516.52 178.81,517.74 179.44,518.18 180.08,518.71 180.71,519.17 181.35,519.64 181.98,520.10 182.61,520.10 183.25,520.10 183.88,520.10 184.52,520.10 185.15,520.10 185.78,520.10 186.42,520.10 187.05,520.10 187.69,520.10 188.32,520.10 188.95,520.10 189.59,520.10 190.22,520.10 190.85,520.10 191.49,520.10 192.12,520.10 192.76,520.10 193.39,520.10 194.02,520.10 194.66,520.10 195.29,520.10 195.93,520.10 196.56,520.10 197.19,520.10 197.83,520.10 198.46,520.10 199.10,520.10 199.73,520.10 200.36,520.10 201.00,520.10 201.63,520.10 202.26,520.10 202.90,520.10 203.53,520.10 204.17,520.10 204.80,520.10" fill="none" stroke="#c4122e" stroke-width="1.3" stroke-linejoin="round"/>
<polyline points="147.75,520.10 148.38,516.14 149.02,515.24 149.65,514.15 150.29,511.00 150.92,506.63 151.55,501.41 152.19,495.67 152.82,488.23 153.46,482.07 154.09,475.77 154.72,472.55 155.36,470.69 155.99,472.54 156.62,476.41 157.26,480.69 157.89,485.65 158.53,488.81 159.16,492.05 159.79,495.70 160.43,497.03 161.06,498.67 161.70,501.62 162.33,503.45 162.96,506.19 163.60,508.37 164.23,510.25 164.87,510.97 165.50,512.91 166.13,513.52 166.77,514.22 167.40,515.27 168.03,515.65 168.67,516.53 169.30,516.44 169.94,517.14 170.57,516.96 171.20,517.35 171.84,518.47 172.47,518.61 173.11,518.71 173.74,518.59 174.37,518.77 175.01,518.95 175.64,519.14 176.28,519.32 176.91,519.43 177.54,519.53 178.18,519.64 178.81,519.75 179.44,519.86 180.08,519.97 180.71,520.08 181.35,520.10 181.98,520.10 182.61,520.10 183.25,520.10 183.88,520.10 184.52,520.10 185.15,520.10 185.78,520.10 186.42,520.10 187.05,520.10 187.69,520.10 188.32,520.10 188.95,520.10 189.59,520.10 190.22,520.10 190.85,520.10 191.49,520.10 192.12,520.10 192.76,520.10 193.39,520.10 194.02,520.10 194.66,520.10 195.29,520.10 195.93,520.10 196.56,520.10 197.19,520.10 197.83,520.10 198.46,520.10 199.10,520.10 199.73,520.10 200.36,520.10 201.00,520.10 201.63,520.10 202.26,520.10 202.90,520.10 203.53,520.10 204.17,520.10 204.80,520.10" fill="none" stroke="#115282" stroke-width="1.3" stroke-linejoin="round"/>
<line x1="158.02" y1="499.22" x2="201.38" y2="499.22" stroke="#999" stroke-width="1.1" />
<rect x="147.75" y="466.4" width="57.05000000000001" height="53.700000000000045" fill="none" stroke="#111" stroke-width="1.35"/>
<line x1="146.15" y1="520.10" x2="147.75" y2="520.10" stroke="#111" stroke-width="0.8" />
<text transform="translate(145.95,520.10)" x="0" y="2.23" font-size="6.2" text-anchor="end" fill="#383838" >0</text>
<line x1="146.15" y1="509.66" x2="147.75" y2="509.66" stroke="#111" stroke-width="0.8" />
<text transform="translate(145.95,509.66)" x="0" y="2.23" font-size="6.2" text-anchor="end" fill="#383838" >20</text>
<line x1="146.15" y1="499.22" x2="147.75" y2="499.22" stroke="#111" stroke-width="0.8" />
<text transform="translate(145.95,499.22)" x="0" y="2.23" font-size="6.2" text-anchor="end" fill="#383838" >40</text>
<line x1="146.15" y1="488.78" x2="147.75" y2="488.78" stroke="#111" stroke-width="0.8" />
<text transform="translate(145.95,488.78)" x="0" y="2.23" font-size="6.2" text-anchor="end" fill="#383838" >60</text>
<line x1="146.15" y1="478.34" x2="147.75" y2="478.34" stroke="#111" stroke-width="0.8" />
<text transform="translate(145.95,478.34)" x="0" y="2.23" font-size="6.2" text-anchor="end" fill="#383838" >80</text>
<line x1="146.15" y1="467.90" x2="147.75" y2="467.90" stroke="#111" stroke-width="0.8" />
<text transform="translate(145.95,467.90)" x="0" y="2.23" font-size="6.2" text-anchor="end" fill="#383838" >100</text>
<line x1="147.75" y1="520.10" x2="147.75" y2="521.70" stroke="#111" stroke-width="0.8" />
<text transform="translate(147.75,520.1) translate(1.5,2.5) rotate(-45)" x="0" y="2" font-size="6" text-anchor="end" fill="#383838">0</text>
<line x1="159.16" y1="520.10" x2="159.16" y2="521.70" stroke="#111" stroke-width="0.8" />
<text transform="translate(159.16,520.1) translate(1.5,2.5) rotate(-45)" x="0" y="2" font-size="6" text-anchor="end" fill="#383838">50K</text>
<line x1="170.57" y1="520.10" x2="170.57" y2="521.70" stroke="#111" stroke-width="0.8" />
<text transform="translate(170.57,520.1) translate(1.5,2.5) rotate(-45)" x="0" y="2" font-size="6" text-anchor="end" fill="#383838">100K</text>
<line x1="181.98" y1="520.10" x2="181.98" y2="521.70" stroke="#111" stroke-width="0.8" />
<text transform="translate(181.98000000000002,520.1) translate(1.5,2.5) rotate(-45)" x="0" y="2" font-size="6" text-anchor="end" fill="#383838">150K</text>
<line x1="193.39" y1="520.10" x2="193.39" y2="521.70" stroke="#111" stroke-width="0.8" />
<text transform="translate(193.39000000000001,520.1) translate(1.5,2.5) rotate(-45)" x="0" y="2" font-size="6" text-anchor="end" fill="#383838">200K</text>
<line x1="204.80" y1="520.10" x2="204.80" y2="521.70" stroke="#111" stroke-width="0.8" />
<text transform="translate(204.8,520.1) translate(1.5,2.5) rotate(-45)" x="0" y="2" font-size="6" text-anchor="end" fill="#383838">250K</text>
<text transform="translate(176.90,544.00) scale(0.86,1)" x="0" y="3.24" font-size="9" text-anchor="middle" fill="#383838" >SSC</text>
<text transform="translate(125.1,493.6) rotate(-90) scale(0.86,1)" x="0" y="3.28" font-size="9.1" text-anchor="middle" fill="#383838">% Max</text>
<line x1="131.90" y1="470.60" x2="131.90" y2="519.20" stroke="#000" stroke-width="1" />
<polygon points="129.9,471.1 133.9,471.1 131.9,466.6" fill="#000"/>
<polyline points="222.90,520.10 223.84,520.10 224.78,520.10 225.72,516.19 226.65,509.66 227.59,501.78 228.53,488.51 229.47,475.23 230.41,484.92 231.34,496.61 232.28,505.31 233.22,514.01 234.16,518.36 235.10,519.81 236.04,520.10 236.97,520.10 237.91,520.10 238.85,520.10 239.79,520.10 240.73,520.10 241.67,520.10 242.60,520.10 243.54,520.10 244.48,520.10 245.42,520.10 246.36,520.10 247.30,520.10 248.24,520.10 249.17,520.10 250.11,520.10 251.05,520.10 251.99,520.10 252.93,520.10 253.87,520.10 254.80,520.10 255.74,520.10 256.68,520.10 257.62,520.10 258.56,520.10 259.50,520.10 260.43,520.10 261.37,520.10 262.31,520.10 263.25,520.10 264.19,520.10 265.12,520.10 266.06,520.10 267.00,520.10 267.94,520.10 268.88,520.10 269.82,520.10 270.75,520.10 271.69,520.10 272.63,520.10 273.57,520.10 274.51,520.10 275.45,520.10 276.38,520.10 277.32,520.10 278.26,520.10 279.20,520.10" fill="none" stroke="#111" stroke-width="1.3" stroke-linejoin="round"/>
<polyline points="222.90,520.10 223.53,520.10 224.15,520.10 224.78,520.10 225.40,520.10 226.03,519.75 226.65,519.06 227.28,518.91 227.90,518.49 228.53,517.19 229.16,516.06 229.78,514.63 230.41,512.30 231.03,509.60 231.66,507.58 232.28,504.76 232.91,502.99 233.53,499.43 234.16,497.08 234.79,494.16 235.41,491.17 236.04,487.81 236.66,483.19 237.29,480.90 237.91,479.09 238.54,477.25 239.16,476.66 239.79,474.56 240.42,473.38 241.04,472.65 241.67,471.88 242.29,471.31 242.92,474.04 243.54,474.12 244.17,475.14 244.79,477.46 245.42,480.32 246.05,481.88 246.67,484.65 247.30,484.04 247.92,485.35 248.55,487.17 249.17,488.76 249.80,488.51 250.42,490.22 251.05,490.59 251.68,492.98 252.30,496.01 252.93,498.53 253.55,500.46 254.18,503.13 254.80,506.02 255.43,508.04 256.05,509.30 256.68,513.22 257.31,514.61 257.93,514.79 258.56,516.90 259.18,517.77 259.81,518.97 260.43,519.84 261.06,520.10 261.68,520.10 262.31,520.10 262.94,520.10 263.56,520.10 264.19,520.10 264.81,520.10 265.44,520.10 266.06,520.10 266.69,520.10 267.31,520.10 267.94,520.10 268.57,520.10 269.19,520.10 269.82,520.10 270.44,520.10 271.07,520.10 271.69,520.10 272.32,520.10 272.94,520.10 273.57,520.10 274.20,520.10 274.82,520.10 275.45,520.10 276.07,520.10 276.70,520.10 277.32,520.10 277.95,520.10 278.57,520.10 279.20,520.10" fill="none" stroke="#115282" stroke-width="1.3" stroke-linejoin="round"/>
<polyline points="222.90,519.06 223.53,519.44 224.15,519.83 224.78,520.00 225.40,519.65 226.03,519.30 226.65,518.95 227.28,518.60 227.90,517.48 228.53,516.24 229.16,515.13 229.78,513.83 230.41,513.26 231.03,511.89 231.66,512.56 232.28,510.25 232.91,507.86 233.53,507.09 234.16,505.17 234.79,505.54 235.41,503.52 236.04,502.71 236.66,500.81 237.29,499.53 237.91,499.54 238.54,497.96 239.16,496.66 239.79,494.17 240.42,493.81 241.04,494.40 241.67,492.39 242.29,493.09 242.92,491.42 243.54,491.30 244.17,490.11 244.79,486.84 245.42,486.78 246.05,485.31 246.67,482.27 247.30,481.11 247.92,480.94 248.55,478.14 249.17,477.63 249.80,475.39 250.42,474.18 251.05,470.45 251.68,470.31 252.30,471.66 252.93,473.75 253.55,477.89 254.18,482.11 254.80,486.87 255.43,491.26 256.05,496.36 256.68,500.94 257.31,505.38 257.93,511.13 258.56,511.90 259.18,514.78 259.81,517.02 260.43,517.17 261.06,518.46 261.68,519.00 262.31,519.58 262.94,520.10 263.56,520.10 264.19,520.10 264.81,520.10 265.44,520.10 266.06,520.10 266.69,520.10 267.31,520.10 267.94,520.10 268.57,520.10 269.19,520.10 269.82,520.10 270.44,520.10 271.07,520.10 271.69,520.10 272.32,520.10 272.94,520.10 273.57,520.10 274.20,520.10 274.82,520.10 275.45,520.10 276.07,520.10 276.70,520.10 277.32,520.10 277.95,520.10 278.57,520.10 279.20,520.10" fill="none" stroke="#c4122e" stroke-width="1.3" stroke-linejoin="round"/>
<line x1="247.11" y1="499.22" x2="274.70" y2="499.22" stroke="#999" stroke-width="1.1" />
<rect x="222.9" y="466.4" width="56.29999999999998" height="53.700000000000045" fill="none" stroke="#111" stroke-width="1.35"/>
<line x1="221.30" y1="520.10" x2="222.90" y2="520.10" stroke="#111" stroke-width="0.8" />
<text transform="translate(221.10,520.10)" x="0" y="2.23" font-size="6.2" text-anchor="end" fill="#383838" >0</text>
<line x1="221.30" y1="509.66" x2="222.90" y2="509.66" stroke="#111" stroke-width="0.8" />
<text transform="translate(221.10,509.66)" x="0" y="2.23" font-size="6.2" text-anchor="end" fill="#383838" >20</text>
<line x1="221.30" y1="499.22" x2="222.90" y2="499.22" stroke="#111" stroke-width="0.8" />
<text transform="translate(221.10,499.22)" x="0" y="2.23" font-size="6.2" text-anchor="end" fill="#383838" >40</text>
<line x1="221.30" y1="488.78" x2="222.90" y2="488.78" stroke="#111" stroke-width="0.8" />
<text transform="translate(221.10,488.78)" x="0" y="2.23" font-size="6.2" text-anchor="end" fill="#383838" >60</text>
<line x1="221.30" y1="478.34" x2="222.90" y2="478.34" stroke="#111" stroke-width="0.8" />
<text transform="translate(221.10,478.34)" x="0" y="2.23" font-size="6.2" text-anchor="end" fill="#383838" >80</text>
<line x1="221.30" y1="467.90" x2="222.90" y2="467.90" stroke="#111" stroke-width="0.8" />
<text transform="translate(221.10,467.90)" x="0" y="2.23" font-size="6.2" text-anchor="end" fill="#383838" >100</text>
<line x1="228.53" y1="520.10" x2="228.53" y2="521.70" stroke="#111" stroke-width="0.8" />
<text x="228.53" y="520.1" dy="7.3" font-size="5.8" text-anchor="middle" fill="#333">0</text>
<line x1="234.72" y1="520.10" x2="234.72" y2="521.70" stroke="#111" stroke-width="0.8" />
<text x="234.723" y="520.1" dy="7.3" font-size="5.8" text-anchor="middle" fill="#333">10<tspan font-size="4" dy="-2">2</tspan></text>
<line x1="248.24" y1="520.10" x2="248.24" y2="521.70" stroke="#111" stroke-width="0.8" />
<text x="248.235" y="520.1" dy="7.3" font-size="5.8" text-anchor="middle" fill="#333">10<tspan font-size="4" dy="-2">3</tspan></text>
<line x1="261.18" y1="520.10" x2="261.18" y2="521.70" stroke="#111" stroke-width="0.8" />
<text x="261.18399999999997" y="520.1" dy="7.3" font-size="5.8" text-anchor="middle" fill="#333">10<tspan font-size="4" dy="-2">4</tspan></text>
<line x1="274.13" y1="520.10" x2="274.13" y2="521.70" stroke="#111" stroke-width="0.8" />
<text x="274.133" y="520.1" dy="7.3" font-size="5.8" text-anchor="middle" fill="#333">10<tspan font-size="4" dy="-2">5</tspan></text>
<text transform="translate(251.20,536.00) scale(0.86,1)" x="0" y="3.24" font-size="9" text-anchor="middle" fill="#383838" >CD11b</text>
<polyline points="297.80,518.90 298.75,518.90 299.69,518.90 300.64,518.90 301.59,511.38 302.53,503.85 303.48,491.72 304.43,476.53 305.37,484.50 306.32,498.26 307.27,506.21 308.21,514.17 309.16,518.13 310.11,518.90 311.05,518.90 312.00,518.90 312.95,518.90 313.89,518.90 314.84,518.90 315.79,518.90 316.73,518.90 317.68,518.90 318.63,518.90 319.57,518.90 320.52,518.90 321.47,518.90 322.41,518.90 323.36,518.90 324.31,518.90 325.25,518.90 326.20,518.90 327.15,518.90 328.09,518.90 329.04,518.90 329.99,518.90 330.93,518.90 331.88,518.90 332.83,518.90 333.77,518.90 334.72,518.90 335.67,518.90 336.61,518.90 337.56,518.90 338.51,518.90 339.45,518.90 340.40,518.90 341.35,518.90 342.29,518.90 343.24,518.90 344.19,518.90 345.13,518.90 346.08,518.90 347.03,518.90 347.97,518.90 348.92,518.90 349.87,518.90 350.81,518.90 351.76,518.90 352.71,518.90 353.65,518.90 354.60,518.90" fill="none" stroke="#111" stroke-width="1.3" stroke-linejoin="round"/>
<polyline points="297.80,518.90 298.43,518.90 299.06,518.90 299.69,518.90 300.32,518.90 300.96,518.90 301.59,518.90 302.22,518.90 302.85,518.90 303.48,518.90 304.11,518.90 304.74,518.90 305.37,518.90 306.00,518.90 306.64,518.90 307.27,518.90 307.90,518.90 308.53,518.90 309.16,518.90 309.79,518.90 310.42,518.86 311.05,518.64 311.68,518.43 312.32,518.21 312.95,518.00 313.58,517.78 314.21,517.57 314.84,517.35 315.47,515.75 316.10,514.56 316.73,513.94 317.36,513.13 318.00,512.39 318.63,508.84 319.26,505.70 319.89,501.81 320.52,498.97 321.15,494.88 321.78,491.87 322.41,487.27 323.04,483.59 323.68,480.30 324.31,477.60 324.94,475.72 325.57,474.82 326.20,472.61 326.83,472.28 327.46,474.59 328.09,475.23 328.72,477.85 329.36,481.47 329.99,486.13 330.62,490.38 331.25,493.50 331.88,497.79 332.51,502.64 333.14,507.12 333.77,509.39 334.40,511.15 335.04,514.12 335.67,514.50 336.30,515.78 336.93,517.10 337.56,517.35 338.19,517.54 338.82,517.73 339.45,517.93 340.08,518.12 340.72,518.31 341.35,518.47 341.98,518.61 342.61,518.76 343.24,518.90 343.87,518.90 344.50,518.90 345.13,518.90 345.76,518.90 346.40,518.90 347.03,518.90 347.66,518.90 348.29,518.90 348.92,518.90 349.55,518.90 350.18,518.90 350.81,518.90 351.44,518.90 352.08,518.90 352.71,518.90 353.34,518.90 353.97,518.90 354.60,518.90" fill="none" stroke="#115282" stroke-width="1.3" stroke-linejoin="round"/>
<polyline points="297.80,517.87 298.43,518.10 299.06,518.33 299.69,518.56 300.32,518.79 300.96,518.90 301.59,518.90 302.22,518.90 302.85,518.90 303.48,518.90 304.11,518.90 304.74,518.90 305.37,518.90 306.00,518.90 306.64,518.90 307.27,518.90 307.90,518.90 308.53,518.90 309.16,518.90 309.79,518.90 310.42,518.84 311.05,518.56 311.68,518.27 312.32,517.98 312.95,517.70 313.58,517.41 314.21,517.49 314.84,517.56 315.47,516.30 316.10,517.26 316.73,516.07 317.36,516.20 318.00,515.91 318.63,513.38 319.26,512.75 319.89,510.32 320.52,509.47 321.15,507.70 321.78,505.30 322.41,502.75 323.04,502.48 323.68,500.67 324.31,498.34 324.94,496.19 325.57,495.46 326.20,494.35 326.83,491.77 327.46,492.32 328.09,489.26 328.72,489.06 329.36,488.10 329.99,487.01 330.62,485.47 331.25,483.27 331.88,483.44 332.51,480.89 333.14,479.05 333.77,477.88 334.40,475.80 335.04,475.66 335.67,475.09 336.30,474.21 336.93,472.66 337.56,472.61 338.19,473.13 338.82,472.86 339.45,473.42 340.08,476.08 340.72,480.51 341.35,486.15 341.98,492.54 342.61,497.53 343.24,503.37 343.87,508.38 344.50,513.55 345.13,515.90 345.76,515.90 346.40,518.33 347.03,518.90 347.66,518.90 348.29,518.90 348.92,518.90 349.55,518.90 350.18,518.90 350.81,518.90 351.44,518.90 352.08,518.90 352.71,518.90 353.34,518.63 353.97,518.25 354.60,517.87" fill="none" stroke="#c4122e" stroke-width="1.3" stroke-linejoin="round"/>
<line x1="330.74" y1="498.26" x2="354.60" y2="498.26" stroke="#999" stroke-width="1.1" />
<rect x="297.8" y="465.8" width="56.80000000000001" height="53.099999999999966" fill="none" stroke="#111" stroke-width="1.35"/>
<line x1="296.20" y1="518.90" x2="297.80" y2="518.90" stroke="#111" stroke-width="0.8" />
<text transform="translate(296.00,518.90)" x="0" y="2.23" font-size="6.2" text-anchor="end" fill="#383838" >0</text>
<line x1="296.20" y1="508.58" x2="297.80" y2="508.58" stroke="#111" stroke-width="0.8" />
<text transform="translate(296.00,508.58)" x="0" y="2.23" font-size="6.2" text-anchor="end" fill="#383838" >20</text>
<line x1="296.20" y1="498.26" x2="297.80" y2="498.26" stroke="#111" stroke-width="0.8" />
<text transform="translate(296.00,498.26)" x="0" y="2.23" font-size="6.2" text-anchor="end" fill="#383838" >40</text>
<line x1="296.20" y1="487.94" x2="297.80" y2="487.94" stroke="#111" stroke-width="0.8" />
<text transform="translate(296.00,487.94)" x="0" y="2.23" font-size="6.2" text-anchor="end" fill="#383838" >60</text>
<line x1="296.20" y1="477.62" x2="297.80" y2="477.62" stroke="#111" stroke-width="0.8" />
<text transform="translate(296.00,477.62)" x="0" y="2.23" font-size="6.2" text-anchor="end" fill="#383838" >80</text>
<line x1="296.20" y1="467.30" x2="297.80" y2="467.30" stroke="#111" stroke-width="0.8" />
<text transform="translate(296.00,467.30)" x="0" y="2.23" font-size="6.2" text-anchor="end" fill="#383838" >100</text>
<line x1="303.48" y1="518.90" x2="303.48" y2="520.50" stroke="#111" stroke-width="0.8" />
<text x="303.48" y="518.9" dy="7.3" font-size="5.8" text-anchor="middle" fill="#333">0</text>
<line x1="309.73" y1="518.90" x2="309.73" y2="520.50" stroke="#111" stroke-width="0.8" />
<text x="309.728" y="518.9" dy="7.3" font-size="5.8" text-anchor="middle" fill="#333">10<tspan font-size="4" dy="-2">2</tspan></text>
<line x1="323.36" y1="518.90" x2="323.36" y2="520.50" stroke="#111" stroke-width="0.8" />
<text x="323.36" y="518.9" dy="7.3" font-size="5.8" text-anchor="middle" fill="#333">10<tspan font-size="4" dy="-2">3</tspan></text>
<line x1="336.42" y1="518.90" x2="336.42" y2="520.50" stroke="#111" stroke-width="0.8" />
<text x="336.42400000000004" y="518.9" dy="7.3" font-size="5.8" text-anchor="middle" fill="#333">10<tspan font-size="4" dy="-2">4</tspan></text>
<line x1="349.49" y1="518.90" x2="349.49" y2="520.50" stroke="#111" stroke-width="0.8" />
<text x="349.488" y="518.9" dy="7.3" font-size="5.8" text-anchor="middle" fill="#333">10<tspan font-size="4" dy="-2">5</tspan></text>
<text transform="translate(326.50,535.50) scale(0.86,1)" x="0" y="3.24" font-size="9" text-anchor="middle" fill="#383838" >CD14</text>
<svg x="274.1" y="425.1" width="31.799999999999955" height="32.0" viewBox="274.1 425.1 31.799999999999955 32.0">
<defs><linearGradient id="cg1" x1="0" y1="0" x2="0" y2="1"><stop offset="0" stop-color="#78c8bc"/><stop offset="1" stop-color="#68bdb0"/></linearGradient></defs>
<rect x="274.10" y="425.10" width="31.80" height="32.00" fill="url(#cg1)" />
<circle cx="279.1" cy="432.2" r="3.8" fill="#5d93c6" filter="url(#bl05)" opacity="0.9"/>
<circle cx="279.1" cy="432.4" r="3.0" fill="#3564ad" filter="url(#bl1)" opacity="0.9"/>
<circle cx="286.9" cy="435.8" r="4.6" fill="#5d93c6" filter="url(#bl05)" opacity="0.9"/>
<circle cx="286.5" cy="436.2" r="3.6" fill="#3564ad" filter="url(#bl1)" opacity="0.9"/>
<circle cx="279.8" cy="441.5" r="4.6" fill="#5d93c6" filter="url(#bl05)" opacity="0.9"/>
<circle cx="279.6" cy="441.8" r="3.6" fill="#3564ad" filter="url(#bl1)" opacity="0.9"/>
<circle cx="301.2" cy="439.4" r="4.2" fill="#5d93c6" filter="url(#bl05)" opacity="0.9"/>
<circle cx="301" cy="439.6" r="3.3" fill="#3564ad" filter="url(#bl1)" opacity="0.9"/>
<circle cx="289.8" cy="450" r="4.6" fill="#5d93c6" filter="url(#bl05)" opacity="0.9"/>
<circle cx="289.6" cy="450.2" r="3.6" fill="#3564ad" filter="url(#bl1)" opacity="0.9"/>
<circle cx="276.3" cy="457.5" r="3.5" fill="#5d93c6" filter="url(#bl05)" opacity="0.9"/>
<circle cx="276.3" cy="457.5" r="2.8" fill="#3564ad" filter="url(#bl1)" opacity="0.9"/>
<circle cx="296.2" cy="458" r="3" fill="#5d93c6" filter="url(#bl05)" opacity="0.9"/>
<circle cx="296.2" cy="458" r="2.4" fill="#3564ad" filter="url(#bl1)" opacity="0.9"/>
</svg>
<svg x="311.8" y="425.1" width="31.30000000000001" height="32.0" viewBox="311.8 425.1 31.30000000000001 32.0">
<defs><linearGradient id="cg2" x1="0" y1="0" x2="0" y2="1"><stop offset="0" stop-color="#78c8bc"/><stop offset="1" stop-color="#68bdb0"/></linearGradient></defs>
<rect x="311.80" y="425.10" width="31.30" height="32.00" fill="url(#cg2)" />
<circle cx="318.9" cy="444.3" r="5.2" fill="#8fd2c8" filter="url(#bl05)" opacity="0.9"/>
<circle cx="321.8" cy="445.8" r="2.8" fill="#3f70b6" filter="url(#bl1)" opacity="0.9"/>
<circle cx="337.7" cy="442.9" r="4.6" fill="#86cec4" filter="url(#bl05)" opacity="0.9"/>
<circle cx="337.5" cy="445" r="2.8" fill="#4473b8" filter="url(#bl1)" opacity="0.9"/>
</svg>
<circle cx="318.9" cy="444.3" r="5.2" fill="none" stroke="#5aa8a8" stroke-width="0.5"/>
<line x1="333.9" y1="432.2" x2="323.3" y2="438.6" stroke="#e0202a" stroke-width="1"/><polygon points="321.1,439.8 324.2,436.3 325.2,439.4" fill="#e0202a"/>
<text transform="translate(290.60,420.00)" x="0" y="3.53" font-size="9.8" text-anchor="middle" fill="#222" >Dox–</text>
<text transform="translate(327.90,420.00)" x="0" y="3.53" font-size="9.8" text-anchor="middle" fill="#222" >Dox+</text>
<text transform="translate(376.90,419.00)" x="0" y="4.18" font-size="11.6" text-anchor="start" fill="#000" font-weight="bold" >I</text>
<line x1="417.90" y1="422.80" x2="417.90" y2="515.90" stroke="#111" stroke-width="1.2" />
<line x1="414.60" y1="515.40" x2="417.90" y2="515.40" stroke="#111" stroke-width="1.2" />
<text transform="translate(411.90,515.40)" x="0" y="2.81" font-size="7.8" text-anchor="end" fill="#383838" >0</text>
<line x1="414.60" y1="492.42" x2="417.90" y2="492.42" stroke="#111" stroke-width="1.2" />
<text transform="translate(411.90,492.42)" x="0" y="2.81" font-size="7.8" text-anchor="end" fill="#383838" >100</text>
<line x1="414.60" y1="469.44" x2="417.90" y2="469.44" stroke="#111" stroke-width="1.2" />
<text transform="translate(411.90,469.44)" x="0" y="2.81" font-size="7.8" text-anchor="end" fill="#383838" >200</text>
<line x1="414.60" y1="446.46" x2="417.90" y2="446.46" stroke="#111" stroke-width="1.2" />
<text transform="translate(411.90,446.46)" x="0" y="2.81" font-size="7.8" text-anchor="end" fill="#383838" >300</text>
<line x1="414.60" y1="423.48" x2="417.90" y2="423.48" stroke="#111" stroke-width="1.2" />
<text transform="translate(411.90,423.48)" x="0" y="2.81" font-size="7.8" text-anchor="end" fill="#383838" >400</text>
<line x1="414.60" y1="515.40" x2="501.00" y2="515.40" stroke="#111" stroke-width="1.2" />
<line x1="459.50" y1="515.40" x2="459.50" y2="517.80" stroke="#111" stroke-width="1.15" />
<rect x="421.30" y="484.38" width="6.40" height="31.02" fill="#c4122e" />
<line x1="424.50" y1="480.93" x2="424.50" y2="484.38" stroke="#c4122e" stroke-width="1" />
<line x1="422.50" y1="480.93" x2="426.50" y2="480.93" stroke="#c4122e" stroke-width="1" />
<rect x="427.70" y="459.79" width="6.40" height="55.61" fill="#115282" />
<line x1="430.90" y1="448.76" x2="430.90" y2="459.79" stroke="#115282" stroke-width="1" />
<line x1="428.90" y1="448.76" x2="432.90" y2="448.76" stroke="#115282" stroke-width="1" />
<line x1="427.70" y1="515.40" x2="427.70" y2="517.80" stroke="#111" stroke-width="1.15" />
<rect x="436.90" y="486.22" width="6.40" height="29.18" fill="#c4122e" />
<line x1="440.10" y1="481.39" x2="440.10" y2="486.22" stroke="#c4122e" stroke-width="1" />
<line x1="438.10" y1="481.39" x2="442.10" y2="481.39" stroke="#c4122e" stroke-width="1" />
<rect x="443.30" y="466.22" width="6.40" height="49.18" fill="#115282" />
<line x1="446.50" y1="457.95" x2="446.50" y2="466.22" stroke="#115282" stroke-width="1" />
<line x1="444.50" y1="457.95" x2="448.50" y2="457.95" stroke="#115282" stroke-width="1" />
<line x1="443.30" y1="515.40" x2="443.30" y2="517.80" stroke="#111" stroke-width="1.15" />
<rect x="468.90" y="457.95" width="6.40" height="57.45" fill="#c4122e" />
<line x1="472.10" y1="451.29" x2="472.10" y2="457.95" stroke="#c4122e" stroke-width="1" />
<line x1="470.10" y1="451.29" x2="474.10" y2="451.29" stroke="#c4122e" stroke-width="1" />
<rect x="475.30" y="460.94" width="6.40" height="54.46" fill="#115282" />
<line x1="478.50" y1="448.30" x2="478.50" y2="460.94" stroke="#115282" stroke-width="1" />
<line x1="476.50" y1="448.30" x2="480.50" y2="448.30" stroke="#115282" stroke-width="1" />
<line x1="475.30" y1="515.40" x2="475.30" y2="517.80" stroke="#111" stroke-width="1.15" />
<rect x="484.80" y="465.76" width="6.40" height="49.64" fill="#c4122e" />
<line x1="488.00" y1="455.42" x2="488.00" y2="465.76" stroke="#c4122e" stroke-width="1" />
<line x1="486.00" y1="455.42" x2="490.00" y2="455.42" stroke="#c4122e" stroke-width="1" />
<rect x="491.20" y="459.10" width="6.40" height="56.30" fill="#115282" />
<line x1="494.40" y1="452.43" x2="494.40" y2="459.10" stroke="#115282" stroke-width="1" />
<line x1="492.40" y1="452.43" x2="496.40" y2="452.43" stroke="#115282" stroke-width="1" />
<line x1="491.20" y1="515.40" x2="491.20" y2="517.80" stroke="#111" stroke-width="1.15" />
<polyline points="423.40,448.00 423.40,444.00 430.60,444.00 430.60,448.00" fill="none" stroke="#222" stroke-width="1"/>
<circle cx="427.00" cy="440.80" r="1.05" fill="#111"/>
<polyline points="439.20,455.80 439.20,451.80 446.40,451.80 446.40,455.80" fill="none" stroke="#222" stroke-width="1"/>
<circle cx="442.80" cy="448.60" r="1.05" fill="#111"/>
<polyline points="470.4,446.5 470.4,442.3 478.5,442.3 478.5,446.5" fill="none" stroke="#222" stroke-width="1.1"/>
<text transform="translate(474.50,437.20)" x="0" y="2.81" font-size="7.8" text-anchor="middle" fill="#383838" >NS</text>
<polyline points="484.9,450.4 484.9,446.2 494.6,446.2 494.6,450.4" fill="none" stroke="#222" stroke-width="1.1"/>
<text transform="translate(489.80,441.60)" x="0" y="2.81" font-size="7.8" text-anchor="middle" fill="#383838" >NS</text>
<rect x="422.80" y="414.60" width="10.10" height="4.90" fill="#c4122e" />
<text transform="translate(434.90,417.10)" x="0" y="2.81" font-size="7.8" text-anchor="start" fill="#383838" >Control</text>
<rect x="422.80" y="422.40" width="10.10" height="5.50" fill="#115282" />
<text transform="translate(434.90,425.20)" x="0" y="2.81" font-size="7.8" text-anchor="start" fill="#383838" >GADD45g</text>
<text transform="translate(389.5,470.6) rotate(-90) scale(0.78,1)" x="0" y="3.24" font-size="9" text-anchor="middle" fill="#383838">MFI</text>
<text transform="translate(431.2,520.5) rotate(-45)" x="0" y="3.02" font-size="8.4" text-anchor="end" fill="#383838">CD11b</text>
<text transform="translate(446.8,520.5) rotate(-45)" x="0" y="3.02" font-size="8.4" text-anchor="end" fill="#383838">CD14</text>
<text transform="translate(478.8,520.5) rotate(-45)" x="0" y="3.02" font-size="8.4" text-anchor="end" fill="#383838">CD11b</text>
<text transform="translate(494.7,520.5) rotate(-45)" x="0" y="3.02" font-size="8.4" text-anchor="end" fill="#383838">CD14</text>
<line x1="407.40" y1="548.40" x2="442.70" y2="548.40" stroke="#111" stroke-width="1.15" />
<text transform="translate(424.80,555.70) scale(0.86,1)" x="0" y="3.02" font-size="8.4" text-anchor="middle" fill="#383838" >AML</text>
<line x1="455.40" y1="548.40" x2="490.00" y2="548.40" stroke="#111" stroke-width="1.15" />
<text transform="translate(475.30,555.70) scale(0.86,1)" x="0" y="3.02" font-size="8.4" text-anchor="middle" fill="#383838" >CB</text>
<text transform="translate(18.40,570.40)" x="0" y="4.18" font-size="11.6" text-anchor="start" fill="#000" font-weight="bold" >J</text>
<line x1="56.30" y1="578.30" x2="56.30" y2="683.80" stroke="#111" stroke-width="1.2" />
<line x1="53.00" y1="683.30" x2="56.30" y2="683.30" stroke="#111" stroke-width="1.2" />
<text transform="translate(50.30,683.30)" x="0" y="2.81" font-size="7.8" text-anchor="end" fill="#383838" >0</text>
<line x1="53.00" y1="662.40" x2="56.30" y2="662.40" stroke="#111" stroke-width="1.2" />
<text transform="translate(50.30,662.40)" x="0" y="2.81" font-size="7.8" text-anchor="end" fill="#383838" >20</text>
<line x1="53.00" y1="641.50" x2="56.30" y2="641.50" stroke="#111" stroke-width="1.2" />
<text transform="translate(50.30,641.50)" x="0" y="2.81" font-size="7.8" text-anchor="end" fill="#383838" >40</text>
<line x1="53.00" y1="620.60" x2="56.30" y2="620.60" stroke="#111" stroke-width="1.2" />
<text transform="translate(50.30,620.60)" x="0" y="2.81" font-size="7.8" text-anchor="end" fill="#383838" >60</text>
<line x1="53.00" y1="599.70" x2="56.30" y2="599.70" stroke="#111" stroke-width="1.2" />
<text transform="translate(50.30,599.70)" x="0" y="2.81" font-size="7.8" text-anchor="end" fill="#383838" >80</text>
<line x1="53.00" y1="578.80" x2="56.30" y2="578.80" stroke="#111" stroke-width="1.2" />
<text transform="translate(50.30,578.80)" x="0" y="2.81" font-size="7.8" text-anchor="end" fill="#383838" >100</text>
<line x1="53.00" y1="683.30" x2="214.50" y2="683.30" stroke="#111" stroke-width="1.2" />
<rect x="58.00" y="673.89" width="9.50" height="9.40" fill="#115282" />
<line x1="62.75" y1="670.13" x2="62.75" y2="673.89" stroke="#222" stroke-width="1" />
<line x1="60.50" y1="670.13" x2="65.00" y2="670.13" stroke="#222" stroke-width="1" />
<rect x="67.50" y="660.83" width="9.50" height="22.47" fill="#c4122e" />
<line x1="72.25" y1="656.97" x2="72.25" y2="660.83" stroke="#222" stroke-width="1" />
<line x1="70.00" y1="656.97" x2="74.50" y2="656.97" stroke="#222" stroke-width="1" />
<line x1="67.50" y1="683.30" x2="67.50" y2="685.90" stroke="#111" stroke-width="1.15" />
<line x1="62.00" y1="654.50" x2="74.00" y2="654.50" stroke="#222" stroke-width="1" />
<circle cx="66.35" cy="651.10" r="1.05" fill="#111"/>
<circle cx="69.65" cy="651.10" r="1.05" fill="#111"/>
<rect x="80.50" y="671.80" width="9.50" height="11.50" fill="#115282" />
<line x1="85.25" y1="670.13" x2="85.25" y2="671.80" stroke="#222" stroke-width="1" />
<line x1="83.00" y1="670.13" x2="87.50" y2="670.13" stroke="#222" stroke-width="1" />
<rect x="90.00" y="646.20" width="9.50" height="37.10" fill="#c4122e" />
<line x1="94.75" y1="643.17" x2="94.75" y2="646.20" stroke="#222" stroke-width="1" />
<line x1="92.50" y1="643.17" x2="97.00" y2="643.17" stroke="#222" stroke-width="1" />
<line x1="90.00" y1="683.30" x2="90.00" y2="685.90" stroke="#111" stroke-width="1.15" />
<line x1="84.50" y1="640.80" x2="96.50" y2="640.80" stroke="#222" stroke-width="1" />
<circle cx="87.20" cy="637.40" r="1.05" fill="#111"/>
<circle cx="90.50" cy="637.40" r="1.05" fill="#111"/>
<circle cx="93.80" cy="637.40" r="1.05" fill="#111"/>
<rect x="103.00" y="669.71" width="9.50" height="13.59" fill="#115282" />
<line x1="107.75" y1="666.79" x2="107.75" y2="669.71" stroke="#222" stroke-width="1" />
<line x1="105.50" y1="666.79" x2="110.00" y2="666.79" stroke="#222" stroke-width="1" />
<rect x="112.50" y="636.80" width="9.50" height="46.50" fill="#c4122e" />
<line x1="117.25" y1="632.93" x2="117.25" y2="636.80" stroke="#222" stroke-width="1" />
<line x1="115.00" y1="632.93" x2="119.50" y2="632.93" stroke="#222" stroke-width="1" />
<line x1="112.50" y1="683.30" x2="112.50" y2="685.90" stroke="#111" stroke-width="1.15" />
<line x1="107.00" y1="630.50" x2="119.00" y2="630.50" stroke="#222" stroke-width="1" />
<circle cx="109.70" cy="627.10" r="1.05" fill="#111"/>
<circle cx="113.00" cy="627.10" r="1.05" fill="#111"/>
<circle cx="116.30" cy="627.10" r="1.05" fill="#111"/>
<rect x="125.50" y="667.10" width="9.50" height="16.20" fill="#115282" />
<line x1="130.25" y1="663.24" x2="130.25" y2="667.10" stroke="#222" stroke-width="1" />
<line x1="128.00" y1="663.24" x2="132.50" y2="663.24" stroke="#222" stroke-width="1" />
<rect x="135.00" y="627.39" width="9.50" height="55.91" fill="#c4122e" />
<line x1="139.75" y1="619.76" x2="139.75" y2="627.39" stroke="#222" stroke-width="1" />
<line x1="137.50" y1="619.76" x2="142.00" y2="619.76" stroke="#222" stroke-width="1" />
<line x1="135.00" y1="683.30" x2="135.00" y2="685.90" stroke="#111" stroke-width="1.15" />
<line x1="129.50" y1="618.80" x2="141.50" y2="618.80" stroke="#222" stroke-width="1" />
<circle cx="132.20" cy="615.40" r="1.05" fill="#111"/>
<circle cx="135.50" cy="615.40" r="1.05" fill="#111"/>
<circle cx="138.80" cy="615.40" r="1.05" fill="#111"/>
<rect x="148.00" y="668.15" width="9.50" height="15.15" fill="#115282" />
<line x1="152.75" y1="663.44" x2="152.75" y2="668.15" stroke="#222" stroke-width="1" />
<line x1="150.50" y1="663.44" x2="155.00" y2="663.44" stroke="#222" stroke-width="1" />
<rect x="157.50" y="628.44" width="9.50" height="54.86" fill="#c4122e" />
<line x1="162.25" y1="625.62" x2="162.25" y2="628.44" stroke="#222" stroke-width="1" />
<line x1="160.00" y1="625.62" x2="164.50" y2="625.62" stroke="#222" stroke-width="1" />
<line x1="157.50" y1="683.30" x2="157.50" y2="685.90" stroke="#111" stroke-width="1.15" />
<line x1="152.00" y1="622.50" x2="164.00" y2="622.50" stroke="#222" stroke-width="1" />
<circle cx="154.70" cy="619.10" r="1.05" fill="#111"/>
<circle cx="158.00" cy="619.10" r="1.05" fill="#111"/>
<circle cx="161.30" cy="619.10" r="1.05" fill="#111"/>
<rect x="170.50" y="663.97" width="9.50" height="19.33" fill="#115282" />
<line x1="175.25" y1="661.04" x2="175.25" y2="663.97" stroke="#222" stroke-width="1" />
<line x1="173.00" y1="661.04" x2="177.50" y2="661.04" stroke="#222" stroke-width="1" />
<rect x="180.00" y="621.12" width="9.50" height="62.18" fill="#c4122e" />
<line x1="184.75" y1="617.15" x2="184.75" y2="621.12" stroke="#222" stroke-width="1" />
<line x1="182.50" y1="617.15" x2="187.00" y2="617.15" stroke="#222" stroke-width="1" />
<line x1="180.00" y1="683.30" x2="180.00" y2="685.90" stroke="#111" stroke-width="1.15" />
<line x1="174.50" y1="613.80" x2="186.50" y2="613.80" stroke="#222" stroke-width="1" />
<circle cx="177.20" cy="610.40" r="1.05" fill="#111"/>
<circle cx="180.50" cy="610.40" r="1.05" fill="#111"/>
<circle cx="183.80" cy="610.40" r="1.05" fill="#111"/>
<rect x="193.00" y="658.22" width="9.50" height="25.08" fill="#115282" />
<line x1="197.75" y1="653.73" x2="197.75" y2="658.22" stroke="#222" stroke-width="1" />
<line x1="195.50" y1="653.73" x2="200.00" y2="653.73" stroke="#222" stroke-width="1" />
<rect x="202.50" y="607.54" width="9.50" height="75.76" fill="#c4122e" />
<line x1="207.25" y1="603.04" x2="207.25" y2="607.54" stroke="#222" stroke-width="1" />
<line x1="205.00" y1="603.04" x2="209.50" y2="603.04" stroke="#222" stroke-width="1" />
<line x1="202.50" y1="683.30" x2="202.50" y2="685.90" stroke="#111" stroke-width="1.15" />
<line x1="197.00" y1="600.00" x2="209.00" y2="600.00" stroke="#222" stroke-width="1" />
<circle cx="199.70" cy="596.60" r="1.05" fill="#111"/>
<circle cx="203.00" cy="596.60" r="1.05" fill="#111"/>
<circle cx="206.30" cy="596.60" r="1.05" fill="#111"/>
<text transform="translate(67.40,693.30)" x="0" y="3.02" font-size="8.4" text-anchor="middle" fill="#383838" >0</text>
<text transform="translate(89.30,693.30)" x="0" y="3.02" font-size="8.4" text-anchor="middle" fill="#383838" >50ng</text>
<text transform="translate(111.40,693.30)" x="0" y="3.02" font-size="8.4" text-anchor="middle" fill="#383838" >100ng</text>
<text transform="translate(136.40,693.30)" x="0" y="3.02" font-size="8.4" text-anchor="middle" fill="#383838" >200ng</text>
<text transform="translate(159.90,693.30)" x="0" y="3.02" font-size="8.4" text-anchor="middle" fill="#383838" >50ng</text>
<text transform="translate(182.80,693.30)" x="0" y="3.02" font-size="8.4" text-anchor="middle" fill="#383838" >100ng</text>
<text transform="translate(207.50,693.30)" x="0" y="3.02" font-size="8.4" text-anchor="middle" fill="#383838" >200ng</text>
<line x1="82.50" y1="607.50" x2="143.30" y2="607.50" stroke="#111" stroke-width="1.2" />
<text transform="translate(112.90,602.50) scale(0.9,1)" x="0" y="3.02" font-size="8.4" text-anchor="middle" fill="#383838" >DNR</text>
<line x1="149.50" y1="585.30" x2="211.80" y2="585.30" stroke="#111" stroke-width="1.2" />
<text transform="translate(181.30,579.50) scale(0.9,1)" x="0" y="3.02" font-size="8.4" text-anchor="middle" fill="#383838" >VP-16</text>
<rect x="59.30" y="576.30" width="10.70" height="4.50" fill="#115282" />
<text transform="translate(72.50,578.60)" x="0" y="2.81" font-size="7.8" text-anchor="start" fill="#383838" >Dox–</text>
<rect x="59.30" y="584.30" width="10.70" height="5.00" fill="#c4122e" />
<text transform="translate(72.50,586.80)" x="0" y="2.81" font-size="7.8" text-anchor="start" fill="#383838" >Dox+</text>
<text transform="translate(32.7,631.2) rotate(-90) scale(0.86,1)" x="0" y="3.28" font-size="9.1" text-anchor="middle" fill="#383838">Annexin V<tspan font-size="5.8" dy="-3.2">+</tspan><tspan dy="3.2"> (%)</tspan></text>
<text transform="translate(285.40,571.80)" x="0" y="4.18" font-size="11.6" text-anchor="start" fill="#000" font-weight="bold" >K</text>
<line x1="323.00" y1="578.50" x2="323.00" y2="684.10" stroke="#111" stroke-width="1.2" />
<line x1="319.70" y1="683.60" x2="323.00" y2="683.60" stroke="#111" stroke-width="1.2" />
<text transform="translate(317.00,683.60)" x="0" y="2.81" font-size="7.8" text-anchor="end" fill="#383838" >0</text>
<line x1="319.70" y1="662.68" x2="323.00" y2="662.68" stroke="#111" stroke-width="1.2" />
<text transform="translate(317.00,662.68)" x="0" y="2.81" font-size="7.8" text-anchor="end" fill="#383838" >20</text>
<line x1="319.70" y1="641.76" x2="323.00" y2="641.76" stroke="#111" stroke-width="1.2" />
<text transform="translate(317.00,641.76)" x="0" y="2.81" font-size="7.8" text-anchor="end" fill="#383838" >40</text>
<line x1="319.70" y1="620.84" x2="323.00" y2="620.84" stroke="#111" stroke-width="1.2" />
<text transform="translate(317.00,620.84)" x="0" y="2.81" font-size="7.8" text-anchor="end" fill="#383838" >60</text>
<line x1="319.70" y1="599.92" x2="323.00" y2="599.92" stroke="#111" stroke-width="1.2" />
<text transform="translate(317.00,599.92)" x="0" y="2.81" font-size="7.8" text-anchor="end" fill="#383838" >80</text>
<line x1="319.70" y1="579.00" x2="323.00" y2="579.00" stroke="#111" stroke-width="1.2" />
<text transform="translate(317.00,579.00)" x="0" y="2.81" font-size="7.8" text-anchor="end" fill="#383838" >100</text>
<line x1="319.70" y1="683.60" x2="481.00" y2="683.60" stroke="#111" stroke-width="1.2" />
<rect x="325.90" y="675.23" width="5.60" height="8.37" fill="#c4122e" />
<line x1="328.70" y1="672.62" x2="328.70" y2="675.23" stroke="#222" stroke-width="1" />
<line x1="327.10" y1="672.62" x2="330.30" y2="672.62" stroke="#222" stroke-width="1" />
<rect x="331.50" y="675.75" width="5.60" height="7.85" fill="#3db54a" />
<line x1="334.30" y1="673.14" x2="334.30" y2="675.75" stroke="#222" stroke-width="1" />
<line x1="332.70" y1="673.14" x2="335.90" y2="673.14" stroke="#222" stroke-width="1" />
<rect x="337.10" y="675.23" width="5.60" height="8.37" fill="#5a2a6c" />
<line x1="339.90" y1="672.62" x2="339.90" y2="675.23" stroke="#222" stroke-width="1" />
<line x1="338.30" y1="672.62" x2="341.50" y2="672.62" stroke="#222" stroke-width="1" />
<line x1="334.30" y1="683.60" x2="334.30" y2="686.00" stroke="#111" stroke-width="1.15" />
<rect x="348.50" y="652.22" width="5.60" height="31.38" fill="#c4122e" />
<line x1="351.30" y1="645.42" x2="351.30" y2="652.22" stroke="#222" stroke-width="1" />
<line x1="349.70" y1="645.42" x2="352.90" y2="645.42" stroke="#222" stroke-width="1" />
<rect x="354.10" y="662.16" width="5.60" height="21.44" fill="#3db54a" />
<line x1="356.90" y1="657.97" x2="356.90" y2="662.16" stroke="#222" stroke-width="1" />
<line x1="355.30" y1="657.97" x2="358.50" y2="657.97" stroke="#222" stroke-width="1" />
<rect x="359.70" y="663.20" width="5.60" height="20.40" fill="#5a2a6c" />
<line x1="362.50" y1="663.20" x2="362.50" y2="663.20" stroke="#222" stroke-width="1" />
<line x1="360.90" y1="663.20" x2="364.10" y2="663.20" stroke="#222" stroke-width="1" />
<line x1="356.90" y1="683.60" x2="356.90" y2="686.00" stroke="#111" stroke-width="1.15" />
<line x1="351.40" y1="643.00" x2="357.80" y2="643.00" stroke="#222" stroke-width="1.15" />
<circle cx="354.50" cy="639.80" r="1.05" fill="#111"/>
<line x1="351.40" y1="637.30" x2="363.30" y2="637.30" stroke="#222" stroke-width="1.15" />
<circle cx="357.50" cy="633.90" r="1.05" fill="#111"/>
<rect x="370.60" y="619.27" width="5.60" height="64.33" fill="#c4122e" />
<line x1="373.40" y1="613.52" x2="373.40" y2="619.27" stroke="#222" stroke-width="1" />
<line x1="371.80" y1="613.52" x2="375.00" y2="613.52" stroke="#222" stroke-width="1" />
<rect x="376.20" y="643.33" width="5.60" height="40.27" fill="#3db54a" />
<line x1="379.00" y1="638.62" x2="379.00" y2="643.33" stroke="#222" stroke-width="1" />
<line x1="377.40" y1="638.62" x2="380.60" y2="638.62" stroke="#222" stroke-width="1" />
<rect x="381.80" y="651.70" width="5.60" height="31.90" fill="#5a2a6c" />
<line x1="384.60" y1="647.72" x2="384.60" y2="651.70" stroke="#222" stroke-width="1" />
<line x1="383.00" y1="647.72" x2="386.20" y2="647.72" stroke="#222" stroke-width="1" />
<line x1="379.00" y1="683.60" x2="379.00" y2="686.00" stroke="#111" stroke-width="1.15" />
<line x1="373.50" y1="611.90" x2="379.90" y2="611.90" stroke="#222" stroke-width="1.15" />
<circle cx="376.60" cy="608.70" r="1.05" fill="#111"/>
<line x1="373.50" y1="606.20" x2="385.40" y2="606.20" stroke="#222" stroke-width="1.15" />
<circle cx="379.60" cy="602.80" r="1.05" fill="#111"/>
<rect x="392.90" y="592.60" width="5.60" height="91.00" fill="#c4122e" />
<line x1="395.70" y1="589.46" x2="395.70" y2="592.60" stroke="#222" stroke-width="1" />
<line x1="394.10" y1="589.46" x2="397.30" y2="589.46" stroke="#222" stroke-width="1" />
<rect x="398.50" y="613.52" width="5.60" height="70.08" fill="#3db54a" />
<line x1="401.30" y1="609.54" x2="401.30" y2="613.52" stroke="#222" stroke-width="1" />
<line x1="399.70" y1="609.54" x2="402.90" y2="609.54" stroke="#222" stroke-width="1" />
<rect x="404.10" y="614.56" width="5.60" height="69.04" fill="#5a2a6c" />
<line x1="406.90" y1="607.56" x2="406.90" y2="614.56" stroke="#222" stroke-width="1" />
<line x1="405.30" y1="607.56" x2="408.50" y2="607.56" stroke="#222" stroke-width="1" />
<line x1="401.30" y1="683.60" x2="401.30" y2="686.00" stroke="#111" stroke-width="1.15" />
<line x1="395.80" y1="587.00" x2="402.20" y2="587.00" stroke="#222" stroke-width="1.15" />
<circle cx="398.90" cy="583.80" r="1.05" fill="#111"/>
<line x1="395.80" y1="582.40" x2="407.70" y2="582.40" stroke="#222" stroke-width="1.15" />
<circle cx="401.90" cy="579.00" r="1.05" fill="#111"/>
<rect x="415.50" y="642.81" width="5.60" height="40.79" fill="#c4122e" />
<line x1="418.30" y1="639.98" x2="418.30" y2="642.81" stroke="#222" stroke-width="1" />
<line x1="416.70" y1="639.98" x2="419.90" y2="639.98" stroke="#222" stroke-width="1" />
<rect x="421.10" y="659.54" width="5.60" height="24.06" fill="#3db54a" />
<line x1="423.90" y1="656.30" x2="423.90" y2="659.54" stroke="#222" stroke-width="1" />
<line x1="422.30" y1="656.30" x2="425.50" y2="656.30" stroke="#222" stroke-width="1" />
<rect x="426.70" y="664.25" width="5.60" height="19.35" fill="#5a2a6c" />
<line x1="429.50" y1="660.80" x2="429.50" y2="664.25" stroke="#222" stroke-width="1" />
<line x1="427.90" y1="660.80" x2="431.10" y2="660.80" stroke="#222" stroke-width="1" />
<line x1="423.90" y1="683.60" x2="423.90" y2="686.00" stroke="#111" stroke-width="1.15" />
<line x1="418.40" y1="636.30" x2="424.80" y2="636.30" stroke="#222" stroke-width="1.15" />
<circle cx="421.50" cy="633.10" r="1.05" fill="#111"/>
<line x1="418.40" y1="630.10" x2="430.30" y2="630.10" stroke="#222" stroke-width="1.15" />
<circle cx="424.50" cy="626.70" r="1.05" fill="#111"/>
<rect x="437.90" y="640.71" width="5.60" height="42.89" fill="#c4122e" />
<line x1="440.70" y1="636.74" x2="440.70" y2="640.71" stroke="#222" stroke-width="1" />
<line x1="439.10" y1="636.74" x2="442.30" y2="636.74" stroke="#222" stroke-width="1" />
<rect x="443.50" y="649.08" width="5.60" height="34.52" fill="#3db54a" />
<line x1="446.30" y1="645.32" x2="446.30" y2="649.08" stroke="#222" stroke-width="1" />
<line x1="444.70" y1="645.32" x2="447.90" y2="645.32" stroke="#222" stroke-width="1" />
<rect x="449.10" y="655.36" width="5.60" height="28.24" fill="#5a2a6c" />
<line x1="451.90" y1="652.12" x2="451.90" y2="655.36" stroke="#222" stroke-width="1" />
<line x1="450.30" y1="652.12" x2="453.50" y2="652.12" stroke="#222" stroke-width="1" />
<line x1="446.30" y1="683.60" x2="446.30" y2="686.00" stroke="#111" stroke-width="1.15" />
<line x1="440.80" y1="634.00" x2="447.20" y2="634.00" stroke="#222" stroke-width="1.15" />
<circle cx="443.90" cy="630.80" r="1.05" fill="#111"/>
<line x1="440.80" y1="628.00" x2="452.70" y2="628.00" stroke="#222" stroke-width="1.15" />
<circle cx="446.90" cy="624.60" r="1.05" fill="#111"/>
<rect x="460.20" y="616.66" width="5.60" height="66.94" fill="#c4122e" />
<line x1="463.00" y1="613.10" x2="463.00" y2="616.66" stroke="#222" stroke-width="1" />
<line x1="461.40" y1="613.10" x2="464.60" y2="613.10" stroke="#222" stroke-width="1" />
<rect x="465.80" y="629.21" width="5.60" height="54.39" fill="#3db54a" />
<line x1="468.60" y1="627.33" x2="468.60" y2="629.21" stroke="#222" stroke-width="1" />
<line x1="467.00" y1="627.33" x2="470.20" y2="627.33" stroke="#222" stroke-width="1" />
<rect x="471.40" y="633.91" width="5.60" height="49.69" fill="#5a2a6c" />
<line x1="474.20" y1="630.36" x2="474.20" y2="633.91" stroke="#222" stroke-width="1" />
<line x1="472.60" y1="630.36" x2="475.80" y2="630.36" stroke="#222" stroke-width="1" />
<line x1="468.60" y1="683.60" x2="468.60" y2="686.00" stroke="#111" stroke-width="1.15" />
<line x1="463.10" y1="609.80" x2="469.50" y2="609.80" stroke="#222" stroke-width="1.15" />
<circle cx="466.20" cy="606.60" r="1.05" fill="#111"/>
<line x1="463.10" y1="604.10" x2="475.00" y2="604.10" stroke="#222" stroke-width="1.15" />
<circle cx="469.20" cy="600.70" r="1.05" fill="#111"/>
<text transform="translate(334.00,692.90)" x="0" y="3.02" font-size="8.4" text-anchor="middle" fill="#383838" >0</text>
<text transform="translate(355.30,692.90)" x="0" y="3.02" font-size="8.4" text-anchor="middle" fill="#383838" >50ng</text>
<text transform="translate(378.90,692.90)" x="0" y="3.02" font-size="8.4" text-anchor="middle" fill="#383838" >100ng</text>
<text transform="translate(402.20,692.90)" x="0" y="3.02" font-size="8.4" text-anchor="middle" fill="#383838" >200ng</text>
<text transform="translate(426.60,692.90)" x="0" y="3.02" font-size="8.4" text-anchor="middle" fill="#383838" >100ng</text>
<text transform="translate(450.30,692.90)" x="0" y="3.02" font-size="8.4" text-anchor="middle" fill="#383838" >200ng</text>
<text transform="translate(475.30,692.90)" x="0" y="3.02" font-size="8.4" text-anchor="middle" fill="#383838" >400ng</text>
<line x1="327.70" y1="669.00" x2="336.00" y2="669.00" stroke="#222" stroke-width="1" />
<text transform="translate(332.00,664.50)" x="0" y="2.81" font-size="7.8" text-anchor="middle" fill="#383838" >NS</text>
<line x1="327.70" y1="657.40" x2="340.20" y2="657.40" stroke="#222" stroke-width="1" />
<text transform="translate(334.00,652.50)" x="0" y="2.81" font-size="7.8" text-anchor="middle" fill="#383838" >NS</text>
<line x1="349.00" y1="579.70" x2="400.20" y2="579.70" stroke="#111" stroke-width="1.2" />
<text transform="translate(375.20,574.40) scale(0.9,1)" x="0" y="3.02" font-size="8.4" text-anchor="middle" fill="#383838" >DNR</text>
<line x1="418.20" y1="595.50" x2="479.60" y2="595.50" stroke="#111" stroke-width="1.2" />
<text transform="translate(449.50,591.00) scale(0.9,1)" x="0" y="3.02" font-size="8.4" text-anchor="middle" fill="#383838" >VP-16</text>
<rect x="325.60" y="588.00" width="11.20" height="5.70" fill="#c4122e" />
<text transform="translate(339.40,590.90)" x="0" y="2.81" font-size="7.8" text-anchor="start" fill="#383838" >shCtrl</text>
<rect x="325.60" y="596.90" width="11.20" height="5.10" fill="#3db54a" />
<text transform="translate(339.40,599.50)" x="0" y="2.81" font-size="7.8" text-anchor="start" fill="#383838" >shGG-1</text>
<rect x="325.60" y="604.90" width="11.20" height="5.20" fill="#5a2a6c" />
<text transform="translate(339.40,607.50)" x="0" y="2.81" font-size="7.8" text-anchor="start" fill="#383838" >shGG-2</text>
<text transform="translate(299.8,631.2) rotate(-90) scale(0.86,1)" x="0" y="3.28" font-size="9.1" text-anchor="middle" fill="#383838">Annexin V<tspan font-size="5.8" dy="-3.2">+</tspan><tspan dy="3.2"> (%)</tspan></text>
<rect x="0.6" y="0.6" width="518.8" height="703.8" fill="none" stroke="#000" stroke-width="1.5"/>
</svg></body></html>
